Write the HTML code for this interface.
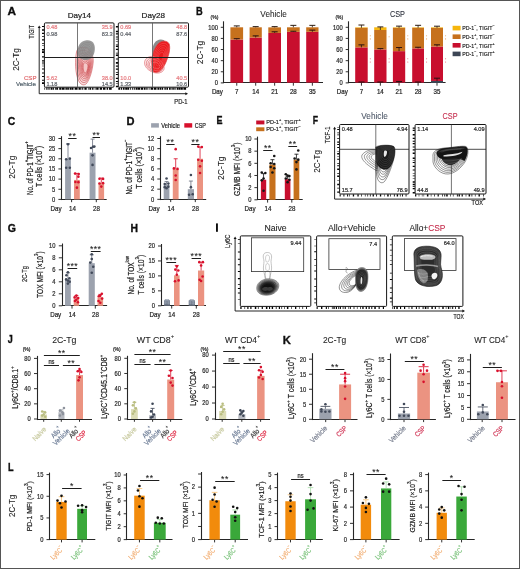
<!DOCTYPE html>
<html><head><meta charset="utf-8"><style>
html,body{margin:0;padding:0;background:#fff;width:520px;height:569px;overflow:hidden}
svg{display:block;will-change:transform}
text{font-family:"Liberation Sans",sans-serif}
</style></head><body>
<svg width="520" height="569" viewBox="0 0 520 569" font-family="Liberation Sans, sans-serif">
<rect x="0" y="0" width="520" height="569" fill="#ffffff" stroke="none" stroke-width="1" />
<text transform="translate(7.5,15.0)" font-size="11.8" text-anchor="start" fill="#0e0e0e" font-weight="bold" stroke="#0e0e0e" stroke-width="0.35">A</text>
<text transform="translate(79.4,17.5)" font-size="8.1" text-anchor="middle" fill="#222" font-weight="normal" stroke="#222" stroke-width="0.2" >Day14</text>
<text transform="translate(153.3,17.5)" font-size="8.1" text-anchor="middle" fill="#222" font-weight="normal" stroke="#222" stroke-width="0.2" >Day28</text>
<text transform="translate(19.0,59.5) rotate(-90)" font-size="9.0" text-anchor="middle" fill="#222" font-weight="normal" stroke="#222" stroke-width="0.08" textLength="22.7" lengthAdjust="spacingAndGlyphs" >2C-Tg</text>
<text transform="translate(33.8,31.8) rotate(-90)" font-size="7.4" text-anchor="middle" fill="#222" font-weight="normal" stroke="#222" stroke-width="0.2" textLength="13.5" lengthAdjust="spacingAndGlyphs" >TIGIT</text>
<text transform="translate(36.4,80.1)" font-size="6.0" text-anchor="end" fill="#e06a6e" font-weight="normal" stroke="#e06a6e" stroke-width="0.2" textLength="12.4" lengthAdjust="spacingAndGlyphs" >CSP</text>
<text transform="translate(35.9,86.4)" font-size="6.0" text-anchor="end" fill="#56656f" font-weight="normal" stroke="#56656f" stroke-width="0.2" textLength="19.8" lengthAdjust="spacingAndGlyphs" >Vehicle</text>
<text transform="translate(187.5,104.0)" font-size="7.2" text-anchor="end" fill="#222" font-weight="normal" stroke="#222" stroke-width="0.2" textLength="13.2" lengthAdjust="spacingAndGlyphs" >PD-1</text>
<line x1="39.2" y1="93.7" x2="39.2" y2="27.5" stroke="#1a1a1a" stroke-width="0.95" />
<path d="M37.7,28.1 L39.2,25.5 L40.7,28.1 Z" fill="#111"/>
<line x1="39.2" y1="93.7" x2="186" y2="93.7" stroke="#1a1a1a" stroke-width="0.95" />
<path d="M185.4,92.2 L188,93.7 L185.4,95.2 Z" fill="#111"/>
<line x1="43.1" y1="25.9" x2="43.1" y2="87.2" stroke="#050505" stroke-width="2.2" stroke-dasharray="1.0 2.3 1.5 2.1 1.1 2.4 0.7 2.2 1.2 2.9 0.6 1.6 0.6 3.0 1.3 0.9 1.6 3.4 1.2 2.5 0.7 0.8 1.1 1.0 0.7 1.5 0.5 2.1 1.0 3.1 1.1 2.5 1.0 2.6 1.0 1.6 1.6 3.5 1.4 2.7 0.8 1.4 0.8 1.0 1.3 1.9 1.4 1.8 1.6 3.1 0.5 1.4 1.5 2.1 1.6 1.9 0.6 2.5 1.4 1.5 0.6 1.7 1.6 2.8 0.6 1.5 0.6 1.0 1.4 1.3 1.1 2.0 0.7 2.8 0.6 2.5 0.6 1.9 0.7 1.5 1.6 3.0 0.8 3.2 0.7 1.9 1.4 2.5 0.6 3.5 0.7 1.5 1.3 1.7 0.8 1.0 0.6 2.4 0.8 2.4 0.9 2.0 1.6 2.1 1.1 3.1 0.7 1.2 1.5 3.0 0.8 1.3 1.3 3.3 0.7 3.4 1.5 2.4 1.0 1.1"/>
<line x1="44.4" y1="88.60000000000001" x2="112" y2="88.60000000000001" stroke="#050505" stroke-width="2.4" stroke-dasharray="0.7 1.2 1.2 0.9 1.2 1.0 2.0 0.5 1.0 0.9 0.8 0.4 1.9 1.1 2.1 0.5 2.8 0.4 0.6 0.5 1.7 0.3 1.0 0.6 2.0 0.3 1.5 1.1 3.0 0.9 2.3 0.8 0.9 0.2 0.6 1.1 2.3 1.2 0.7 0.8 1.8 0.9 1.4 1.2 0.8 0.7 2.4 1.1 2.4 0.9 2.5 1.1 1.4 0.9 2.8 1.1 1.6 1.0 2.7 0.8 2.1 0.6 2.0 0.8 0.8 0.8 3.0 1.1 2.3 0.6 2.4 0.8 1.7 1.0 0.8 1.0 0.7 0.8 1.8 0.4 2.3 0.7 2.1 1.1 1.2 0.2 1.3 0.9 1.1 0.4 2.8 0.9 1.7 1.1 1.4 0.9 1.1 0.6 2.5 1.1 2.7 0.6 2.0 0.5 0.9 0.7 2.6 1.0 2.3 1.2 1.3 0.4 1.7 0.5 1.1 0.6 2.1 0.7 1.4 1.0"/>
<rect x="44.4" y="22.9" width="69.6" height="64.30000000000001" fill="none" stroke="#151515" stroke-width="1.0" rx="1.0"/>
<path d="M76.5,52 C75,60 75,73 78.5,80.5 C80.5,85 84,86 86.5,83.5 C90,79 92.5,70 93.2,62 C93.8,55 90,48.5 85,47.5 C80.5,46.8 77.3,48 76.5,52 Z" fill="#fbe6e6"/>
<path d="M76.5,52 C75,60 75,73 78.5,80.5 C80.5,85 84,86 86.5,83.5 C90,79 92.5,70 93.2,62 C93.8,55 90,48.5 85,47.5 C80.5,46.8 77.3,48 76.5,52 Z" transform="translate(86 68.5) scale(1) translate(-86 -68.5)" fill="#f4c4c4" fill-opacity="0.18" stroke="#c83a40" stroke-width="0.55" vector-effect="non-scaling-stroke"/>
<path d="M76.5,52 C75,60 75,73 78.5,80.5 C80.5,85 84,86 86.5,83.5 C90,79 92.5,70 93.2,62 C93.8,55 90,48.5 85,47.5 C80.5,46.8 77.3,48 76.5,52 Z" transform="translate(86 68.5) scale(0.86) translate(-86 -68.5)" fill="#f4c4c4" fill-opacity="0.18" stroke="#c83a40" stroke-width="0.55" vector-effect="non-scaling-stroke"/>
<path d="M76.5,52 C75,60 75,73 78.5,80.5 C80.5,85 84,86 86.5,83.5 C90,79 92.5,70 93.2,62 C93.8,55 90,48.5 85,47.5 C80.5,46.8 77.3,48 76.5,52 Z" transform="translate(86 68.5) scale(0.73) translate(-86 -68.5)" fill="#f4c4c4" fill-opacity="0.18" stroke="#c83a40" stroke-width="0.55" vector-effect="non-scaling-stroke"/>
<path d="M76.5,52 C75,60 75,73 78.5,80.5 C80.5,85 84,86 86.5,83.5 C90,79 92.5,70 93.2,62 C93.8,55 90,48.5 85,47.5 C80.5,46.8 77.3,48 76.5,52 Z" transform="translate(86 68.5) scale(0.62) translate(-86 -68.5)" fill="#f4c4c4" fill-opacity="0.18" stroke="#c83a40" stroke-width="0.55" vector-effect="non-scaling-stroke"/>
<path d="M76.5,52 C75,60 75,73 78.5,80.5 C80.5,85 84,86 86.5,83.5 C90,79 92.5,70 93.2,62 C93.8,55 90,48.5 85,47.5 C80.5,46.8 77.3,48 76.5,52 Z" transform="translate(86 68.5) scale(0.52) translate(-86 -68.5)" fill="#f4c4c4" fill-opacity="0.18" stroke="#c83a40" stroke-width="0.55" vector-effect="non-scaling-stroke"/>
<path d="M76.5,52 C75,60 75,73 78.5,80.5 C80.5,85 84,86 86.5,83.5 C90,79 92.5,70 93.2,62 C93.8,55 90,48.5 85,47.5 C80.5,46.8 77.3,48 76.5,52 Z" transform="translate(86 68.5) scale(0.43) translate(-86 -68.5)" fill="#f4c4c4" fill-opacity="0.18" stroke="#c83a40" stroke-width="0.55" vector-effect="non-scaling-stroke"/>
<path d="M76.5,52 C75,60 75,73 78.5,80.5 C80.5,85 84,86 86.5,83.5 C90,79 92.5,70 93.2,62 C93.8,55 90,48.5 85,47.5 C80.5,46.8 77.3,48 76.5,52 Z" transform="translate(86 68.5) scale(0.35) translate(-86 -68.5)" fill="#f4c4c4" fill-opacity="0.18" stroke="#c83a40" stroke-width="0.55" vector-effect="non-scaling-stroke"/>
<path d="M76.5,52 C75,60 75,73 78.5,80.5 C80.5,85 84,86 86.5,83.5 C90,79 92.5,70 93.2,62 C93.8,55 90,48.5 85,47.5 C80.5,46.8 77.3,48 76.5,52 Z" transform="translate(86 68.5) scale(0.27) translate(-86 -68.5)" fill="#f4c4c4" fill-opacity="0.18" stroke="#c83a40" stroke-width="0.55" vector-effect="non-scaling-stroke"/>
<path d="M77.3,53 C77,46 80.5,41 86.5,40.2 C92.5,39.6 95.2,43.5 94.8,49.5 C94.3,55.5 91.5,59.8 86.5,60 C81.5,60.2 77.6,58 77.3,53 Z" fill="#8c8c8c" opacity="0.88"/>
<path d="M79,53 C79,47 82,43 87,42.5 C92,42 93.5,45 93,50 C92.5,55 90,58.5 86,58.5 C82,58.5 79,57 79,53 Z" transform="translate(87 50) scale(1.000) translate(-87 -50)" fill="none" stroke="#7a7a7a" stroke-width="0.35" vector-effect="non-scaling-stroke" opacity="1"/>
<path d="M79,53 C79,47 82,43 87,42.5 C92,42 93.5,45 93,50 C92.5,55 90,58.5 86,58.5 C82,58.5 79,57 79,53 Z" transform="translate(87 50) scale(0.783) translate(-87 -50)" fill="none" stroke="#7a7a7a" stroke-width="0.35" vector-effect="non-scaling-stroke" opacity="1"/>
<path d="M79,53 C79,47 82,43 87,42.5 C92,42 93.5,45 93,50 C92.5,55 90,58.5 86,58.5 C82,58.5 79,57 79,53 Z" transform="translate(87 50) scale(0.567) translate(-87 -50)" fill="none" stroke="#7a7a7a" stroke-width="0.35" vector-effect="non-scaling-stroke" opacity="1"/>
<path d="M79,53 C79,47 82,43 87,42.5 C92,42 93.5,45 93,50 C92.5,55 90,58.5 86,58.5 C82,58.5 79,57 79,53 Z" transform="translate(87 50) scale(0.350) translate(-87 -50)" fill="none" stroke="#7a7a7a" stroke-width="0.35" vector-effect="non-scaling-stroke" opacity="1"/>
<line x1="77.5" y1="22.9" x2="77.5" y2="87.2" stroke="#555" stroke-width="0.8" />
<line x1="44.4" y1="57.5" x2="114" y2="57.5" stroke="#1e1e1e" stroke-width="1.0" />
<text transform="translate(46.4,29.299999999999997)" font-size="5.6" text-anchor="start" fill="#e67c80" font-weight="normal" stroke="#e67c80" stroke-width="0.2" >0.48</text>
<text transform="translate(46.4,35.599999999999994)" font-size="5.6" text-anchor="start" fill="#62666c" font-weight="normal" stroke="#62666c" stroke-width="0.2" >0.98</text>
<text transform="translate(112.7,29.299999999999997)" font-size="5.6" text-anchor="end" fill="#e67c80" font-weight="normal" stroke="#e67c80" stroke-width="0.2" >35.9</text>
<text transform="translate(112.7,35.599999999999994)" font-size="5.6" text-anchor="end" fill="#62666c" font-weight="normal" stroke="#62666c" stroke-width="0.2" >83.3</text>
<text transform="translate(46.4,79.8)" font-size="5.6" text-anchor="start" fill="#e67c80" font-weight="normal" stroke="#e67c80" stroke-width="0.2" >5.62</text>
<text transform="translate(46.4,85.60000000000001)" font-size="5.6" text-anchor="start" fill="#62666c" font-weight="normal" stroke="#62666c" stroke-width="0.2" >1.18</text>
<text transform="translate(112.7,79.8)" font-size="5.6" text-anchor="end" fill="#e67c80" font-weight="normal" stroke="#e67c80" stroke-width="0.2" >38.0</text>
<text transform="translate(112.7,85.60000000000001)" font-size="5.6" text-anchor="end" fill="#62666c" font-weight="normal" stroke="#62666c" stroke-width="0.2" >14.5</text>
<line x1="117.0" y1="25.9" x2="117.0" y2="87.2" stroke="#050505" stroke-width="2.2" stroke-dasharray="1.5 3.4 1.5 1.0 1.2 1.9 1.1 1.2 0.7 2.0 0.7 2.0 0.5 1.0 1.3 1.9 1.1 2.8 0.9 1.0 1.4 2.4 1.2 2.5 1.6 1.8 1.3 1.8 1.1 2.6 0.8 1.0 1.0 2.7 1.1 2.0 1.2 1.3 0.7 1.7 1.4 1.3 0.6 1.1 0.5 1.5 1.1 3.0 0.9 1.8 0.8 1.6 1.4 2.3 0.8 1.1 1.4 2.7 1.4 1.4 1.1 3.3 1.2 3.4 0.7 3.4 0.6 1.9 0.5 3.0 1.3 3.4 1.4 3.4 1.1 3.5 1.3 1.7 1.6 1.8 0.7 1.0 1.0 1.3 1.5 3.4 0.7 1.1 1.1 1.3 1.1 3.0 0.8 1.9 1.5 2.0 0.9 3.2 1.4 3.2 1.3 1.9 1.3 3.0 1.2 1.4 0.8 1.9 1.3 2.3 1.1 3.0 0.6 2.5 0.9 2.3 1.4 1.5 1.5 1.0"/>
<line x1="118.3" y1="88.60000000000001" x2="186.5" y2="88.60000000000001" stroke="#050505" stroke-width="2.4" stroke-dasharray="1.9 0.7 1.2 0.8 1.7 0.6 2.3 0.2 1.5 1.0 0.9 1.1 1.1 0.9 1.0 0.6 1.6 0.3 2.3 0.7 2.3 0.7 1.9 0.7 1.3 1.1 0.8 1.1 2.7 0.7 2.5 0.9 2.1 0.5 1.4 0.5 1.3 1.2 1.4 0.6 1.6 1.0 1.7 0.8 1.2 0.5 0.8 0.4 1.2 1.1 1.8 0.3 1.7 0.3 2.0 0.6 2.7 0.5 2.6 0.4 3.0 0.8 0.7 1.0 1.3 0.6 1.0 1.0 0.8 0.9 1.5 0.9 1.3 0.3 2.8 0.9 1.0 1.2 2.8 0.4 0.6 0.8 0.9 0.9 1.7 0.9 2.0 1.0 2.6 0.8 2.0 0.5 0.9 0.3 2.7 0.4 1.6 0.5 2.1 0.7 2.7 0.6 1.5 0.9 2.4 1.1 1.3 1.1 3.0 1.2 0.9 0.6 2.5 1.0 0.7 0.6 2.3 1.0 1.9 0.4"/>
<rect x="118.3" y="22.9" width="70.2" height="64.30000000000001" fill="none" stroke="#151515" stroke-width="1.0" rx="1.0"/>
<path d="M152.6,50 C152.4,44 155.8,39.6 160.6,39.4 C165,39.2 166.4,42.5 165.4,47.5 C164.4,53.5 160.5,58.5 156.5,58.8 C153.8,59 152.7,55 152.6,50 Z" fill="#8c8c8c"/>
<path d="M144.5,63 C144.5,58.5 149,56 153,56.5 C158,57.5 163,62 164,67 C164.8,71 161,73.5 156,73 C151,72.5 144.5,68 144.5,63 Z" fill="#fde8e8"/>
<path d="M144.5,63 C144.5,58.5 149,56 153,56.5 C158,57.5 163,62 164,67 C164.8,71 161,73.5 156,73 C151,72.5 144.5,68 144.5,63 Z" transform="translate(156 66) scale(1) translate(-156 -66)" fill="none" stroke="#cf3a44" stroke-width="0.5" vector-effect="non-scaling-stroke"/>
<path d="M144.5,63 C144.5,58.5 149,56 153,56.5 C158,57.5 163,62 164,67 C164.8,71 161,73.5 156,73 C151,72.5 144.5,68 144.5,63 Z" transform="translate(156 66) scale(0.84) translate(-156 -66)" fill="none" stroke="#cf3a44" stroke-width="0.5" vector-effect="non-scaling-stroke"/>
<path d="M144.5,63 C144.5,58.5 149,56 153,56.5 C158,57.5 163,62 164,67 C164.8,71 161,73.5 156,73 C151,72.5 144.5,68 144.5,63 Z" transform="translate(156 66) scale(0.7) translate(-156 -66)" fill="none" stroke="#cf3a44" stroke-width="0.5" vector-effect="non-scaling-stroke"/>
<path d="M144.5,63 C144.5,58.5 149,56 153,56.5 C158,57.5 163,62 164,67 C164.8,71 161,73.5 156,73 C151,72.5 144.5,68 144.5,63 Z" transform="translate(156 66) scale(0.57) translate(-156 -66)" fill="none" stroke="#cf3a44" stroke-width="0.5" vector-effect="non-scaling-stroke"/>
<path d="M151.8,64 C151.5,57 154,48 158.5,43.5 C162.5,40 168,40.5 169.3,44.5 C170.5,49 168.5,56 166,62 C163.5,68 159.5,72.5 155.5,72.5 C152.5,72.5 152,68.5 151.8,64 Z" fill="#ea1a1e" stroke="#c81418" stroke-width="0.6"/>
<path d="M151.8,64 C151.5,57 154,48 158.5,43.5 C162.5,40 168,40.5 169.3,44.5 C170.5,49 168.5,56 166,62 C163.5,68 159.5,72.5 155.5,72.5 C152.5,72.5 152,68.5 151.8,64 Z" transform="translate(161 57) scale(1.000) translate(-161 -57)" fill="none" stroke="#ff8a8a" stroke-width="0.4" vector-effect="non-scaling-stroke" opacity="0.75"/>
<path d="M151.8,64 C151.5,57 154,48 158.5,43.5 C162.5,40 168,40.5 169.3,44.5 C170.5,49 168.5,56 166,62 C163.5,68 159.5,72.5 155.5,72.5 C152.5,72.5 152,68.5 151.8,64 Z" transform="translate(161 57) scale(0.860) translate(-161 -57)" fill="none" stroke="#ff8a8a" stroke-width="0.4" vector-effect="non-scaling-stroke" opacity="0.75"/>
<path d="M151.8,64 C151.5,57 154,48 158.5,43.5 C162.5,40 168,40.5 169.3,44.5 C170.5,49 168.5,56 166,62 C163.5,68 159.5,72.5 155.5,72.5 C152.5,72.5 152,68.5 151.8,64 Z" transform="translate(161 57) scale(0.720) translate(-161 -57)" fill="none" stroke="#ff8a8a" stroke-width="0.4" vector-effect="non-scaling-stroke" opacity="0.75"/>
<path d="M151.8,64 C151.5,57 154,48 158.5,43.5 C162.5,40 168,40.5 169.3,44.5 C170.5,49 168.5,56 166,62 C163.5,68 159.5,72.5 155.5,72.5 C152.5,72.5 152,68.5 151.8,64 Z" transform="translate(161 57) scale(0.580) translate(-161 -57)" fill="none" stroke="#ff8a8a" stroke-width="0.4" vector-effect="non-scaling-stroke" opacity="0.75"/>
<path d="M151.8,64 C151.5,57 154,48 158.5,43.5 C162.5,40 168,40.5 169.3,44.5 C170.5,49 168.5,56 166,62 C163.5,68 159.5,72.5 155.5,72.5 C152.5,72.5 152,68.5 151.8,64 Z" transform="translate(161 57) scale(0.440) translate(-161 -57)" fill="none" stroke="#ff8a8a" stroke-width="0.4" vector-effect="non-scaling-stroke" opacity="0.75"/>
<path d="M151.8,64 C151.5,57 154,48 158.5,43.5 C162.5,40 168,40.5 169.3,44.5 C170.5,49 168.5,56 166,62 C163.5,68 159.5,72.5 155.5,72.5 C152.5,72.5 152,68.5 151.8,64 Z" transform="translate(161 57) scale(0.300) translate(-161 -57)" fill="none" stroke="#ff8a8a" stroke-width="0.4" vector-effect="non-scaling-stroke" opacity="0.75"/>
<path d="M144.5,63 C144.5,58.5 149,56 153,56.5 C158,57.5 163,62 164,67 C164.8,71 161,73.5 156,73 C151,72.5 144.5,68 144.5,63 Z" transform="translate(157 66) scale(1.000) translate(-157 -66)" fill="none" stroke="#ffc0c0" stroke-width="0.4" vector-effect="non-scaling-stroke" opacity="0.7"/>
<path d="M144.5,63 C144.5,58.5 149,56 153,56.5 C158,57.5 163,62 164,67 C164.8,71 161,73.5 156,73 C151,72.5 144.5,68 144.5,63 Z" transform="translate(157 66) scale(0.700) translate(-157 -66)" fill="none" stroke="#ffc0c0" stroke-width="0.4" vector-effect="non-scaling-stroke" opacity="0.7"/>
<path d="M144.5,63 C144.5,58.5 149,56 153,56.5 C158,57.5 163,62 164,67 C164.8,71 161,73.5 156,73 C151,72.5 144.5,68 144.5,63 Z" transform="translate(157 66) scale(0.400) translate(-157 -66)" fill="none" stroke="#ffc0c0" stroke-width="0.4" vector-effect="non-scaling-stroke" opacity="0.7"/>
<line x1="152.5" y1="22.9" x2="152.5" y2="87.2" stroke="#555" stroke-width="0.8" />
<line x1="118.3" y1="57.5" x2="188.5" y2="57.5" stroke="#1e1e1e" stroke-width="1.0" />
<text transform="translate(120.3,29.299999999999997)" font-size="5.6" text-anchor="start" fill="#e67c80" font-weight="normal" stroke="#e67c80" stroke-width="0.2" >0.69</text>
<text transform="translate(120.3,35.599999999999994)" font-size="5.6" text-anchor="start" fill="#62666c" font-weight="normal" stroke="#62666c" stroke-width="0.2" >0.44</text>
<text transform="translate(187.2,29.299999999999997)" font-size="5.6" text-anchor="end" fill="#e67c80" font-weight="normal" stroke="#e67c80" stroke-width="0.2" >48.8</text>
<text transform="translate(187.2,35.599999999999994)" font-size="5.6" text-anchor="end" fill="#62666c" font-weight="normal" stroke="#62666c" stroke-width="0.2" >87.6</text>
<text transform="translate(120.3,79.8)" font-size="5.6" text-anchor="start" fill="#e67c80" font-weight="normal" stroke="#e67c80" stroke-width="0.2" >10.0</text>
<text transform="translate(120.3,85.60000000000001)" font-size="5.6" text-anchor="start" fill="#62666c" font-weight="normal" stroke="#62666c" stroke-width="0.2" >1.33</text>
<text transform="translate(187.2,79.8)" font-size="5.6" text-anchor="end" fill="#e67c80" font-weight="normal" stroke="#e67c80" stroke-width="0.2" >40.5</text>
<text transform="translate(187.2,85.60000000000001)" font-size="5.6" text-anchor="end" fill="#62666c" font-weight="normal" stroke="#62666c" stroke-width="0.2" >10.6</text>
<text transform="translate(196.0,15.0)" font-size="11.6" text-anchor="start" fill="#0e0e0e" font-weight="bold" textLength="6.7" lengthAdjust="spacingAndGlyphs" stroke="#0e0e0e" stroke-width="0.35">B</text>
<text transform="translate(203.4,52.5) rotate(-90)" font-size="9.0" text-anchor="middle" fill="#222" font-weight="normal" stroke="#222" stroke-width="0.08" textLength="23.4" lengthAdjust="spacingAndGlyphs" >2C-Tg</text>
<line x1="223.5" y1="21.3" x2="223.5" y2="83.05" stroke="#262626" stroke-width="1.1" />
<line x1="222.95" y1="82.5" x2="323" y2="82.5" stroke="#262626" stroke-width="1.1" />
<line x1="220.8" y1="82.9" x2="223.8" y2="82.9" stroke="#262626" stroke-width="0.95" />
<text transform="translate(217.9,85.21000000000001) scale(0.88,1)" font-size="6.6" text-anchor="end" fill="#2a2a2a" font-weight="normal" stroke="#2a2a2a" stroke-width="0.2" >0</text>
<line x1="220.8" y1="71.78" x2="223.8" y2="71.78" stroke="#262626" stroke-width="0.95" />
<text transform="translate(217.9,74.09) scale(0.88,1)" font-size="6.6" text-anchor="end" fill="#2a2a2a" font-weight="normal" stroke="#2a2a2a" stroke-width="0.2" >20</text>
<line x1="220.8" y1="60.660000000000004" x2="223.8" y2="60.660000000000004" stroke="#262626" stroke-width="0.95" />
<text transform="translate(217.9,62.970000000000006) scale(0.88,1)" font-size="6.6" text-anchor="end" fill="#2a2a2a" font-weight="normal" stroke="#2a2a2a" stroke-width="0.2" >40</text>
<line x1="220.8" y1="49.540000000000006" x2="223.8" y2="49.540000000000006" stroke="#262626" stroke-width="0.95" />
<text transform="translate(217.9,51.85000000000001) scale(0.88,1)" font-size="6.6" text-anchor="end" fill="#2a2a2a" font-weight="normal" stroke="#2a2a2a" stroke-width="0.2" >60</text>
<line x1="220.8" y1="38.42" x2="223.8" y2="38.42" stroke="#262626" stroke-width="0.95" />
<text transform="translate(217.9,40.730000000000004) scale(0.88,1)" font-size="6.6" text-anchor="end" fill="#2a2a2a" font-weight="normal" stroke="#2a2a2a" stroke-width="0.2" >80</text>
<line x1="220.8" y1="27.299999999999997" x2="223.8" y2="27.299999999999997" stroke="#262626" stroke-width="0.95" />
<text transform="translate(217.9,29.609999999999996) scale(0.88,1)" font-size="6.6" text-anchor="end" fill="#2a2a2a" font-weight="normal" stroke="#2a2a2a" stroke-width="0.2" >100</text>
<line x1="236.75" y1="82.9" x2="236.75" y2="85.7" stroke="#262626" stroke-width="0.95" />
<line x1="255.7" y1="82.9" x2="255.7" y2="85.7" stroke="#262626" stroke-width="0.95" />
<line x1="274.65" y1="82.9" x2="274.65" y2="85.7" stroke="#262626" stroke-width="0.95" />
<line x1="293.35" y1="82.9" x2="293.35" y2="85.7" stroke="#262626" stroke-width="0.95" />
<line x1="312.35" y1="82.9" x2="312.35" y2="85.7" stroke="#262626" stroke-width="0.95" />
<text transform="translate(214.4,19.0) scale(0.9,1)" font-size="5.6" text-anchor="middle" fill="#222" font-weight="normal" stroke="#222" stroke-width="0.2" >(%)</text>
<text transform="translate(211.9,93.8) scale(0.9,1)" font-size="6.9" text-anchor="start" fill="#222" font-weight="normal" stroke="#222" stroke-width="0.2" >Day</text>
<text transform="translate(236.75,93.8) scale(0.9,1)" font-size="6.9" text-anchor="middle" fill="#222" font-weight="normal" stroke="#222" stroke-width="0.2" >7</text>
<text transform="translate(255.7,93.8) scale(0.9,1)" font-size="6.9" text-anchor="middle" fill="#222" font-weight="normal" stroke="#222" stroke-width="0.2" >14</text>
<text transform="translate(274.65,93.8) scale(0.9,1)" font-size="6.9" text-anchor="middle" fill="#222" font-weight="normal" stroke="#222" stroke-width="0.2" >21</text>
<text transform="translate(293.35,93.8) scale(0.9,1)" font-size="6.9" text-anchor="middle" fill="#222" font-weight="normal" stroke="#222" stroke-width="0.2" >28</text>
<text transform="translate(312.35,93.8) scale(0.9,1)" font-size="6.9" text-anchor="middle" fill="#222" font-weight="normal" stroke="#222" stroke-width="0.2" >35</text>
<rect x="230.4" y="82.73320000000001" width="12.699999999999989" height="0.16679999999999495" fill="#3d4655" stroke="none" stroke-width="1" />
<rect x="230.4" y="39.532000000000004" width="12.699999999999989" height="43.20120000000001" fill="#c80f2e" stroke="none" stroke-width="1" />
<rect x="230.4" y="27.299999999999997" width="12.699999999999989" height="12.232000000000006" fill="#c6711d" stroke="none" stroke-width="1" />
<line x1="236.75" y1="39.532000000000004" x2="236.75" y2="38.698" stroke="#2a1010" stroke-width="0.8" />
<line x1="233.75" y1="38.698" x2="239.75" y2="38.698" stroke="#2a1010" stroke-width="1.0" />
<line x1="236.75" y1="27.299999999999997" x2="236.75" y2="25.910000000000004" stroke="#2a1a10" stroke-width="0.8" />
<line x1="233.75" y1="25.910000000000004" x2="239.75" y2="25.910000000000004" stroke="#2a1a10" stroke-width="1.0" />
<rect x="249.6" y="82.5664" width="12.200000000000017" height="0.3336000000000041" fill="#3d4655" stroke="none" stroke-width="1" />
<rect x="249.6" y="37.53040000000001" width="12.200000000000017" height="45.035999999999994" fill="#c80f2e" stroke="none" stroke-width="1" />
<rect x="249.6" y="27.299999999999997" width="12.200000000000017" height="10.23040000000001" fill="#c6711d" stroke="none" stroke-width="1" />
<line x1="255.7" y1="37.53040000000001" x2="255.7" y2="35.86240000000001" stroke="#2a1010" stroke-width="0.8" />
<line x1="252.7" y1="35.86240000000001" x2="258.7" y2="35.86240000000001" stroke="#2a1010" stroke-width="1.0" />
<line x1="255.7" y1="27.299999999999997" x2="255.7" y2="26.632799999999996" stroke="#2a1a10" stroke-width="0.8" />
<line x1="252.7" y1="26.632799999999996" x2="258.7" y2="26.632799999999996" stroke="#2a1a10" stroke-width="1.0" />
<rect x="268.3" y="82.67760000000001" width="12.699999999999989" height="0.22239999999999327" fill="#3d4655" stroke="none" stroke-width="1" />
<rect x="268.3" y="32.9156" width="12.699999999999989" height="49.762000000000015" fill="#c80f2e" stroke="none" stroke-width="1" />
<rect x="268.3" y="27.355599999999995" width="12.699999999999989" height="5.560000000000002" fill="#c6711d" stroke="none" stroke-width="1" />
<line x1="274.65" y1="32.9156" x2="274.65" y2="31.803599999999996" stroke="#2a1010" stroke-width="0.8" />
<line x1="271.65" y1="31.803599999999996" x2="277.65" y2="31.803599999999996" stroke="#2a1010" stroke-width="1.0" />
<line x1="274.65" y1="27.355599999999995" x2="274.65" y2="26.632799999999996" stroke="#2a1a10" stroke-width="0.8" />
<line x1="271.65" y1="26.632799999999996" x2="277.65" y2="26.632799999999996" stroke="#2a1a10" stroke-width="1.0" />
<rect x="287" y="82.67760000000001" width="12.699999999999989" height="0.22239999999999327" fill="#3d4655" stroke="none" stroke-width="1" />
<rect x="287" y="31.803599999999996" width="12.699999999999989" height="50.87400000000002" fill="#c80f2e" stroke="none" stroke-width="1" />
<rect x="287" y="27.299999999999997" width="12.699999999999989" height="4.503599999999999" fill="#c6711d" stroke="none" stroke-width="1" />
<line x1="293.35" y1="31.803599999999996" x2="293.35" y2="31.2476" stroke="#2a1010" stroke-width="0.8" />
<line x1="290.35" y1="31.2476" x2="296.35" y2="31.2476" stroke="#2a1010" stroke-width="1.0" />
<line x1="293.35" y1="27.299999999999997" x2="293.35" y2="25.354" stroke="#2a1a10" stroke-width="0.8" />
<line x1="290.35" y1="25.354" x2="296.35" y2="25.354" stroke="#2a1a10" stroke-width="1.0" />
<rect x="306.2" y="82.5664" width="12.300000000000011" height="0.3336000000000041" fill="#3d4655" stroke="none" stroke-width="1" />
<rect x="306.2" y="31.803600000000003" width="12.300000000000011" height="50.7628" fill="#c80f2e" stroke="none" stroke-width="1" />
<rect x="306.2" y="27.30000000000001" width="12.300000000000011" height="4.503599999999992" fill="#c6711d" stroke="none" stroke-width="1" />
<line x1="312.35" y1="31.803600000000003" x2="312.35" y2="30.135600000000004" stroke="#2a1010" stroke-width="0.8" />
<line x1="309.35" y1="30.135600000000004" x2="315.35" y2="30.135600000000004" stroke="#2a1010" stroke-width="1.0" />
<line x1="312.35" y1="27.30000000000001" x2="312.35" y2="25.354000000000006" stroke="#2a1a10" stroke-width="0.8" />
<line x1="309.35" y1="25.354000000000006" x2="315.35" y2="25.354000000000006" stroke="#2a1a10" stroke-width="1.0" />
<text transform="translate(273.6,16.6)" font-size="8.8" text-anchor="middle" fill="#2a2a2a" font-weight="normal" stroke="#2a2a2a" stroke-width="0.08" textLength="26.5" lengthAdjust="spacingAndGlyphs" >Vehicle</text>
<line x1="348.5" y1="21.3" x2="348.5" y2="83.05" stroke="#262626" stroke-width="1.1" />
<line x1="347.95" y1="82.5" x2="445.6" y2="82.5" stroke="#262626" stroke-width="1.1" />
<line x1="345.7" y1="82.9" x2="348.7" y2="82.9" stroke="#262626" stroke-width="0.95" />
<text transform="translate(342.8,85.21000000000001) scale(0.88,1)" font-size="6.6" text-anchor="end" fill="#2a2a2a" font-weight="normal" stroke="#2a2a2a" stroke-width="0.2" >0</text>
<line x1="345.7" y1="71.78" x2="348.7" y2="71.78" stroke="#262626" stroke-width="0.95" />
<text transform="translate(342.8,74.09) scale(0.88,1)" font-size="6.6" text-anchor="end" fill="#2a2a2a" font-weight="normal" stroke="#2a2a2a" stroke-width="0.2" >20</text>
<line x1="345.7" y1="60.660000000000004" x2="348.7" y2="60.660000000000004" stroke="#262626" stroke-width="0.95" />
<text transform="translate(342.8,62.970000000000006) scale(0.88,1)" font-size="6.6" text-anchor="end" fill="#2a2a2a" font-weight="normal" stroke="#2a2a2a" stroke-width="0.2" >40</text>
<line x1="345.7" y1="49.540000000000006" x2="348.7" y2="49.540000000000006" stroke="#262626" stroke-width="0.95" />
<text transform="translate(342.8,51.85000000000001) scale(0.88,1)" font-size="6.6" text-anchor="end" fill="#2a2a2a" font-weight="normal" stroke="#2a2a2a" stroke-width="0.2" >60</text>
<line x1="345.7" y1="38.42" x2="348.7" y2="38.42" stroke="#262626" stroke-width="0.95" />
<text transform="translate(342.8,40.730000000000004) scale(0.88,1)" font-size="6.6" text-anchor="end" fill="#2a2a2a" font-weight="normal" stroke="#2a2a2a" stroke-width="0.2" >80</text>
<line x1="345.7" y1="27.299999999999997" x2="348.7" y2="27.299999999999997" stroke="#262626" stroke-width="0.95" />
<text transform="translate(342.8,29.609999999999996) scale(0.88,1)" font-size="6.6" text-anchor="end" fill="#2a2a2a" font-weight="normal" stroke="#2a2a2a" stroke-width="0.2" >100</text>
<line x1="361.45" y1="82.9" x2="361.45" y2="85.7" stroke="#262626" stroke-width="0.95" />
<line x1="380.35" y1="82.9" x2="380.35" y2="85.7" stroke="#262626" stroke-width="0.95" />
<line x1="399.04999999999995" y1="82.9" x2="399.04999999999995" y2="85.7" stroke="#262626" stroke-width="0.95" />
<line x1="418.1" y1="82.9" x2="418.1" y2="85.7" stroke="#262626" stroke-width="0.95" />
<line x1="437.0" y1="82.9" x2="437.0" y2="85.7" stroke="#262626" stroke-width="0.95" />
<text transform="translate(339.3,19.0) scale(0.9,1)" font-size="5.6" text-anchor="middle" fill="#222" font-weight="normal" stroke="#222" stroke-width="0.2" >(%)</text>
<text transform="translate(336.8,93.8) scale(0.9,1)" font-size="6.9" text-anchor="start" fill="#222" font-weight="normal" stroke="#222" stroke-width="0.2" >Day</text>
<text transform="translate(361.45,93.8) scale(0.9,1)" font-size="6.9" text-anchor="middle" fill="#222" font-weight="normal" stroke="#222" stroke-width="0.2" >7</text>
<text transform="translate(380.35,93.8) scale(0.9,1)" font-size="6.9" text-anchor="middle" fill="#222" font-weight="normal" stroke="#222" stroke-width="0.2" >14</text>
<text transform="translate(399.04999999999995,93.8) scale(0.9,1)" font-size="6.9" text-anchor="middle" fill="#222" font-weight="normal" stroke="#222" stroke-width="0.2" >21</text>
<text transform="translate(418.1,93.8) scale(0.9,1)" font-size="6.9" text-anchor="middle" fill="#222" font-weight="normal" stroke="#222" stroke-width="0.2" >28</text>
<text transform="translate(437.0,93.8) scale(0.9,1)" font-size="6.9" text-anchor="middle" fill="#222" font-weight="normal" stroke="#222" stroke-width="0.2" >35</text>
<rect x="355.2" y="82.5664" width="12.5" height="0.3336000000000041" fill="#3d4655" stroke="none" stroke-width="1" />
<rect x="355.2" y="47.3716" width="12.5" height="35.1948" fill="#c80f2e" stroke="none" stroke-width="1" />
<rect x="355.2" y="27.800400000000003" width="12.5" height="19.571199999999997" fill="#c6711d" stroke="none" stroke-width="1" />
<rect x="355.2" y="27.299999999999997" width="12.5" height="0.5004000000000062" fill="#f6b60d" stroke="none" stroke-width="1" />
<line x1="361.45" y1="47.3716" x2="361.45" y2="44.8696" stroke="#2a1010" stroke-width="0.8" />
<line x1="358.45" y1="44.8696" x2="364.45" y2="44.8696" stroke="#2a1010" stroke-width="1.0" />
<line x1="361.45" y1="27.800400000000003" x2="361.45" y2="25.020400000000002" stroke="#2a1a10" stroke-width="0.8" />
<line x1="358.45" y1="25.020400000000002" x2="364.45" y2="25.020400000000002" stroke="#2a1a10" stroke-width="1.0" />
<line x1="361.45" y1="82.5664" x2="361.45" y2="82.0104" stroke="#2a1010" stroke-width="0.8" />
<line x1="358.45" y1="82.0104" x2="364.45" y2="82.0104" stroke="#2a1010" stroke-width="1.0" />
<rect x="374.2" y="82.5664" width="12.300000000000011" height="0.3336000000000041" fill="#3d4655" stroke="none" stroke-width="1" />
<rect x="374.2" y="49.4288" width="12.300000000000011" height="33.1376" fill="#c80f2e" stroke="none" stroke-width="1" />
<rect x="374.2" y="29.9688" width="12.300000000000011" height="19.46" fill="#c6711d" stroke="none" stroke-width="1" />
<rect x="374.2" y="27.299999999999997" width="12.300000000000011" height="2.6688000000000045" fill="#f6b60d" stroke="none" stroke-width="1" />
<line x1="380.35" y1="49.4288" x2="380.35" y2="48.5948" stroke="#2a1010" stroke-width="0.8" />
<line x1="377.35" y1="48.5948" x2="383.35" y2="48.5948" stroke="#2a1010" stroke-width="1.0" />
<line x1="380.35" y1="29.9688" x2="380.35" y2="26.910800000000002" stroke="#2a1a10" stroke-width="0.8" />
<line x1="377.35" y1="26.910800000000002" x2="383.35" y2="26.910800000000002" stroke="#2a1a10" stroke-width="1.0" />
<line x1="380.35" y1="82.5664" x2="380.35" y2="82.0104" stroke="#2a1010" stroke-width="0.8" />
<line x1="377.35" y1="82.0104" x2="383.35" y2="82.0104" stroke="#2a1010" stroke-width="1.0" />
<rect x="392.9" y="82.5664" width="12.300000000000011" height="0.3336000000000041" fill="#3d4655" stroke="none" stroke-width="1" />
<rect x="392.9" y="51.1524" width="12.300000000000011" height="31.414" fill="#c80f2e" stroke="none" stroke-width="1" />
<rect x="392.9" y="27.800400000000003" width="12.300000000000011" height="23.351999999999997" fill="#c6711d" stroke="none" stroke-width="1" />
<rect x="392.9" y="27.299999999999997" width="12.300000000000011" height="0.5004000000000062" fill="#f6b60d" stroke="none" stroke-width="1" />
<line x1="399.04999999999995" y1="51.1524" x2="399.04999999999995" y2="47.5384" stroke="#2a1010" stroke-width="0.8" />
<line x1="396.04999999999995" y1="47.5384" x2="402.04999999999995" y2="47.5384" stroke="#2a1010" stroke-width="1.0" />
<line x1="399.04999999999995" y1="27.800400000000003" x2="399.04999999999995" y2="26.132400000000004" stroke="#2a1a10" stroke-width="0.8" />
<line x1="396.04999999999995" y1="26.132400000000004" x2="402.04999999999995" y2="26.132400000000004" stroke="#2a1a10" stroke-width="1.0" />
<line x1="399.04999999999995" y1="82.5664" x2="399.04999999999995" y2="81.4544" stroke="#2a1010" stroke-width="0.8" />
<line x1="396.04999999999995" y1="81.4544" x2="402.04999999999995" y2="81.4544" stroke="#2a1010" stroke-width="1.0" />
<rect x="412.2" y="82.5664" width="11.800000000000011" height="0.3336000000000041" fill="#3d4655" stroke="none" stroke-width="1" />
<rect x="412.2" y="48.3724" width="11.800000000000011" height="34.194" fill="#c80f2e" stroke="none" stroke-width="1" />
<rect x="412.2" y="27.800400000000003" width="11.800000000000011" height="20.571999999999996" fill="#c6711d" stroke="none" stroke-width="1" />
<rect x="412.2" y="27.299999999999997" width="11.800000000000011" height="0.5004000000000062" fill="#f6b60d" stroke="none" stroke-width="1" />
<line x1="418.1" y1="48.3724" x2="418.1" y2="47.260400000000004" stroke="#2a1010" stroke-width="0.8" />
<line x1="415.1" y1="47.260400000000004" x2="421.1" y2="47.260400000000004" stroke="#2a1010" stroke-width="1.0" />
<line x1="418.1" y1="27.800400000000003" x2="418.1" y2="25.2984" stroke="#2a1a10" stroke-width="0.8" />
<line x1="415.1" y1="25.2984" x2="421.1" y2="25.2984" stroke="#2a1a10" stroke-width="1.0" />
<line x1="418.1" y1="82.5664" x2="418.1" y2="82.0104" stroke="#2a1010" stroke-width="0.8" />
<line x1="415.1" y1="82.0104" x2="421.1" y2="82.0104" stroke="#2a1010" stroke-width="1.0" />
<rect x="431" y="80.95400000000001" width="12" height="1.945999999999998" fill="#3d4655" stroke="none" stroke-width="1" />
<rect x="431" y="46.482" width="12" height="34.47200000000001" fill="#c80f2e" stroke="none" stroke-width="1" />
<rect x="431" y="27.856" width="12" height="18.625999999999998" fill="#c6711d" stroke="none" stroke-width="1" />
<rect x="431" y="27.299999999999997" width="12" height="0.5560000000000045" fill="#f6b60d" stroke="none" stroke-width="1" />
<line x1="437.0" y1="46.482" x2="437.0" y2="44.814" stroke="#2a1010" stroke-width="0.8" />
<line x1="434.0" y1="44.814" x2="440.0" y2="44.814" stroke="#2a1010" stroke-width="1.0" />
<line x1="437.0" y1="27.856" x2="437.0" y2="26.188000000000002" stroke="#2a1a10" stroke-width="0.8" />
<line x1="434.0" y1="26.188000000000002" x2="440.0" y2="26.188000000000002" stroke="#2a1a10" stroke-width="1.0" />
<line x1="437.0" y1="80.95400000000001" x2="437.0" y2="78.174" stroke="#2a1010" stroke-width="0.8" />
<line x1="434.0" y1="78.174" x2="440.0" y2="78.174" stroke="#2a1010" stroke-width="1.0" />
<circle cx="370.3" cy="35.7" r="0.55" fill="#e8a060"/>
<circle cx="370.3" cy="38.9" r="0.55" fill="#e8a060"/>
<circle cx="370.3" cy="58.8" r="0.55" fill="#e86070"/>
<circle cx="370.3" cy="62.0" r="0.55" fill="#e86070"/>
<circle cx="389.1" cy="36.8" r="0.55" fill="#e8a060"/>
<circle cx="389.1" cy="58.8" r="0.55" fill="#e86070"/>
<circle cx="389.1" cy="62.0" r="0.55" fill="#e86070"/>
<circle cx="407.8" cy="35.7" r="0.55" fill="#e8a060"/>
<circle cx="407.8" cy="38.9" r="0.55" fill="#e8a060"/>
<circle cx="407.8" cy="58.8" r="0.55" fill="#e86070"/>
<circle cx="407.8" cy="62.0" r="0.55" fill="#e86070"/>
<circle cx="426.6" cy="35.7" r="0.55" fill="#e8a060"/>
<circle cx="426.6" cy="38.9" r="0.55" fill="#e8a060"/>
<circle cx="426.6" cy="58.8" r="0.55" fill="#e86070"/>
<circle cx="426.6" cy="62.0" r="0.55" fill="#e86070"/>
<circle cx="445.6" cy="35.7" r="0.55" fill="#e8a060"/>
<circle cx="445.6" cy="38.9" r="0.55" fill="#e8a060"/>
<circle cx="445.6" cy="58.8" r="0.55" fill="#e86070"/>
<circle cx="445.6" cy="62.0" r="0.55" fill="#e86070"/>
<text transform="translate(397.4,16.6)" font-size="8.8" text-anchor="middle" fill="#2a2e3a" font-weight="normal" stroke="#2a2e3a" stroke-width="0.08" textLength="15.0" lengthAdjust="spacingAndGlyphs" >CSP</text>
<rect x="452.6" y="25.8" width="8" height="4.6" fill="#f6b60d" stroke="none" stroke-width="1" />
<text transform="translate(462.2,30.4)" font-size="6.0" text-anchor="start" fill="#2a2a2a" font-weight="normal" stroke="#2a2a2a" stroke-width="0.2" textLength="32.4" lengthAdjust="spacingAndGlyphs" >PD-1<tspan baseline-shift="0.8em" font-size="68%">−</tspan>, TIGIT<tspan baseline-shift="0.8em" font-size="68%">−</tspan></text>
<rect x="452.6" y="34.4" width="8" height="4.6" fill="#c6711d" stroke="none" stroke-width="1" />
<text transform="translate(462.2,39.0)" font-size="6.0" text-anchor="start" fill="#2a2a2a" font-weight="normal" stroke="#2a2a2a" stroke-width="0.2" textLength="32.4" lengthAdjust="spacingAndGlyphs" >PD-1<tspan baseline-shift="0.8em" font-size="68%">+</tspan>, TIGIT<tspan baseline-shift="0.8em" font-size="68%">−</tspan></text>
<rect x="452.6" y="43.0" width="8" height="4.6" fill="#c80f2e" stroke="none" stroke-width="1" />
<text transform="translate(462.2,47.6)" font-size="6.0" text-anchor="start" fill="#2a2a2a" font-weight="normal" stroke="#2a2a2a" stroke-width="0.2" textLength="32.4" lengthAdjust="spacingAndGlyphs" >PD-1<tspan baseline-shift="0.8em" font-size="68%">+</tspan>, TIGIT<tspan baseline-shift="0.8em" font-size="68%">+</tspan></text>
<rect x="452.6" y="51.599999999999994" width="8" height="4.6" fill="#3d4655" stroke="none" stroke-width="1" />
<text transform="translate(462.2,56.199999999999996)" font-size="6.0" text-anchor="start" fill="#2a2a2a" font-weight="normal" stroke="#2a2a2a" stroke-width="0.2" textLength="32.4" lengthAdjust="spacingAndGlyphs" >PD-1<tspan baseline-shift="0.8em" font-size="68%">−</tspan>, TIGIT<tspan baseline-shift="0.8em" font-size="68%">+</tspan></text>
<text transform="translate(7.7,124.5)" font-size="11.6" text-anchor="start" fill="#0e0e0e" font-weight="bold" textLength="7.5" lengthAdjust="spacingAndGlyphs" stroke="#0e0e0e" stroke-width="0.35">C</text>
<text transform="translate(14.8,167.3) rotate(-90)" font-size="9.6" text-anchor="middle" fill="#222" font-weight="normal" stroke="#222" stroke-width="0.08" textLength="23.1" lengthAdjust="spacingAndGlyphs" >2C-Tg</text>
<text transform="translate(33.0,168.2) rotate(-90)" font-size="8.5" text-anchor="middle" fill="#222" font-weight="normal" stroke="#222" stroke-width="0.2" textLength="53.7" lengthAdjust="spacingAndGlyphs" >No. of PD-1<tspan baseline-shift="0.8em" font-size="68%">+</tspan>TIGIT<tspan baseline-shift="0.8em" font-size="68%">+</tspan></text>
<text transform="translate(42.3,166.5) rotate(-90)" font-size="8.5" text-anchor="middle" fill="#222" font-weight="normal" stroke="#222" stroke-width="0.2" textLength="41" lengthAdjust="spacingAndGlyphs" >T cells (×10<tspan baseline-shift="0.8em" font-size="68%">3</tspan>)</text>
<line x1="61.5" y1="136.2" x2="61.5" y2="200.05" stroke="#262626" stroke-width="1.1" />
<line x1="60.95" y1="199.5" x2="106.7" y2="199.5" stroke="#262626" stroke-width="1.1" />
<line x1="58.4" y1="199.4" x2="61.8" y2="199.4" stroke="#262626" stroke-width="0.95" />
<text transform="translate(55.3,201.71) scale(0.88,1)" font-size="6.6" text-anchor="end" fill="#2a2a2a" font-weight="normal" stroke="#2a2a2a" stroke-width="0.2" >0</text>
<line x1="58.4" y1="189.25" x2="61.8" y2="189.25" stroke="#262626" stroke-width="0.95" />
<text transform="translate(55.3,191.56) scale(0.88,1)" font-size="6.6" text-anchor="end" fill="#2a2a2a" font-weight="normal" stroke="#2a2a2a" stroke-width="0.2" >5</text>
<line x1="58.4" y1="179.1" x2="61.8" y2="179.1" stroke="#262626" stroke-width="0.95" />
<text transform="translate(55.3,181.41) scale(0.88,1)" font-size="6.6" text-anchor="end" fill="#2a2a2a" font-weight="normal" stroke="#2a2a2a" stroke-width="0.2" >10</text>
<line x1="58.4" y1="168.95" x2="61.8" y2="168.95" stroke="#262626" stroke-width="0.95" />
<text transform="translate(55.3,171.26) scale(0.88,1)" font-size="6.6" text-anchor="end" fill="#2a2a2a" font-weight="normal" stroke="#2a2a2a" stroke-width="0.2" >15</text>
<line x1="58.4" y1="158.8" x2="61.8" y2="158.8" stroke="#262626" stroke-width="0.95" />
<text transform="translate(55.3,161.11) scale(0.88,1)" font-size="6.6" text-anchor="end" fill="#2a2a2a" font-weight="normal" stroke="#2a2a2a" stroke-width="0.2" >20</text>
<line x1="58.4" y1="148.65" x2="61.8" y2="148.65" stroke="#262626" stroke-width="0.95" />
<text transform="translate(55.3,150.96) scale(0.88,1)" font-size="6.6" text-anchor="end" fill="#2a2a2a" font-weight="normal" stroke="#2a2a2a" stroke-width="0.2" >25</text>
<line x1="58.4" y1="138.5" x2="61.8" y2="138.5" stroke="#262626" stroke-width="0.95" />
<text transform="translate(55.3,140.81) scale(0.88,1)" font-size="6.6" text-anchor="end" fill="#2a2a2a" font-weight="normal" stroke="#2a2a2a" stroke-width="0.2" >30</text>
<line x1="71.6" y1="199.4" x2="71.6" y2="202.20000000000002" stroke="#262626" stroke-width="0.95" />
<line x1="96.3" y1="199.4" x2="96.3" y2="202.20000000000002" stroke="#262626" stroke-width="0.95" />
<text transform="translate(50.5,210.8) scale(0.9,1)" font-size="6.9" text-anchor="start" fill="#222" font-weight="normal" stroke="#222" stroke-width="0.2" >Day</text>
<text transform="translate(72.4,210.8) scale(0.9,1)" font-size="6.9" text-anchor="middle" fill="#222" font-weight="normal" stroke="#222" stroke-width="0.2" >14</text>
<text transform="translate(96.5,210.8) scale(0.9,1)" font-size="6.9" text-anchor="middle" fill="#222" font-weight="normal" stroke="#222" stroke-width="0.2" >28</text>
<rect x="65.1" y="158.8" width="5.800000000000011" height="40.599999999999994" fill="#9ca2ae" stroke="none" stroke-width="1" />
<line x1="68.0" y1="158.8" x2="68.0" y2="143.778" stroke="#6a7080" stroke-width="0.8" />
<line x1="66.0" y1="143.778" x2="70.0" y2="143.778" stroke="#6a7080" stroke-width="0.85" />
<circle cx="68.00" cy="144.18" r="1.3" fill="#424a5a"/>
<circle cx="66.20" cy="159.21" r="1.3" fill="#424a5a"/>
<circle cx="69.80" cy="158.60" r="1.3" fill="#424a5a"/>
<circle cx="66.20" cy="167.73" r="1.3" fill="#424a5a"/>
<circle cx="69.80" cy="167.73" r="1.3" fill="#424a5a"/>
<rect x="74" y="179.912" width="5.799999999999997" height="19.488" fill="#eb9381" stroke="none" stroke-width="1" />
<line x1="76.9" y1="179.912" x2="76.9" y2="173.416" stroke="#d8102c" stroke-width="0.8" />
<line x1="74.9" y1="173.416" x2="78.9" y2="173.416" stroke="#d8102c" stroke-width="0.85" />
<circle cx="75.10" cy="173.62" r="1.3" fill="#d8102c"/>
<circle cx="78.70" cy="174.03" r="1.3" fill="#d8102c"/>
<circle cx="78.40" cy="176.66" r="1.3" fill="#d8102c"/>
<circle cx="75.40" cy="181.94" r="1.3" fill="#d8102c"/>
<circle cx="78.40" cy="182.15" r="1.3" fill="#d8102c"/>
<circle cx="76.90" cy="187.63" r="1.3" fill="#d8102c"/>
<rect x="89.6" y="152.71" width="5.900000000000006" height="46.69" fill="#9ca2ae" stroke="none" stroke-width="1" />
<line x1="92.55" y1="152.71" x2="92.55" y2="139.109" stroke="#6a7080" stroke-width="0.8" />
<line x1="90.55" y1="139.109" x2="94.55" y2="139.109" stroke="#6a7080" stroke-width="0.85" />
<circle cx="94.35" cy="146.62" r="1.3" fill="#424a5a"/>
<circle cx="91.05" cy="148.04" r="1.3" fill="#424a5a"/>
<circle cx="93.05" cy="146.82" r="1.3" fill="#424a5a"/>
<circle cx="92.55" cy="155.35" r="1.3" fill="#424a5a"/>
<circle cx="92.55" cy="164.89" r="1.3" fill="#424a5a"/>
<rect x="98.5" y="182.75400000000002" width="5.599999999999994" height="16.645999999999987" fill="#eb9381" stroke="none" stroke-width="1" />
<line x1="101.3" y1="182.75400000000002" x2="101.3" y2="178.085" stroke="#d8102c" stroke-width="0.8" />
<line x1="99.3" y1="178.085" x2="103.3" y2="178.085" stroke="#d8102c" stroke-width="0.85" />
<circle cx="99.50" cy="178.69" r="1.3" fill="#d8102c"/>
<circle cx="103.10" cy="178.90" r="1.3" fill="#d8102c"/>
<circle cx="103.10" cy="183.16" r="1.3" fill="#d8102c"/>
<circle cx="99.50" cy="183.57" r="1.3" fill="#d8102c"/>
<circle cx="101.30" cy="186.61" r="1.3" fill="#d8102c"/>
<line x1="68.2" y1="138.5" x2="76.6" y2="138.5" stroke="#1e1e1e" stroke-width="1.0" />
<text transform="translate(72.4,139.1)" font-size="8.6" text-anchor="middle" fill="#1a1a1a" font-weight="normal" stroke="#1a1a1a" stroke-width="0.08" letter-spacing="0.5">**</text>
<line x1="92.5" y1="137.5" x2="100" y2="137.5" stroke="#1e1e1e" stroke-width="1.0" />
<text transform="translate(96.25,138.1)" font-size="8.6" text-anchor="middle" fill="#1a1a1a" font-weight="normal" stroke="#1a1a1a" stroke-width="0.08" letter-spacing="0.5">**</text>
<text transform="translate(126.5,124.5)" font-size="11.6" text-anchor="start" fill="#0e0e0e" font-weight="bold" textLength="8.0" lengthAdjust="spacingAndGlyphs" stroke="#0e0e0e" stroke-width="0.35">D</text>
<rect x="151.1" y="123.2" width="7.8" height="4.4" fill="#9ca2ae" stroke="none" stroke-width="1" />
<text transform="translate(161.3,127.6)" font-size="6.4" text-anchor="start" fill="#222" font-weight="normal" stroke="#222" stroke-width="0.2" textLength="18.6" lengthAdjust="spacingAndGlyphs" >Vehicle</text>
<rect x="184.3" y="123.2" width="7.9" height="4.4" fill="#d8102c" stroke="none" stroke-width="1" />
<text transform="translate(194.8,127.6)" font-size="6.4" text-anchor="start" fill="#222" font-weight="normal" stroke="#222" stroke-width="0.2" textLength="11.1" lengthAdjust="spacingAndGlyphs" >CSP</text>
<text transform="translate(131.5,167.0) rotate(-90)" font-size="8.5" text-anchor="middle" fill="#222" font-weight="normal" stroke="#222" stroke-width="0.2" textLength="54.8" lengthAdjust="spacingAndGlyphs" >No. of PD-1<tspan baseline-shift="0.8em" font-size="68%">+</tspan>TIGIT<tspan baseline-shift="0.8em" font-size="68%">−</tspan></text>
<text transform="translate(141.6,167.9) rotate(-90)" font-size="8.5" text-anchor="middle" fill="#222" font-weight="normal" stroke="#222" stroke-width="0.2" textLength="41.7" lengthAdjust="spacingAndGlyphs" >T cells (×10<tspan baseline-shift="0.8em" font-size="68%">3</tspan>)</text>
<line x1="160.5" y1="136.2" x2="160.5" y2="200.05" stroke="#262626" stroke-width="1.1" />
<line x1="159.95" y1="199.5" x2="206.2" y2="199.5" stroke="#262626" stroke-width="1.1" />
<line x1="157.3" y1="199.3" x2="160.3" y2="199.3" stroke="#262626" stroke-width="0.95" />
<text transform="translate(154.3,201.61) scale(0.88,1)" font-size="6.6" text-anchor="end" fill="#2a2a2a" font-weight="normal" stroke="#2a2a2a" stroke-width="0.2" >0</text>
<line x1="157.3" y1="189.16666666666669" x2="160.3" y2="189.16666666666669" stroke="#262626" stroke-width="0.95" />
<text transform="translate(154.3,191.4766666666667) scale(0.88,1)" font-size="6.6" text-anchor="end" fill="#2a2a2a" font-weight="normal" stroke="#2a2a2a" stroke-width="0.2" >2</text>
<line x1="157.3" y1="179.03333333333333" x2="160.3" y2="179.03333333333333" stroke="#262626" stroke-width="0.95" />
<text transform="translate(154.3,181.34333333333333) scale(0.88,1)" font-size="6.6" text-anchor="end" fill="#2a2a2a" font-weight="normal" stroke="#2a2a2a" stroke-width="0.2" >4</text>
<line x1="157.3" y1="168.9" x2="160.3" y2="168.9" stroke="#262626" stroke-width="0.95" />
<text transform="translate(154.3,171.21) scale(0.88,1)" font-size="6.6" text-anchor="end" fill="#2a2a2a" font-weight="normal" stroke="#2a2a2a" stroke-width="0.2" >6</text>
<line x1="157.3" y1="158.76666666666668" x2="160.3" y2="158.76666666666668" stroke="#262626" stroke-width="0.95" />
<text transform="translate(154.3,161.07666666666668) scale(0.88,1)" font-size="6.6" text-anchor="end" fill="#2a2a2a" font-weight="normal" stroke="#2a2a2a" stroke-width="0.2" >8</text>
<line x1="157.3" y1="148.63333333333333" x2="160.3" y2="148.63333333333333" stroke="#262626" stroke-width="0.95" />
<text transform="translate(154.3,150.94333333333333) scale(0.88,1)" font-size="6.6" text-anchor="end" fill="#2a2a2a" font-weight="normal" stroke="#2a2a2a" stroke-width="0.2" >10</text>
<line x1="157.3" y1="138.5" x2="160.3" y2="138.5" stroke="#262626" stroke-width="0.95" />
<text transform="translate(154.3,140.81) scale(0.88,1)" font-size="6.6" text-anchor="end" fill="#2a2a2a" font-weight="normal" stroke="#2a2a2a" stroke-width="0.2" >12</text>
<line x1="170.7" y1="199.3" x2="170.7" y2="202.10000000000002" stroke="#262626" stroke-width="0.95" />
<line x1="195.3" y1="199.3" x2="195.3" y2="202.10000000000002" stroke="#262626" stroke-width="0.95" />
<text transform="translate(148.5,210.8) scale(0.9,1)" font-size="6.9" text-anchor="start" fill="#222" font-weight="normal" stroke="#222" stroke-width="0.2" >Day</text>
<text transform="translate(171,210.8) scale(0.9,1)" font-size="6.9" text-anchor="middle" fill="#222" font-weight="normal" stroke="#222" stroke-width="0.2" >14</text>
<text transform="translate(195.5,210.8) scale(0.9,1)" font-size="6.9" text-anchor="middle" fill="#222" font-weight="normal" stroke="#222" stroke-width="0.2" >28</text>
<rect x="163.7" y="185.11333333333334" width="5.700000000000017" height="14.186666666666667" fill="#9ca2ae" stroke="none" stroke-width="1" />
<line x1="166.55" y1="185.11333333333334" x2="166.55" y2="181.56666666666666" stroke="#6a7080" stroke-width="0.8" />
<line x1="164.55" y1="181.56666666666666" x2="168.55" y2="181.56666666666666" stroke="#6a7080" stroke-width="0.85" />
<circle cx="166.55" cy="178.53" r="1.3" fill="#424a5a"/>
<circle cx="164.75" cy="184.10" r="1.3" fill="#424a5a"/>
<circle cx="168.35" cy="183.59" r="1.3" fill="#424a5a"/>
<circle cx="164.75" cy="187.14" r="1.3" fill="#424a5a"/>
<circle cx="168.35" cy="186.63" r="1.3" fill="#424a5a"/>
<circle cx="166.55" cy="188.15" r="1.3" fill="#424a5a"/>
<rect x="172.8" y="168.9" width="5.799999999999983" height="30.400000000000006" fill="#eb9381" stroke="none" stroke-width="1" />
<line x1="175.7" y1="168.9" x2="175.7" y2="158.76666666666668" stroke="#d8102c" stroke-width="0.8" />
<line x1="173.7" y1="158.76666666666668" x2="177.7" y2="158.76666666666668" stroke="#d8102c" stroke-width="0.85" />
<circle cx="175.70" cy="149.14" r="1.3" fill="#d8102c"/>
<circle cx="173.90" cy="168.39" r="1.3" fill="#d8102c"/>
<circle cx="177.50" cy="168.90" r="1.3" fill="#d8102c"/>
<circle cx="175.70" cy="175.49" r="1.3" fill="#d8102c"/>
<circle cx="175.70" cy="180.05" r="1.3" fill="#d8102c"/>
<rect x="187.8" y="189.16666666666669" width="6.199999999999989" height="10.133333333333326" fill="#9ca2ae" stroke="none" stroke-width="1" />
<line x1="190.9" y1="189.16666666666669" x2="190.9" y2="181.06" stroke="#6a7080" stroke-width="0.8" />
<line x1="188.9" y1="181.06" x2="192.9" y2="181.06" stroke="#6a7080" stroke-width="0.85" />
<circle cx="190.90" cy="174.98" r="1.3" fill="#424a5a"/>
<circle cx="190.90" cy="187.14" r="1.3" fill="#424a5a"/>
<circle cx="189.10" cy="194.74" r="1.3" fill="#424a5a"/>
<circle cx="192.70" cy="194.23" r="1.3" fill="#424a5a"/>
<rect x="197.1" y="158.76666666666668" width="5.900000000000006" height="40.53333333333333" fill="#eb9381" stroke="none" stroke-width="1" />
<line x1="200.05" y1="158.76666666666668" x2="200.05" y2="147.11333333333334" stroke="#d8102c" stroke-width="0.8" />
<line x1="198.05" y1="147.11333333333334" x2="202.05" y2="147.11333333333334" stroke="#d8102c" stroke-width="0.85" />
<circle cx="198.25" cy="146.61" r="1.3" fill="#d8102c"/>
<circle cx="201.85" cy="147.11" r="1.3" fill="#d8102c"/>
<circle cx="198.25" cy="159.78" r="1.3" fill="#d8102c"/>
<circle cx="201.85" cy="160.79" r="1.3" fill="#d8102c"/>
<circle cx="200.05" cy="166.37" r="1.3" fill="#d8102c"/>
<circle cx="200.05" cy="172.95" r="1.3" fill="#d8102c"/>
<line x1="166.2" y1="144.5" x2="174.6" y2="144.5" stroke="#1e1e1e" stroke-width="1.0" />
<text transform="translate(170.39999999999998,145.1)" font-size="8.6" text-anchor="middle" fill="#1a1a1a" font-weight="normal" stroke="#1a1a1a" stroke-width="0.08" letter-spacing="0.5">**</text>
<line x1="191.3" y1="144.5" x2="199.6" y2="144.5" stroke="#1e1e1e" stroke-width="1.0" />
<text transform="translate(195.45,145.1)" font-size="8.6" text-anchor="middle" fill="#1a1a1a" font-weight="normal" stroke="#1a1a1a" stroke-width="0.08" letter-spacing="0.5">**</text>
<text transform="translate(216.5,124.3)" font-size="11.6" text-anchor="start" fill="#0e0e0e" font-weight="bold" textLength="6.0" lengthAdjust="spacingAndGlyphs" stroke="#0e0e0e" stroke-width="0.35">E</text>
<text transform="translate(223.9,168.2) rotate(-90)" font-size="9.6" text-anchor="middle" fill="#222" font-weight="normal" stroke="#222" stroke-width="0.08" textLength="23.4" lengthAdjust="spacingAndGlyphs" >2C-Tg</text>
<text transform="translate(239.6,169.2) rotate(-90)" font-size="8.5" text-anchor="middle" fill="#222" font-weight="normal" stroke="#222" stroke-width="0.2" textLength="53.5" lengthAdjust="spacingAndGlyphs" >GZMB MFI (×10<tspan baseline-shift="0.8em" font-size="68%">3</tspan>)</text>
<rect x="256.2" y="120.5" width="8.2" height="3.9" fill="#c80f2e" stroke="none" stroke-width="1" />
<text transform="translate(266.2,124.4)" font-size="6.0" text-anchor="start" fill="#2a2a2a" font-weight="normal" stroke="#2a2a2a" stroke-width="0.2" textLength="34.5" lengthAdjust="spacingAndGlyphs" >PD-1<tspan baseline-shift="0.8em" font-size="68%">+</tspan>, TIGIT<tspan baseline-shift="0.8em" font-size="68%">+</tspan></text>
<rect x="256.2" y="127.3" width="8.2" height="3.9" fill="#c6711d" stroke="none" stroke-width="1" />
<text transform="translate(266.2,131.2)" font-size="6.0" text-anchor="start" fill="#2a2a2a" font-weight="normal" stroke="#2a2a2a" stroke-width="0.2" textLength="34.5" lengthAdjust="spacingAndGlyphs" >PD-1<tspan baseline-shift="0.8em" font-size="68%">+</tspan>, TIGIT<tspan baseline-shift="0.8em" font-size="68%">−</tspan></text>
<line x1="257.5" y1="136.6" x2="257.5" y2="200.05" stroke="#262626" stroke-width="1.1" />
<line x1="256.95" y1="199.5" x2="302.7" y2="199.5" stroke="#262626" stroke-width="1.1" />
<line x1="254.39999999999998" y1="199.8" x2="257.4" y2="199.8" stroke="#262626" stroke-width="0.95" />
<text transform="translate(251.59999999999997,202.11) scale(0.88,1)" font-size="6.6" text-anchor="end" fill="#2a2a2a" font-weight="normal" stroke="#2a2a2a" stroke-width="0.2" >0</text>
<line x1="254.39999999999998" y1="187.64000000000001" x2="257.4" y2="187.64000000000001" stroke="#262626" stroke-width="0.95" />
<text transform="translate(251.59999999999997,189.95000000000002) scale(0.88,1)" font-size="6.6" text-anchor="end" fill="#2a2a2a" font-weight="normal" stroke="#2a2a2a" stroke-width="0.2" >2</text>
<line x1="254.39999999999998" y1="175.48000000000002" x2="257.4" y2="175.48000000000002" stroke="#262626" stroke-width="0.95" />
<text transform="translate(251.59999999999997,177.79000000000002) scale(0.88,1)" font-size="6.6" text-anchor="end" fill="#2a2a2a" font-weight="normal" stroke="#2a2a2a" stroke-width="0.2" >4</text>
<line x1="254.39999999999998" y1="163.32" x2="257.4" y2="163.32" stroke="#262626" stroke-width="0.95" />
<text transform="translate(251.59999999999997,165.63) scale(0.88,1)" font-size="6.6" text-anchor="end" fill="#2a2a2a" font-weight="normal" stroke="#2a2a2a" stroke-width="0.2" >6</text>
<line x1="254.39999999999998" y1="151.16" x2="257.4" y2="151.16" stroke="#262626" stroke-width="0.95" />
<text transform="translate(251.59999999999997,153.47) scale(0.88,1)" font-size="6.6" text-anchor="end" fill="#2a2a2a" font-weight="normal" stroke="#2a2a2a" stroke-width="0.2" >8</text>
<line x1="254.39999999999998" y1="139.0" x2="257.4" y2="139.0" stroke="#262626" stroke-width="0.95" />
<text transform="translate(251.59999999999997,141.31) scale(0.88,1)" font-size="6.6" text-anchor="end" fill="#2a2a2a" font-weight="normal" stroke="#2a2a2a" stroke-width="0.2" >10</text>
<line x1="267.6" y1="199.8" x2="267.6" y2="202.60000000000002" stroke="#262626" stroke-width="0.95" />
<line x1="291.8" y1="199.8" x2="291.8" y2="202.60000000000002" stroke="#262626" stroke-width="0.95" />
<text transform="translate(244.5,210.8) scale(0.9,1)" font-size="6.9" text-anchor="start" fill="#222" font-weight="normal" stroke="#222" stroke-width="0.2" >Day</text>
<text transform="translate(268,210.8) scale(0.9,1)" font-size="6.9" text-anchor="middle" fill="#222" font-weight="normal" stroke="#222" stroke-width="0.2" >14</text>
<text transform="translate(292,210.8) scale(0.9,1)" font-size="6.9" text-anchor="middle" fill="#222" font-weight="normal" stroke="#222" stroke-width="0.2" >28</text>
<rect x="260.9" y="179.73600000000002" width="5.300000000000011" height="20.063999999999993" fill="#c80f2e" stroke="none" stroke-width="1" />
<line x1="263.54999999999995" y1="179.73600000000002" x2="263.54999999999995" y2="173.656" stroke="#151515" stroke-width="0.8" />
<line x1="261.54999999999995" y1="173.656" x2="265.54999999999995" y2="173.656" stroke="#151515" stroke-width="0.85" />
<circle cx="261.75" cy="172.44" r="1.3" fill="#151515"/>
<circle cx="265.35" cy="173.05" r="1.3" fill="#151515"/>
<circle cx="263.55" cy="178.52" r="1.3" fill="#151515"/>
<circle cx="261.75" cy="180.34" r="1.3" fill="#151515"/>
<circle cx="263.55" cy="190.68" r="1.3" fill="#151515"/>
<rect x="269.4" y="164.536" width="6.100000000000023" height="35.26400000000001" fill="#c6711d" stroke="none" stroke-width="1" />
<line x1="272.45" y1="164.536" x2="272.45" y2="159.672" stroke="#151515" stroke-width="0.8" />
<line x1="270.45" y1="159.672" x2="274.45" y2="159.672" stroke="#151515" stroke-width="0.85" />
<circle cx="274.25" cy="156.02" r="1.3" fill="#151515"/>
<circle cx="270.65" cy="163.32" r="1.3" fill="#151515"/>
<circle cx="274.25" cy="163.93" r="1.3" fill="#151515"/>
<circle cx="270.65" cy="166.97" r="1.3" fill="#151515"/>
<circle cx="274.25" cy="168.18" r="1.3" fill="#151515"/>
<circle cx="272.45" cy="172.44" r="1.3" fill="#151515"/>
<rect x="284.8" y="179.12800000000001" width="5.599999999999966" height="20.671999999999997" fill="#c80f2e" stroke="none" stroke-width="1" />
<line x1="287.6" y1="179.12800000000001" x2="287.6" y2="176.696" stroke="#151515" stroke-width="0.8" />
<line x1="285.6" y1="176.696" x2="289.6" y2="176.696" stroke="#151515" stroke-width="0.85" />
<circle cx="285.80" cy="174.26" r="1.3" fill="#151515"/>
<circle cx="287.60" cy="175.48" r="1.3" fill="#151515"/>
<circle cx="289.40" cy="176.09" r="1.3" fill="#151515"/>
<circle cx="285.80" cy="178.52" r="1.3" fill="#151515"/>
<circle cx="289.40" cy="179.74" r="1.3" fill="#151515"/>
<circle cx="287.60" cy="182.17" r="1.3" fill="#151515"/>
<rect x="293.6" y="159.672" width="5.699999999999989" height="40.128000000000014" fill="#c6711d" stroke="none" stroke-width="1" />
<line x1="296.45000000000005" y1="159.672" x2="296.45000000000005" y2="154.2" stroke="#151515" stroke-width="0.8" />
<line x1="294.45000000000005" y1="154.2" x2="298.45000000000005" y2="154.2" stroke="#151515" stroke-width="0.85" />
<circle cx="298.25" cy="150.55" r="1.3" fill="#151515"/>
<circle cx="294.65" cy="158.46" r="1.3" fill="#151515"/>
<circle cx="298.25" cy="159.67" r="1.3" fill="#151515"/>
<circle cx="296.45" cy="162.10" r="1.3" fill="#151515"/>
<circle cx="296.45" cy="169.40" r="1.3" fill="#151515"/>
<line x1="263.2" y1="150.5" x2="272.5" y2="150.5" stroke="#1e1e1e" stroke-width="1.0" />
<text transform="translate(267.85,151.1)" font-size="8.6" text-anchor="middle" fill="#1a1a1a" font-weight="normal" stroke="#1a1a1a" stroke-width="0.08" letter-spacing="0.5">**</text>
<line x1="288.3" y1="146.5" x2="297.1" y2="146.5" stroke="#1e1e1e" stroke-width="1.0" />
<text transform="translate(292.70000000000005,147.1)" font-size="8.6" text-anchor="middle" fill="#1a1a1a" font-weight="normal" stroke="#1a1a1a" stroke-width="0.08" letter-spacing="0.5">**</text>
<text transform="translate(312.7,124.2)" font-size="11.6" text-anchor="start" fill="#0e0e0e" font-weight="bold" textLength="5.3" lengthAdjust="spacingAndGlyphs" stroke="#0e0e0e" stroke-width="0.35">F</text>
<text transform="translate(320.4,161.4) rotate(-90)" font-size="9.2" text-anchor="middle" fill="#222" font-weight="normal" stroke="#222" stroke-width="0.08" textLength="22.7" lengthAdjust="spacingAndGlyphs" >2C-Tg</text>
<text transform="translate(329.8,134.9) rotate(-90)" font-size="7.0" text-anchor="middle" fill="#222" font-weight="normal" stroke="#222" stroke-width="0.2" textLength="16.6" lengthAdjust="spacingAndGlyphs" >TCF-1</text>
<text transform="translate(374.6,119.2)" font-size="8.8" text-anchor="middle" fill="#4e5868" font-weight="normal" stroke="#4e5868" stroke-width="0.08" textLength="26.6" lengthAdjust="spacingAndGlyphs" >Vehicle</text>
<text transform="translate(450.1,119.2)" font-size="8.8" text-anchor="middle" fill="#c42a4a" font-weight="normal" stroke="#c42a4a" stroke-width="0.08" textLength="15.0" lengthAdjust="spacingAndGlyphs" >CSP</text>
<text transform="translate(483,205.3)" font-size="7.0" text-anchor="end" fill="#222" font-weight="normal" stroke="#222" stroke-width="0.2" textLength="11.4" lengthAdjust="spacingAndGlyphs" >TOX</text>
<line x1="334.6" y1="199.1" x2="334.6" y2="128.7" stroke="#1a1a1a" stroke-width="0.95" />
<path d="M333.1,129.3 L334.6,126.7 L336.1,129.3 Z" fill="#111"/>
<line x1="334.6" y1="199.1" x2="484" y2="199.1" stroke="#1a1a1a" stroke-width="0.95" />
<path d="M483.4,197.6 L486,199.1 L483.4,200.6 Z" fill="#111"/>
<line x1="338.3" y1="127.5" x2="338.3" y2="194.0" stroke="#050505" stroke-width="2.2" stroke-dasharray="0.5 1.1 0.9 2.6 0.7 1.1 0.8 2.8 0.7 2.8 1.2 1.2 1.1 2.0 1.0 3.5 0.6 0.9 1.5 1.9 0.7 1.7 0.9 3.4 0.7 1.4 1.1 2.3 1.5 3.1 0.9 1.4 1.4 3.5 0.5 2.8 1.5 2.6 0.7 3.0 1.3 1.3 1.2 1.4 0.5 1.7 0.9 1.9 1.2 3.1 1.6 3.4 1.6 2.9 0.8 1.3 1.2 2.3 1.2 1.1 0.7 3.3 1.2 2.7 0.6 1.9 1.5 2.6 1.6 1.3 1.0 3.0 1.0 2.9 1.1 1.1 0.6 3.5 0.6 1.3 0.9 2.7 1.4 2.1 1.0 2.9 0.8 1.8 1.2 2.5 0.5 1.1 0.7 2.8 1.3 3.4 1.3 1.5 1.3 3.5 0.9 0.8 0.9 1.6 0.7 0.9 0.6 3.1 0.6 2.5 0.7 1.3 1.4 1.6 0.7 2.0 1.3 2.2 1.4 1.9"/>
<line x1="339.6" y1="195.4" x2="407" y2="195.4" stroke="#050505" stroke-width="2.4" stroke-dasharray="1.1 2.7 1.0 2.7 1.0 1.2 0.6 2.9 1.3 3.3 1.3 2.4 0.7 3.1 0.6 1.9 0.7 1.8 0.8 1.9 1.3 2.3 0.8 2.9 1.3 3.0 0.5 2.5 1.5 1.5 0.7 3.0 0.9 1.9 1.4 1.8 0.7 1.4 0.9 2.7 0.9 2.9 0.6 1.5 1.2 2.1 1.0 3.3 0.8 1.3 0.5 2.1 0.8 2.1 0.5 0.8 0.9 2.8 0.8 3.3 1.1 1.9 1.4 1.4 1.2 3.1 1.1 1.7 0.6 2.4 0.7 1.8 1.1 3.3 1.2 2.2 1.4 1.6 0.9 2.6 1.1 1.4 1.0 3.0 0.8 2.7 0.6 3.4 1.3 1.7 1.6 3.0 0.6 1.5 1.0 3.5 0.7 0.9 0.8 0.9 0.9 2.3 1.0 1.2 0.5 3.0 1.0 2.1 1.0 2.7 1.5 3.0 1.3 1.7 0.7 1.0 1.4 1.0 1.1 3.3"/>
<rect x="339.6" y="124.5" width="69.39999999999998" height="69.5" fill="none" stroke="#151515" stroke-width="1.0" rx="1.0"/>
<line x1="375.8" y1="124.5" x2="375.8" y2="194.0" stroke="#3a3a3a" stroke-width="0.7" />
<line x1="339.6" y1="149.3" x2="409" y2="149.3" stroke="#1e1e1e" stroke-width="0.8" />
<line x1="413.8" y1="127.5" x2="413.8" y2="194.0" stroke="#050505" stroke-width="2.2" stroke-dasharray="1.3 1.0 1.2 3.1 1.4 2.2 1.2 1.8 1.1 1.1 1.3 2.4 0.8 1.8 1.3 2.0 1.6 3.4 1.4 1.0 0.6 1.6 0.9 2.7 1.4 2.3 1.2 2.3 0.5 2.2 0.7 1.9 0.5 2.6 1.5 1.0 1.1 0.9 0.9 1.2 1.4 2.8 1.5 1.4 1.3 2.7 1.1 3.3 1.2 1.6 1.3 2.1 0.7 2.5 0.6 2.0 1.1 0.8 1.2 1.0 1.2 1.7 0.5 3.5 0.6 1.2 1.1 1.5 1.1 2.1 1.1 2.3 0.8 1.4 1.3 2.0 1.1 3.3 0.5 1.5 1.1 0.9 1.3 1.9 0.8 1.3 1.6 0.9 1.4 2.7 1.5 2.7 0.9 2.3 1.5 0.9 1.4 2.6 0.7 3.4 0.8 0.8 0.8 2.2 0.5 2.4 1.0 1.7 1.3 2.5 1.6 3.1 1.4 3.3 1.4 2.1 0.6 2.0 1.2 3.4"/>
<line x1="415.1" y1="195.4" x2="484" y2="195.4" stroke="#050505" stroke-width="2.4" stroke-dasharray="1.2 2.4 0.6 2.6 0.5 1.2 0.5 2.8 1.5 2.4 0.6 2.8 0.7 2.7 1.2 3.4 0.7 1.4 0.9 1.0 1.5 2.5 0.6 2.1 0.6 3.4 0.9 0.8 1.3 1.7 1.2 2.9 0.6 2.3 1.5 1.4 0.8 2.6 0.6 3.0 1.4 3.4 1.4 2.4 1.0 2.2 1.2 3.4 0.7 2.1 1.0 1.5 0.7 2.9 1.1 2.7 0.8 2.1 0.7 1.2 0.6 2.6 1.4 2.3 1.4 1.0 1.1 1.2 1.1 1.5 0.8 3.3 1.1 1.5 1.0 1.6 1.4 1.9 1.4 2.4 1.2 2.4 1.1 1.0 1.4 2.5 0.7 2.1 1.5 2.6 1.1 2.2 0.6 2.1 1.0 2.5 0.9 1.2 1.4 1.5 0.7 2.0 1.5 2.7 0.7 1.1 1.1 1.0 0.8 1.1 1.5 3.2 1.5 2.6 0.5 1.5 1.4 0.9 1.0 2.9"/>
<rect x="415.1" y="124.5" width="70.89999999999998" height="69.5" fill="none" stroke="#151515" stroke-width="1.0" rx="1.0"/>
<line x1="451.4" y1="124.5" x2="451.4" y2="194.0" stroke="#3a3a3a" stroke-width="0.7" />
<line x1="415.1" y1="149.3" x2="486" y2="149.3" stroke="#1e1e1e" stroke-width="0.8" />
<path d="M377,150 C372,149 365,150.5 362,155 C360.5,158.5 365,163 370,166.5 C373,168.5 376,170.5 377,171 Z" transform="translate(378 157) scale(1) translate(-378 -157)" fill="none" stroke="#333" stroke-width="0.5" vector-effect="non-scaling-stroke"/>
<path d="M377,150 C372,149 365,150.5 362,155 C360.5,158.5 365,163 370,166.5 C373,168.5 376,170.5 377,171 Z" transform="translate(378 157) scale(0.84) translate(-378 -157)" fill="none" stroke="#333" stroke-width="0.5" vector-effect="non-scaling-stroke"/>
<path d="M377,150 C372,149 365,150.5 362,155 C360.5,158.5 365,163 370,166.5 C373,168.5 376,170.5 377,171 Z" transform="translate(378 157) scale(0.69) translate(-378 -157)" fill="none" stroke="#333" stroke-width="0.5" vector-effect="non-scaling-stroke"/>
<path d="M377,150 C372,149 365,150.5 362,155 C360.5,158.5 365,163 370,166.5 C373,168.5 376,170.5 377,171 Z" transform="translate(378 157) scale(0.55) translate(-378 -157)" fill="none" stroke="#333" stroke-width="0.5" vector-effect="non-scaling-stroke"/>
<path d="M377,150 C372,149 365,150.5 362,155 C360.5,158.5 365,163 370,166.5 C373,168.5 376,170.5 377,171 Z" transform="translate(378 157) scale(0.42) translate(-378 -157)" fill="none" stroke="#333" stroke-width="0.5" vector-effect="non-scaling-stroke"/>
<path d="M375.5,147 C380,144.8 390,144.5 393.8,146.5 C395.8,148 395.2,155 393.2,161 C391.2,168 388,177 384.5,181.5 C382,184 378.5,182.5 377.3,178 C376.2,174 375.5,165 375.5,158 Z" transform="translate(387 149) scale(1.000) translate(-387 -149)" fill="none" stroke="#222" stroke-width="0.5" vector-effect="non-scaling-stroke"/>
<path d="M375.5,147 C380,144.8 390,144.5 393.8,146.5 C395.8,148 395.2,155 393.2,161 C391.2,168 388,177 384.5,181.5 C382,184 378.5,182.5 377.3,178 C376.2,174 375.5,165 375.5,158 Z" transform="translate(387 149) scale(0.910) translate(-387 -149)" fill="none" stroke="#222" stroke-width="0.5" vector-effect="non-scaling-stroke"/>
<path d="M375.5,147 C380,144.8 390,144.5 393.8,146.5 C395.8,148 395.2,155 393.2,161 C391.2,168 388,177 384.5,181.5 C382,184 378.5,182.5 377.3,178 C376.2,174 375.5,165 375.5,158 Z" transform="translate(387 149) scale(0.830) translate(-387 -149)" fill="none" stroke="#222" stroke-width="0.5" vector-effect="non-scaling-stroke"/>
<path d="M375.5,147 C380,144.8 390,144.5 393.8,146.5 C395.8,148 395.2,155 393.2,161 C391.2,168 388,177 384.5,181.5 C382,184 378.5,182.5 377.3,178 C376.2,174 375.5,165 375.5,158 Z" transform="translate(387 149) scale(0.750) translate(-387 -149)" fill="none" stroke="#222" stroke-width="0.5" vector-effect="non-scaling-stroke"/>
<path d="M375.5,147 C380,144.8 390,144.5 393.8,146.5 C395.8,148 395.2,155 393.2,161 C391.2,168 388,177 384.5,181.5 C382,184 378.5,182.5 377.3,178 C376.2,174 375.5,165 375.5,158 Z" transform="translate(387 149) scale(0.680) translate(-387 -149)" fill="none" stroke="#222" stroke-width="0.5" vector-effect="non-scaling-stroke"/>
<path d="M375.5,147 C380,144.8 390,144.5 393.8,146.5 C395.8,148 395.2,155 393.2,161 C391.2,168 388,177 384.5,181.5 C382,184 378.5,182.5 377.3,178 C376.2,174 375.5,165 375.5,158 Z" transform="translate(387 149) scale(0.610) translate(-387 -149)" fill="none" stroke="#222" stroke-width="0.5" vector-effect="non-scaling-stroke"/>
<path d="M376,147.5 C379,145 389,144.6 393.6,146.3 C395.6,148 395.2,155 393.6,160 C392,165 389.5,169 386,169.5 C382,170 378,167 376.5,163 Z" fill="#1c1c1c"/>
<path d="M376,147.5 C379,145 389,144.6 393.6,146.3 C395.6,148 395.2,155 393.6,160 C392,165 389.5,169 386,169.5 C382,170 378,167 376.5,163 Z" transform="translate(386 153) scale(0.88) translate(-386 -153)" fill="none" stroke="#8a8a8a" stroke-width="0.35" vector-effect="non-scaling-stroke" opacity="0.55"/>
<path d="M376,147.5 C379,145 389,144.6 393.6,146.3 C395.6,148 395.2,155 393.6,160 C392,165 389.5,169 386,169.5 C382,170 378,167 376.5,163 Z" transform="translate(386 153) scale(0.76) translate(-386 -153)" fill="none" stroke="#8a8a8a" stroke-width="0.35" vector-effect="non-scaling-stroke" opacity="0.55"/>
<path d="M376,147.5 C379,145 389,144.6 393.6,146.3 C395.6,148 395.2,155 393.6,160 C392,165 389.5,169 386,169.5 C382,170 378,167 376.5,163 Z" transform="translate(386 153) scale(0.64) translate(-386 -153)" fill="none" stroke="#8a8a8a" stroke-width="0.35" vector-effect="non-scaling-stroke" opacity="0.55"/>
<path d="M376,147.5 C379,145 389,144.6 393.6,146.3 C395.6,148 395.2,155 393.6,160 C392,165 389.5,169 386,169.5 C382,170 378,167 376.5,163 Z" transform="translate(386 153) scale(0.52) translate(-386 -153)" fill="none" stroke="#8a8a8a" stroke-width="0.35" vector-effect="non-scaling-stroke" opacity="0.55"/>
<path d="M376,147.5 C379,145 389,144.6 393.6,146.3 C395.6,148 395.2,155 393.6,160 C392,165 389.5,169 386,169.5 C382,170 378,167 376.5,163 Z" transform="translate(386 153) scale(0.4) translate(-386 -153)" fill="none" stroke="#8a8a8a" stroke-width="0.35" vector-effect="non-scaling-stroke" opacity="0.55"/>
<path d="M384.2,151 C385.6,150.2 387.4,150.6 387,152.8 C386.6,155.5 385.2,157.3 384.3,156.8 C383.6,155.5 383.6,153 384.2,151 Z" fill="#e8e8e8"/>
<path d="M433,157 C432,151.5 437,148.5 445,148 C453,147.5 462,145.5 466,146.5 C469,148 468.5,156 465,162 C461,168 455,173.5 448,174 C441,174.5 434,168 433,162 Z" transform="translate(455 151) scale(1.000) translate(-455 -151)" fill="none" stroke="#262626" stroke-width="0.5" vector-effect="non-scaling-stroke"/>
<path d="M433,157 C432,151.5 437,148.5 445,148 C453,147.5 462,145.5 466,146.5 C469,148 468.5,156 465,162 C461,168 455,173.5 448,174 C441,174.5 434,168 433,162 Z" transform="translate(455 151) scale(0.930) translate(-455 -151)" fill="none" stroke="#262626" stroke-width="0.5" vector-effect="non-scaling-stroke"/>
<path d="M433,157 C432,151.5 437,148.5 445,148 C453,147.5 462,145.5 466,146.5 C469,148 468.5,156 465,162 C461,168 455,173.5 448,174 C441,174.5 434,168 433,162 Z" transform="translate(455 151) scale(0.860) translate(-455 -151)" fill="none" stroke="#262626" stroke-width="0.5" vector-effect="non-scaling-stroke"/>
<path d="M433,157 C432,151.5 437,148.5 445,148 C453,147.5 462,145.5 466,146.5 C469,148 468.5,156 465,162 C461,168 455,173.5 448,174 C441,174.5 434,168 433,162 Z" transform="translate(455 151) scale(0.790) translate(-455 -151)" fill="none" stroke="#262626" stroke-width="0.5" vector-effect="non-scaling-stroke"/>
<path d="M433,157 C432,151.5 437,148.5 445,148 C453,147.5 462,145.5 466,146.5 C469,148 468.5,156 465,162 C461,168 455,173.5 448,174 C441,174.5 434,168 433,162 Z" transform="translate(455 151) scale(0.720) translate(-455 -151)" fill="none" stroke="#262626" stroke-width="0.5" vector-effect="non-scaling-stroke"/>
<path d="M433,157 C432,151.5 437,148.5 445,148 C453,147.5 462,145.5 466,146.5 C469,148 468.5,156 465,162 C461,168 455,173.5 448,174 C441,174.5 434,168 433,162 Z" transform="translate(455 151) scale(0.660) translate(-455 -151)" fill="none" stroke="#262626" stroke-width="0.5" vector-effect="non-scaling-stroke"/>
<path d="M433,157 C432,151.5 437,148.5 445,148 C453,147.5 462,145.5 466,146.5 C469,148 468.5,156 465,162 C461,168 455,173.5 448,174 C441,174.5 434,168 433,162 Z" transform="translate(455 151) scale(0.62) translate(-455 -151)" fill="#2a2a2a"/>
<path d="M436.5,153 C437.5,149 446,148 453,147.6 C460,147.2 464,146 466.6,147.2 C468.6,149.5 467.5,156 464.5,161 C460.5,158 452,158.3 445,159 C440,159.5 436.5,156.5 436.5,153 Z" fill="#141414"/>
<path d="M437.5,152.5 C440,149.5 450,148.8 457,148.4 C461,148.2 464,147.4 466,148" transform="translate(452 152) scale(0.95) translate(-452 -152)" fill="none" stroke="#8a8a8a" stroke-width="0.35" vector-effect="non-scaling-stroke" opacity="0.6"/>
<path d="M437.5,152.5 C440,149.5 450,148.8 457,148.4 C461,148.2 464,147.4 466,148" transform="translate(452 152) scale(0.85) translate(-452 -152)" fill="none" stroke="#8a8a8a" stroke-width="0.35" vector-effect="non-scaling-stroke" opacity="0.6"/>
<path d="M437.5,152.5 C440,149.5 450,148.8 457,148.4 C461,148.2 464,147.4 466,148" transform="translate(452 152) scale(0.75) translate(-452 -152)" fill="none" stroke="#8a8a8a" stroke-width="0.35" vector-effect="non-scaling-stroke" opacity="0.6"/>
<path d="M437.5,152.5 C440,149.5 450,148.8 457,148.4 C461,148.2 464,147.4 466,148" transform="translate(452 152) scale(0.65) translate(-452 -152)" fill="none" stroke="#8a8a8a" stroke-width="0.35" vector-effect="non-scaling-stroke" opacity="0.6"/>
<path d="M441.0,160.5 C447,161.5 455,161.0 462,158.5" fill="none" stroke="#8a8a8a" stroke-width="0.4" opacity="0.7"/>
<path d="M442.5,162.9 C447,163.9 455,163.4 460,160.9" fill="none" stroke="#8a8a8a" stroke-width="0.4" opacity="0.7"/>
<path d="M444.0,165.3 C447,166.3 455,165.8 458,163.3" fill="none" stroke="#8a8a8a" stroke-width="0.4" opacity="0.7"/>
<path d="M443.5,155.3 C449,154 456,154.2 462.5,151.8 C461,155.2 452,156.6 443.5,156.6 Z" fill="#e0e0e0"/>
<text transform="translate(341.8,131.1)" font-size="5.6" text-anchor="start" fill="#2a2a2a" font-weight="normal" stroke="#2a2a2a" stroke-width="0.2" >0.48</text>
<text transform="translate(407.6,131.1)" font-size="5.6" text-anchor="end" fill="#2a2a2a" font-weight="normal" stroke="#2a2a2a" stroke-width="0.2" >4.94</text>
<text transform="translate(341.8,191.6)" font-size="5.6" text-anchor="start" fill="#2a2a2a" font-weight="normal" stroke="#2a2a2a" stroke-width="0.2" >15.7</text>
<text transform="translate(407.6,191.6)" font-size="5.6" text-anchor="end" fill="#2a2a2a" font-weight="normal" stroke="#2a2a2a" stroke-width="0.2" >78.9</text>
<text transform="translate(417.3,131.1)" font-size="5.6" text-anchor="start" fill="#2a2a2a" font-weight="normal" stroke="#2a2a2a" stroke-width="0.2" >1.14</text>
<text transform="translate(484.6,131.1)" font-size="5.6" text-anchor="end" fill="#2a2a2a" font-weight="normal" stroke="#2a2a2a" stroke-width="0.2" >4.09</text>
<text transform="translate(417.3,191.6)" font-size="5.6" text-anchor="start" fill="#2a2a2a" font-weight="normal" stroke="#2a2a2a" stroke-width="0.2" >44.8</text>
<text transform="translate(484.6,191.6)" font-size="5.6" text-anchor="end" fill="#2a2a2a" font-weight="normal" stroke="#2a2a2a" stroke-width="0.2" >49.9</text>
<text transform="translate(7.8,232.3)" font-size="11.6" text-anchor="start" fill="#0e0e0e" font-weight="bold" textLength="8.2" lengthAdjust="spacingAndGlyphs" stroke="#0e0e0e" stroke-width="0.35">G</text>
<text transform="translate(26.9,274.1) rotate(-90)" font-size="7.4" text-anchor="middle" fill="#222" font-weight="normal" stroke="#222" stroke-width="0.2" textLength="15.8" lengthAdjust="spacingAndGlyphs" >2C-Tg</text>
<text transform="translate(43.0,274.6) rotate(-90)" font-size="8.5" text-anchor="middle" fill="#222" font-weight="normal" stroke="#222" stroke-width="0.2" textLength="46.6" lengthAdjust="spacingAndGlyphs" >TOX MFI (×10<tspan baseline-shift="0.8em" font-size="68%">3</tspan>)</text>
<line x1="62.5" y1="243.5" x2="62.5" y2="306.05" stroke="#262626" stroke-width="1.1" />
<line x1="61.95" y1="305.5" x2="107.1" y2="305.5" stroke="#262626" stroke-width="1.1" />
<line x1="58.8" y1="305.8" x2="62" y2="305.8" stroke="#262626" stroke-width="0.95" />
<text transform="translate(55.5,308.11) scale(0.88,1)" font-size="6.6" text-anchor="end" fill="#2a2a2a" font-weight="normal" stroke="#2a2a2a" stroke-width="0.2" >0</text>
<line x1="58.8" y1="293.8" x2="62" y2="293.8" stroke="#262626" stroke-width="0.95" />
<text transform="translate(55.5,296.11) scale(0.88,1)" font-size="6.6" text-anchor="end" fill="#2a2a2a" font-weight="normal" stroke="#2a2a2a" stroke-width="0.2" >2</text>
<line x1="58.8" y1="281.8" x2="62" y2="281.8" stroke="#262626" stroke-width="0.95" />
<text transform="translate(55.5,284.11) scale(0.88,1)" font-size="6.6" text-anchor="end" fill="#2a2a2a" font-weight="normal" stroke="#2a2a2a" stroke-width="0.2" >4</text>
<line x1="58.8" y1="269.8" x2="62" y2="269.8" stroke="#262626" stroke-width="0.95" />
<text transform="translate(55.5,272.11) scale(0.88,1)" font-size="6.6" text-anchor="end" fill="#2a2a2a" font-weight="normal" stroke="#2a2a2a" stroke-width="0.2" >6</text>
<line x1="58.8" y1="257.8" x2="62" y2="257.8" stroke="#262626" stroke-width="0.95" />
<text transform="translate(55.5,260.11) scale(0.88,1)" font-size="6.6" text-anchor="end" fill="#2a2a2a" font-weight="normal" stroke="#2a2a2a" stroke-width="0.2" >8</text>
<line x1="58.8" y1="245.8" x2="62" y2="245.8" stroke="#262626" stroke-width="0.95" />
<text transform="translate(55.5,248.11) scale(0.88,1)" font-size="6.6" text-anchor="end" fill="#2a2a2a" font-weight="normal" stroke="#2a2a2a" stroke-width="0.2" >10</text>
<line x1="72" y1="305.8" x2="72" y2="308.6" stroke="#262626" stroke-width="0.95" />
<line x1="95.3" y1="305.8" x2="95.3" y2="308.6" stroke="#262626" stroke-width="0.95" />
<text transform="translate(50.2,317.3) scale(0.9,1)" font-size="6.9" text-anchor="start" fill="#222" font-weight="normal" stroke="#222" stroke-width="0.2" >Day</text>
<text transform="translate(72.2,317.3) scale(0.9,1)" font-size="6.9" text-anchor="middle" fill="#222" font-weight="normal" stroke="#222" stroke-width="0.2" >14</text>
<text transform="translate(95.5,317.3) scale(0.9,1)" font-size="6.9" text-anchor="middle" fill="#222" font-weight="normal" stroke="#222" stroke-width="0.2" >28</text>
<rect x="65" y="279.40000000000003" width="5.799999999999997" height="26.399999999999977" fill="#9ca2ae" stroke="none" stroke-width="1" />
<line x1="67.9" y1="279.40000000000003" x2="67.9" y2="272.8" stroke="#6a7080" stroke-width="0.8" />
<line x1="65.9" y1="272.8" x2="69.9" y2="272.8" stroke="#6a7080" stroke-width="0.85" />
<circle cx="67.90" cy="272.20" r="1.3" fill="#424a5a"/>
<circle cx="66.40" cy="275.20" r="1.3" fill="#424a5a"/>
<circle cx="69.40" cy="278.20" r="1.3" fill="#424a5a"/>
<circle cx="67.90" cy="280.60" r="1.3" fill="#424a5a"/>
<circle cx="66.10" cy="279.40" r="1.3" fill="#424a5a"/>
<circle cx="69.70" cy="281.80" r="1.3" fill="#424a5a"/>
<circle cx="67.90" cy="283.60" r="1.3" fill="#424a5a"/>
<rect x="73.7" y="298.6" width="5.3999999999999915" height="7.199999999999989" fill="#eb9381" stroke="none" stroke-width="1" />
<line x1="76.4" y1="298.6" x2="76.4" y2="295.6" stroke="#d8102c" stroke-width="0.8" />
<line x1="74.4" y1="295.6" x2="78.4" y2="295.6" stroke="#d8102c" stroke-width="0.85" />
<circle cx="76.40" cy="295.60" r="1.3" fill="#d8102c"/>
<circle cx="74.60" cy="297.40" r="1.3" fill="#d8102c"/>
<circle cx="78.20" cy="298.00" r="1.3" fill="#d8102c"/>
<circle cx="76.40" cy="299.80" r="1.3" fill="#d8102c"/>
<circle cx="74.90" cy="301.00" r="1.3" fill="#d8102c"/>
<circle cx="77.90" cy="302.20" r="1.3" fill="#d8102c"/>
<rect x="88.7" y="263.20000000000005" width="6.099999999999994" height="42.599999999999966" fill="#9ca2ae" stroke="none" stroke-width="1" />
<line x1="91.75" y1="263.20000000000005" x2="91.75" y2="254.8" stroke="#6a7080" stroke-width="0.8" />
<line x1="89.75" y1="254.8" x2="93.75" y2="254.8" stroke="#6a7080" stroke-width="0.85" />
<circle cx="91.75" cy="254.20" r="1.3" fill="#424a5a"/>
<circle cx="91.75" cy="259.00" r="1.3" fill="#424a5a"/>
<circle cx="90.25" cy="262.60" r="1.3" fill="#424a5a"/>
<circle cx="93.25" cy="266.80" r="1.3" fill="#424a5a"/>
<circle cx="91.75" cy="272.80" r="1.3" fill="#424a5a"/>
<rect x="97.5" y="297.40000000000003" width="5.599999999999994" height="8.399999999999977" fill="#eb9381" stroke="none" stroke-width="1" />
<line x1="100.3" y1="297.40000000000003" x2="100.3" y2="294.40000000000003" stroke="#d8102c" stroke-width="0.8" />
<line x1="98.3" y1="294.40000000000003" x2="102.3" y2="294.40000000000003" stroke="#d8102c" stroke-width="0.85" />
<circle cx="101.80" cy="293.80" r="1.3" fill="#d8102c"/>
<circle cx="100.30" cy="295.60" r="1.3" fill="#d8102c"/>
<circle cx="98.80" cy="296.20" r="1.3" fill="#d8102c"/>
<circle cx="102.10" cy="298.60" r="1.3" fill="#d8102c"/>
<circle cx="98.50" cy="301.00" r="1.3" fill="#d8102c"/>
<circle cx="100.30" cy="302.80" r="1.3" fill="#d8102c"/>
<line x1="67.6" y1="268.5" x2="77.2" y2="268.5" stroke="#1e1e1e" stroke-width="1.0" />
<text transform="translate(72.4,269.1)" font-size="8.6" text-anchor="middle" fill="#1a1a1a" font-weight="normal" stroke="#1a1a1a" stroke-width="0.08" letter-spacing="0.5">***</text>
<line x1="90.8" y1="251.5" x2="100.6" y2="251.5" stroke="#1e1e1e" stroke-width="1.0" />
<text transform="translate(95.69999999999999,252.1)" font-size="8.6" text-anchor="middle" fill="#1a1a1a" font-weight="normal" stroke="#1a1a1a" stroke-width="0.08" letter-spacing="0.5">***</text>
<text transform="translate(130.6,232.3)" font-size="11.6" text-anchor="start" fill="#0e0e0e" font-weight="bold" textLength="7.5" lengthAdjust="spacingAndGlyphs" stroke="#0e0e0e" stroke-width="0.35">H</text>
<text transform="translate(133.5,275.2) rotate(-90)" font-size="8.5" text-anchor="middle" fill="#222" font-weight="normal" stroke="#222" stroke-width="0.2" textLength="38.4" lengthAdjust="spacingAndGlyphs" >No. of TOX<tspan baseline-shift="0.8em" font-size="68%">low</tspan></text>
<text transform="translate(144.3,274.6) rotate(-90)" font-size="8.5" text-anchor="middle" fill="#222" font-weight="normal" stroke="#222" stroke-width="0.2" textLength="39.6" lengthAdjust="spacingAndGlyphs" >T cells (×10<tspan baseline-shift="0.8em" font-size="68%">3</tspan>)</text>
<line x1="161.5" y1="244" x2="161.5" y2="306.05" stroke="#262626" stroke-width="1.1" />
<line x1="160.95" y1="305.5" x2="206" y2="305.5" stroke="#262626" stroke-width="1.1" />
<line x1="158.0" y1="305.8" x2="161.2" y2="305.8" stroke="#262626" stroke-width="0.95" />
<text transform="translate(154.89999999999998,308.11) scale(0.88,1)" font-size="6.6" text-anchor="end" fill="#2a2a2a" font-weight="normal" stroke="#2a2a2a" stroke-width="0.2" >0</text>
<line x1="158.0" y1="290.85" x2="161.2" y2="290.85" stroke="#262626" stroke-width="0.95" />
<text transform="translate(154.89999999999998,293.16) scale(0.88,1)" font-size="6.6" text-anchor="end" fill="#2a2a2a" font-weight="normal" stroke="#2a2a2a" stroke-width="0.2" >5</text>
<line x1="158.0" y1="275.9" x2="161.2" y2="275.9" stroke="#262626" stroke-width="0.95" />
<text transform="translate(154.89999999999998,278.21) scale(0.88,1)" font-size="6.6" text-anchor="end" fill="#2a2a2a" font-weight="normal" stroke="#2a2a2a" stroke-width="0.2" >10</text>
<line x1="158.0" y1="260.95" x2="161.2" y2="260.95" stroke="#262626" stroke-width="0.95" />
<text transform="translate(154.89999999999998,263.26) scale(0.88,1)" font-size="6.6" text-anchor="end" fill="#2a2a2a" font-weight="normal" stroke="#2a2a2a" stroke-width="0.2" >15</text>
<line x1="158.0" y1="246.0" x2="161.2" y2="246.0" stroke="#262626" stroke-width="0.95" />
<text transform="translate(154.89999999999998,248.31) scale(0.88,1)" font-size="6.6" text-anchor="end" fill="#2a2a2a" font-weight="normal" stroke="#2a2a2a" stroke-width="0.2" >20</text>
<line x1="171.7" y1="305.8" x2="171.7" y2="308.6" stroke="#262626" stroke-width="0.95" />
<line x1="196.3" y1="305.8" x2="196.3" y2="308.6" stroke="#262626" stroke-width="0.95" />
<text transform="translate(149.5,317.3) scale(0.9,1)" font-size="6.9" text-anchor="start" fill="#222" font-weight="normal" stroke="#222" stroke-width="0.2" >Day</text>
<text transform="translate(171.7,317.3) scale(0.9,1)" font-size="6.9" text-anchor="middle" fill="#222" font-weight="normal" stroke="#222" stroke-width="0.2" >14</text>
<text transform="translate(196.3,317.3) scale(0.9,1)" font-size="6.9" text-anchor="middle" fill="#222" font-weight="normal" stroke="#222" stroke-width="0.2" >28</text>
<rect x="164.1" y="300.418" width="5.900000000000006" height="5.382000000000005" fill="#6a7484" stroke="none" stroke-width="1" />
<line x1="167.05" y1="300.418" x2="167.05" y2="299.82" stroke="#8c96a6" stroke-width="0.8" />
<line x1="165.05" y1="299.82" x2="169.05" y2="299.82" stroke="#8c96a6" stroke-width="0.85" />
<circle cx="165.55" cy="300.72" r="1.3" fill="#8c96a6"/>
<circle cx="168.55" cy="301.02" r="1.3" fill="#8c96a6"/>
<circle cx="165.55" cy="302.81" r="1.3" fill="#8c96a6"/>
<circle cx="168.55" cy="303.11" r="1.3" fill="#8c96a6"/>
<rect x="174" y="275.302" width="5.599999999999994" height="30.49799999999999" fill="#eb9381" stroke="none" stroke-width="1" />
<line x1="176.8" y1="275.302" x2="176.8" y2="265.435" stroke="#d8102c" stroke-width="0.8" />
<line x1="174.8" y1="265.435" x2="178.8" y2="265.435" stroke="#d8102c" stroke-width="0.85" />
<circle cx="176.80" cy="266.33" r="1.3" fill="#d8102c"/>
<circle cx="175.30" cy="269.62" r="1.3" fill="#d8102c"/>
<circle cx="178.30" cy="270.52" r="1.3" fill="#d8102c"/>
<circle cx="176.80" cy="274.70" r="1.3" fill="#d8102c"/>
<circle cx="175.00" cy="281.28" r="1.3" fill="#d8102c"/>
<circle cx="178.60" cy="280.38" r="1.3" fill="#d8102c"/>
<rect x="188.7" y="300.418" width="6.300000000000011" height="5.382000000000005" fill="#6a7484" stroke="none" stroke-width="1" />
<line x1="191.85" y1="300.418" x2="191.85" y2="299.82" stroke="#8c96a6" stroke-width="0.8" />
<line x1="189.85" y1="299.82" x2="193.85" y2="299.82" stroke="#8c96a6" stroke-width="0.85" />
<circle cx="190.35" cy="301.02" r="1.3" fill="#8c96a6"/>
<circle cx="193.35" cy="301.31" r="1.3" fill="#8c96a6"/>
<circle cx="190.35" cy="303.11" r="1.3" fill="#8c96a6"/>
<circle cx="193.35" cy="303.41" r="1.3" fill="#8c96a6"/>
<rect x="198" y="270.51800000000003" width="6.199999999999989" height="35.28199999999998" fill="#eb9381" stroke="none" stroke-width="1" />
<line x1="201.1" y1="270.51800000000003" x2="201.1" y2="262.146" stroke="#d8102c" stroke-width="0.8" />
<line x1="199.1" y1="262.146" x2="203.1" y2="262.146" stroke="#d8102c" stroke-width="0.85" />
<circle cx="199.30" cy="262.15" r="1.3" fill="#d8102c"/>
<circle cx="202.90" cy="262.15" r="1.3" fill="#d8102c"/>
<circle cx="201.10" cy="265.44" r="1.3" fill="#d8102c"/>
<circle cx="202.60" cy="276.50" r="1.3" fill="#d8102c"/>
<circle cx="199.60" cy="279.79" r="1.3" fill="#d8102c"/>
<circle cx="201.10" cy="280.98" r="1.3" fill="#d8102c"/>
<line x1="166.4" y1="262.5" x2="176.1" y2="262.5" stroke="#1e1e1e" stroke-width="1.0" />
<text transform="translate(171.25,263.1)" font-size="8.6" text-anchor="middle" fill="#1a1a1a" font-weight="normal" stroke="#1a1a1a" stroke-width="0.08" letter-spacing="0.5">***</text>
<line x1="191.6" y1="258.5" x2="201" y2="258.5" stroke="#1e1e1e" stroke-width="1.0" />
<text transform="translate(196.3,259.1)" font-size="8.6" text-anchor="middle" fill="#1a1a1a" font-weight="normal" stroke="#1a1a1a" stroke-width="0.08" letter-spacing="0.5">***</text>
<rect x="216.0" y="223.4" width="1.9" height="8.4" fill="#0e0e0e" stroke="none" stroke-width="1" />
<text transform="translate(230.0,241.2) rotate(-90)" font-size="7.0" text-anchor="middle" fill="#222" font-weight="normal" stroke="#222" stroke-width="0.2" textLength="13.4" lengthAdjust="spacingAndGlyphs" >Ly6C</text>
<text transform="translate(275.6,230.8)" font-size="8.8" text-anchor="middle" fill="#222" font-weight="normal" stroke="#222" stroke-width="0.08" textLength="22.2" lengthAdjust="spacingAndGlyphs" >Naive</text>
<text transform="translate(351.8,230.8)" font-size="8.8" text-anchor="middle" fill="#222" font-weight="normal" stroke="#222" stroke-width="0.08" textLength="47.7" lengthAdjust="spacingAndGlyphs" >Allo+Vehicle</text>
<text transform="translate(409.4,230.7)" font-size="8.8" text-anchor="start" fill="#222" font-weight="normal" stroke="#222" stroke-width="0.08" textLength="36" lengthAdjust="spacingAndGlyphs" >Allo+<tspan fill="#c42a4a" stroke="#c42a4a">CSP</tspan></text>
<text transform="translate(463.8,319.2)" font-size="7.0" text-anchor="end" fill="#222" font-weight="normal" stroke="#222" stroke-width="0.2" textLength="10.3" lengthAdjust="spacingAndGlyphs" >TOX</text>
<line x1="235.1" y1="311.0" x2="235.1" y2="238.5" stroke="#1a1a1a" stroke-width="0.95" />
<path d="M233.6,239.1 L235.1,236.5 L236.6,239.1 Z" fill="#111"/>
<line x1="235.1" y1="311.0" x2="463" y2="311.0" stroke="#1a1a1a" stroke-width="0.95" />
<path d="M462.4,309.5 L465,311.0 L462.4,312.5 Z" fill="#111"/>
<line x1="239.0" y1="238.9" x2="239.0" y2="306.4" stroke="#050505" stroke-width="2.2" stroke-dasharray="0.8 3.8 0.6 7.5 0.9 6.3 0.9 4.6 1.0 5.7 1.0 6.1 1.1 4.9 0.6 3.3 1.0 3.4 1.0 5.9 0.5 6.8 0.5 7.3 1.1 3.7 1.0 6.5 0.6 6.2 0.6 7.5 1.0 7.9 0.5 4.2 0.9 5.8 0.6 7.4 1.1 4.2 0.6 6.2 0.8 6.1 0.8 4.7 0.5 3.2 0.8 6.5 0.8 6.6 0.9 7.3 1.0 4.3 0.6 2.9 0.5 7.2 1.1 6.6 0.6 6.1 0.6 7.4 1.0 6.6 0.9 4.8 1.1 7.8 0.7 4.9 1.0 6.2 0.8 5.0 1.2 4.0 0.6 6.3 0.7 7.4 0.7 7.6 0.8 7.4 1.0 6.5 0.7 3.4 0.5 3.5 1.0 2.9 0.7 5.6 0.6 4.3 0.7 6.2 0.6 8.0 0.9 6.4 0.9 5.2 1.2 7.4 1.1 2.7 0.9 7.7 0.9 5.3 1.0 3.5"/>
<line x1="240.3" y1="307.79999999999995" x2="308.8" y2="307.79999999999995" stroke="#050505" stroke-width="2.4" stroke-dasharray="1.3 2.9 0.6 2.2 1.2 1.8 1.2 3.3 1.5 1.6 0.7 3.1 1.2 3.0 1.5 1.6 1.1 1.6 1.4 2.7 0.8 2.2 1.2 1.4 0.7 2.1 0.6 2.1 1.5 3.0 0.6 3.0 1.3 2.7 0.5 2.9 0.7 3.0 0.9 1.8 0.7 3.1 0.7 3.2 1.1 1.2 1.2 2.2 0.5 3.0 0.8 0.9 1.3 2.8 0.9 1.3 1.1 2.4 1.3 2.1 1.1 2.7 0.7 1.3 1.0 2.8 1.4 3.1 1.0 2.7 0.6 1.8 0.6 3.1 1.6 2.6 1.3 1.8 1.4 1.0 0.9 1.7 1.5 1.3 0.7 1.0 1.4 1.7 1.5 1.6 1.4 1.3 1.5 3.4 1.5 2.7 1.5 3.3 1.6 1.5 1.4 2.9 0.9 1.3 1.5 2.1 1.1 3.2 1.0 1.5 1.3 2.2 0.8 2.7 1.5 1.5 1.4 2.8 1.1 1.3"/>
<rect x="240.3" y="235.9" width="70.5" height="70.49999999999997" fill="none" stroke="#151515" stroke-width="1.0" rx="1.0"/>
<line x1="315.3" y1="238.9" x2="315.3" y2="306.4" stroke="#050505" stroke-width="2.2" stroke-dasharray="0.5 6.3 0.6 5.0 1.0 6.9 0.8 5.2 0.5 4.9 0.8 7.2 0.9 6.7 0.8 3.5 1.1 7.0 0.8 3.0 0.9 5.2 1.0 5.8 0.9 5.7 0.8 2.8 0.5 7.7 1.1 4.1 1.1 5.4 0.6 7.2 0.9 7.6 1.0 3.0 0.9 6.8 1.1 4.3 0.9 6.4 0.6 7.2 1.0 2.8 0.9 4.5 0.6 5.8 1.2 5.5 0.6 5.2 1.0 7.8 1.0 2.7 1.2 5.8 0.6 3.2 0.6 6.2 0.6 6.9 0.6 5.4 0.8 2.7 0.5 7.5 1.2 3.2 1.0 7.9 1.1 7.4 0.7 6.4 0.8 7.7 1.0 7.1 1.1 4.6 1.0 3.0 0.6 7.7 0.8 6.3 0.9 3.9 0.9 7.5 0.7 4.4 0.6 3.5 1.1 6.4 1.2 6.2 1.2 3.7 0.6 3.7 0.8 7.9 0.7 5.0 0.5 2.6 0.9 5.9"/>
<line x1="316.6" y1="307.79999999999995" x2="384.6" y2="307.79999999999995" stroke="#050505" stroke-width="2.4" stroke-dasharray="1.1 3.3 1.4 3.4 1.1 1.5 0.6 2.9 0.7 0.8 1.3 1.1 1.2 1.3 1.0 0.8 0.9 1.7 0.8 1.2 1.1 2.7 0.7 0.9 0.8 2.7 0.8 2.5 0.6 2.7 0.7 1.4 1.3 2.1 1.2 1.6 1.2 1.6 1.0 2.0 1.5 2.8 1.1 3.1 1.2 2.8 1.1 2.4 0.7 3.3 1.2 3.0 1.2 0.9 0.6 3.2 1.3 3.2 1.5 1.4 1.6 2.4 1.3 2.2 0.8 2.1 1.0 1.6 0.9 2.0 0.8 1.2 1.4 1.8 0.9 2.9 1.3 2.0 0.8 2.9 0.8 2.1 0.9 3.5 0.8 2.4 1.1 0.9 0.7 3.2 1.4 1.4 0.7 3.3 1.1 2.7 1.5 1.5 1.0 3.3 0.7 1.5 1.5 3.1 1.1 1.2 1.4 1.6 1.3 1.5 0.7 2.7 0.9 1.8 1.0 2.0 1.0 2.6 0.6 2.6"/>
<rect x="316.6" y="235.9" width="70.0" height="70.49999999999997" fill="none" stroke="#151515" stroke-width="1.0" rx="1.0"/>
<line x1="391.0" y1="238.9" x2="391.0" y2="306.4" stroke="#050505" stroke-width="2.2" stroke-dasharray="0.7 4.9 0.8 4.4 0.9 4.7 0.5 4.8 0.5 3.1 0.7 7.8 0.8 5.5 1.1 7.4 0.9 3.8 0.9 4.5 1.2 2.7 0.8 6.3 0.9 5.6 1.0 3.8 1.1 7.5 0.5 4.3 0.8 4.6 0.9 3.9 1.0 7.3 1.1 7.2 0.7 6.6 1.0 5.8 1.0 4.1 1.0 3.8 0.9 3.9 0.9 2.7 0.7 6.8 0.7 6.5 1.1 5.8 0.9 3.6 0.8 7.8 1.2 5.6 0.8 7.9 0.9 6.9 0.6 4.0 1.1 5.5 1.0 4.9 1.1 2.7 0.7 6.0 0.9 6.2 0.8 6.4 1.1 4.2 0.5 3.8 0.7 8.0 1.2 6.3 0.6 7.6 0.6 3.3 1.0 4.4 0.8 4.0 0.5 3.2 0.5 2.6 0.5 3.5 0.9 5.2 1.0 7.0 0.9 5.6 0.5 2.9 1.1 7.6 0.7 7.3 1.1 3.8 0.5 3.2"/>
<line x1="392.3" y1="307.79999999999995" x2="460.9" y2="307.79999999999995" stroke="#050505" stroke-width="2.4" stroke-dasharray="0.6 0.9 1.1 1.4 1.5 2.2 1.1 2.9 1.2 3.5 0.6 2.1 1.1 3.4 1.0 1.8 0.8 3.1 1.0 1.2 1.6 1.1 1.0 2.9 1.4 2.0 1.1 2.9 0.6 2.9 1.4 2.1 0.6 1.5 1.4 1.3 0.5 1.1 1.0 2.0 0.8 2.3 1.3 3.3 1.6 1.3 1.2 0.9 0.8 2.1 0.6 2.9 1.5 2.7 1.2 2.3 1.4 2.4 1.0 2.6 1.5 2.8 0.6 3.3 1.1 1.6 1.5 2.3 0.9 1.1 1.5 3.1 1.3 1.8 0.9 3.1 1.5 2.5 0.8 1.4 0.7 3.1 1.4 3.4 1.0 2.9 0.8 2.6 0.7 2.1 0.5 3.1 1.1 2.5 1.4 1.6 0.8 3.3 1.0 2.1 1.6 2.2 1.1 1.6 0.5 2.4 1.5 3.1 1.5 2.4 1.2 2.5 1.0 2.3 1.3 1.8 0.5 2.5 0.7 1.0"/>
<rect x="392.3" y="235.9" width="70.59999999999997" height="70.49999999999997" fill="none" stroke="#151515" stroke-width="1.0" rx="1.0"/>
<rect x="251.5" y="237.8" width="52.2" height="33.8" fill="none" stroke="#333" stroke-width="0.8"/>
<rect x="328.9" y="238.7" width="51.1" height="30.8" fill="none" stroke="#333" stroke-width="0.8"/>
<rect x="404.4" y="238.6" width="51.6" height="31.8" fill="none" stroke="#333" stroke-width="0.8"/>
<text transform="translate(301.3,244.9)" font-size="5.6" text-anchor="end" fill="#2a2a2a" font-weight="normal" stroke="#2a2a2a" stroke-width="0.2" >9.44</text>
<text transform="translate(377.1,246.3)" font-size="5.6" text-anchor="end" fill="#2a2a2a" font-weight="normal" stroke="#2a2a2a" stroke-width="0.2" >7.4</text>
<text transform="translate(454.6,245.4)" font-size="5.6" text-anchor="end" fill="#2a2a2a" font-weight="normal" stroke="#2a2a2a" stroke-width="0.2" >64.0</text>
<path d="M267.3,252.5 C271.5,252.5 272.2,256 271.2,259.8 C270.6,262 271.6,265 271.6,268 C271.6,271.5 270.2,274 269.8,279 L265.2,279 C264.8,274 263.4,271.5 263.4,268 C263.4,265 264.4,262 263.8,259.8 C262.6,256 263.1,252.5 267.3,252.5 Z" fill="none" stroke="#8a8a8a" stroke-width="0.5"/>
<path d="M267.3,255 C269.6,255 270,257.5 269.2,260 C268.6,262 267.3,262.5 266.5,262 C265.2,260.5 265,255 267.3,255 Z" fill="none" stroke="#999" stroke-width="0.45"/>
<path d="M267.5,263.5 C269.3,263.5 269.6,266 269.4,269 C269.2,271 266,271 265.7,269 C265.4,266 265.8,263.5 267.5,263.5 Z" fill="none" stroke="#999" stroke-width="0.45"/>
<path d="M256.8,289 C256.3,283.5 261,279.5 267.5,279 C274,278.5 278.8,281.5 278.8,285.5 C278.8,290.5 274,294.8 267.5,295.2 C261,295.6 257.2,293 256.8,289 Z" transform="translate(267.5 288.5) scale(1) translate(-267.5 -288.5)" fill="#c8c8c8" stroke="#222" stroke-width="0.45" vector-effect="non-scaling-stroke"/>
<path d="M256.8,289 C256.3,283.5 261,279.5 267.5,279 C274,278.5 278.8,281.5 278.8,285.5 C278.8,290.5 274,294.8 267.5,295.2 C261,295.6 257.2,293 256.8,289 Z" transform="translate(267.5 288.5) scale(0.9) translate(-267.5 -288.5)" fill="#9a9a9a" stroke="#222" stroke-width="0.45" vector-effect="non-scaling-stroke"/>
<path d="M256.8,289 C256.3,283.5 261,279.5 267.5,279 C274,278.5 278.8,281.5 278.8,285.5 C278.8,290.5 274,294.8 267.5,295.2 C261,295.6 257.2,293 256.8,289 Z" transform="translate(267.5 288.5) scale(0.8) translate(-267.5 -288.5)" fill="#6a6a6a" stroke="#222" stroke-width="0.45" vector-effect="non-scaling-stroke"/>
<path d="M256.8,289 C256.3,283.5 261,279.5 267.5,279 C274,278.5 278.8,281.5 278.8,285.5 C278.8,290.5 274,294.8 267.5,295.2 C261,295.6 257.2,293 256.8,289 Z" transform="translate(267.5 288.5) scale(0.7) translate(-267.5 -288.5)" fill="#3a3a3a" stroke="#222" stroke-width="0.45" vector-effect="non-scaling-stroke"/>
<path d="M256.8,289 C256.3,283.5 261,279.5 267.5,279 C274,278.5 278.8,281.5 278.8,285.5 C278.8,290.5 274,294.8 267.5,295.2 C261,295.6 257.2,293 256.8,289 Z" transform="translate(267.5 288.5) scale(0.6) translate(-267.5 -288.5)" fill="#1e1e1e" stroke="#222" stroke-width="0.45" vector-effect="non-scaling-stroke"/>
<path d="M256.8,289 C256.3,283.5 261,279.5 267.5,279 C274,278.5 278.8,281.5 278.8,285.5 C278.8,290.5 274,294.8 267.5,295.2 C261,295.6 257.2,293 256.8,289 Z" transform="translate(267.5 288.5) scale(0.5) translate(-267.5 -288.5)" fill="#111" stroke="#222" stroke-width="0.45" vector-effect="non-scaling-stroke"/>
<path d="M266,279 C265,276 265,274 265.5,272 M269.5,279 C270,276 270.3,274 269.8,272" fill="none" stroke="#777" stroke-width="0.45"/>
<path d="M262,289 C263,287 266,286.5 268,287.5 C270,286.5 272.5,287 273,289 C272,291 269,291.3 267.5,290.5 C265.5,291.5 262.5,291 262,289 Z" fill="#3a3a3a"/>
<path d="M357.5,270 C350,272 340.5,279.5 339.3,286.5 C338.8,290.8 342,293 347,292.4 C352,291.6 356.5,285.5 358.5,278.5 Z" transform="translate(359 279) scale(1) translate(-359 -279)" fill="none" stroke="#2a2a2a" stroke-width="0.5" vector-effect="non-scaling-stroke"/>
<path d="M357.5,270 C350,272 340.5,279.5 339.3,286.5 C338.8,290.8 342,293 347,292.4 C352,291.6 356.5,285.5 358.5,278.5 Z" transform="translate(359 279) scale(0.88) translate(-359 -279)" fill="none" stroke="#2a2a2a" stroke-width="0.5" vector-effect="non-scaling-stroke"/>
<path d="M357.5,270 C350,272 340.5,279.5 339.3,286.5 C338.8,290.8 342,293 347,292.4 C352,291.6 356.5,285.5 358.5,278.5 Z" transform="translate(359 279) scale(0.77) translate(-359 -279)" fill="none" stroke="#2a2a2a" stroke-width="0.5" vector-effect="non-scaling-stroke"/>
<path d="M357.5,270 C350,272 340.5,279.5 339.3,286.5 C338.8,290.8 342,293 347,292.4 C352,291.6 356.5,285.5 358.5,278.5 Z" transform="translate(359 279) scale(0.67) translate(-359 -279)" fill="none" stroke="#2a2a2a" stroke-width="0.5" vector-effect="non-scaling-stroke"/>
<path d="M357.5,270 C350,272 340.5,279.5 339.3,286.5 C338.8,290.8 342,293 347,292.4 C352,291.6 356.5,285.5 358.5,278.5 Z" transform="translate(359 279) scale(0.58) translate(-359 -279)" fill="none" stroke="#2a2a2a" stroke-width="0.5" vector-effect="non-scaling-stroke"/>
<path d="M357.5,270 C350,272 340.5,279.5 339.3,286.5 C338.8,290.8 342,293 347,292.4 C352,291.6 356.5,285.5 358.5,278.5 Z" transform="translate(359 279) scale(0.5) translate(-359 -279)" fill="none" stroke="#2a2a2a" stroke-width="0.5" vector-effect="non-scaling-stroke"/>
<path d="M345.5,268 C347,267 348,268.5 346.5,270 C345.5,271 346,272.5 347.5,273" fill="none" stroke="#444" stroke-width="0.45"/>
<path d="M355.5,275 C355.5,269.5 359,267.3 362.5,267.5 C366.5,267.8 368.3,272 368,278 C367.7,284.5 366,290.5 361.5,291.5 C357.5,292.2 355.5,287 355.5,281 Z" transform="translate(362 279.5) scale(1) translate(-362 -279.5)" fill="#b0b0b0" stroke="#222" stroke-width="0.35" vector-effect="non-scaling-stroke"/>
<path d="M355.5,275 C355.5,269.5 359,267.3 362.5,267.5 C366.5,267.8 368.3,272 368,278 C367.7,284.5 366,290.5 361.5,291.5 C357.5,292.2 355.5,287 355.5,281 Z" transform="translate(362 279.5) scale(0.92) translate(-362 -279.5)" fill="#6a6a6a" stroke="#222" stroke-width="0.35" vector-effect="non-scaling-stroke"/>
<path d="M355.5,275 C355.5,269.5 359,267.3 362.5,267.5 C366.5,267.8 368.3,272 368,278 C367.7,284.5 366,290.5 361.5,291.5 C357.5,292.2 355.5,287 355.5,281 Z" transform="translate(362 279.5) scale(0.84) translate(-362 -279.5)" fill="#333" stroke="#222" stroke-width="0.35" vector-effect="non-scaling-stroke"/>
<path d="M355.5,275 C355.5,269.5 359,267.3 362.5,267.5 C366.5,267.8 368.3,272 368,278 C367.7,284.5 366,290.5 361.5,291.5 C357.5,292.2 355.5,287 355.5,281 Z" transform="translate(362 279.5) scale(0.76) translate(-362 -279.5)" fill="#1c1c1c" stroke="#222" stroke-width="0.35" vector-effect="non-scaling-stroke"/>
<path d="M355.5,275 C355.5,269.5 359,267.3 362.5,267.5 C366.5,267.8 368.3,272 368,278 C367.7,284.5 366,290.5 361.5,291.5 C357.5,292.2 355.5,287 355.5,281 Z" transform="translate(362 279.5) scale(0.6) translate(-362 -279.5)" fill="#262626" stroke="#222" stroke-width="0.35" vector-effect="non-scaling-stroke"/>
<path d="M355.5,275 C355.5,269.5 359,267.3 362.5,267.5 C366.5,267.8 368.3,272 368,278 C367.7,284.5 366,290.5 361.5,291.5 C357.5,292.2 355.5,287 355.5,281 Z" transform="translate(362 279.5) scale(0.7) translate(-362 -279.5)" fill="none" stroke="#9a9a9a" stroke-width="0.35" vector-effect="non-scaling-stroke" opacity="0.55"/>
<path d="M355.5,275 C355.5,269.5 359,267.3 362.5,267.5 C366.5,267.8 368.3,272 368,278 C367.7,284.5 366,290.5 361.5,291.5 C357.5,292.2 355.5,287 355.5,281 Z" transform="translate(362 279.5) scale(0.58) translate(-362 -279.5)" fill="none" stroke="#9a9a9a" stroke-width="0.35" vector-effect="non-scaling-stroke" opacity="0.55"/>
<path d="M355.5,275 C355.5,269.5 359,267.3 362.5,267.5 C366.5,267.8 368.3,272 368,278 C367.7,284.5 366,290.5 361.5,291.5 C357.5,292.2 355.5,287 355.5,281 Z" transform="translate(362 279.5) scale(0.46) translate(-362 -279.5)" fill="none" stroke="#9a9a9a" stroke-width="0.35" vector-effect="non-scaling-stroke" opacity="0.55"/>
<path d="M355.5,275 C355.5,269.5 359,267.3 362.5,267.5 C366.5,267.8 368.3,272 368,278 C367.7,284.5 366,290.5 361.5,291.5 C357.5,292.2 355.5,287 355.5,281 Z" transform="translate(362 279.5) scale(0.34) translate(-362 -279.5)" fill="none" stroke="#9a9a9a" stroke-width="0.35" vector-effect="non-scaling-stroke" opacity="0.55"/>
<path d="M361.2,277 C362.2,276.5 362.6,279 362.2,282 C361.8,284.5 360.8,285 360.6,283 C360.4,281 360.6,278 361.2,277 Z" fill="#e6e6e6"/>
<path d="M414,256 C413,249 418,246.3 426,246.2 C434,246.1 440,248 441,254 C441.6,259 439.6,263 441.2,268 C443.2,274 443.2,283 436.5,285.5 C428.5,287.8 418.5,286.2 415.6,280 C414,274 414.5,264 414,256 Z" fill="#2c2c2c" stroke="#1a1a1a" stroke-width="0.6"/>
<path d="M414,256 C413,249 418,246.3 426,246.2 C434,246.1 440,248 441,254 C441.6,259 439.6,263 441.2,268 C443.2,274 443.2,283 436.5,285.5 C428.5,287.8 418.5,286.2 415.6,280 C414,274 414.5,264 414,256 Z" transform="translate(428 266) scale(0.9) translate(-428 -266)" fill="none" stroke="#8a8a8a" stroke-width="0.4" vector-effect="non-scaling-stroke" opacity="0.8"/>
<path d="M414,256 C413,249 418,246.3 426,246.2 C434,246.1 440,248 441,254 C441.6,259 439.6,263 441.2,268 C443.2,274 443.2,283 436.5,285.5 C428.5,287.8 418.5,286.2 415.6,280 C414,274 414.5,264 414,256 Z" transform="translate(428 266) scale(0.8) translate(-428 -266)" fill="none" stroke="#8a8a8a" stroke-width="0.4" vector-effect="non-scaling-stroke" opacity="0.8"/>
<path d="M414,256 C413,249 418,246.3 426,246.2 C434,246.1 440,248 441,254 C441.6,259 439.6,263 441.2,268 C443.2,274 443.2,283 436.5,285.5 C428.5,287.8 418.5,286.2 415.6,280 C414,274 414.5,264 414,256 Z" transform="translate(428 266) scale(0.7) translate(-428 -266)" fill="none" stroke="#8a8a8a" stroke-width="0.4" vector-effect="non-scaling-stroke" opacity="0.8"/>
<path d="M419.5,256.5 C422,254 430,253.5 434.5,255.5 C436.5,257 435,259.5 432,259.8 C428,260 423,259.8 420.5,259 Z" fill="#bdbdbd"/>
<path d="M421,256.8 C424,255.5 429,255.3 432.5,256.3" fill="none" stroke="#f4f4f4" stroke-width="1.0"/>
<path d="M416,266 C422,264.5 432,264.5 438,266.5" fill="none" stroke="#9a9a9a" stroke-width="1.4"/>
<path d="M417,270 C417,275 419,281 423,283 C426,284 428,281 428,276 C428,272 425,269 421,269 C418.5,269 417,269.5 417,270 Z" fill="#808080"/>
<path d="M418.5,272 C419,276 421,280 424,281" fill="none" stroke="#cfcfcf" stroke-width="0.5"/>
<path d="M414,256 C413,249 418,246.3 426,246.2 C434,246.1 440,248 441,254 C441.6,259 439.6,263 441.2,268 C443.2,274 443.2,283 436.5,285.5 C428.5,287.8 418.5,286.2 415.6,280 C414,274 414.5,264 414,256 Z" transform="translate(428 266) scale(0.95) translate(-428 -266)" fill="none" stroke="#a0a0a0" stroke-width="0.35" vector-effect="non-scaling-stroke" opacity="0.6"/>
<path d="M414,256 C413,249 418,246.3 426,246.2 C434,246.1 440,248 441,254 C441.6,259 439.6,263 441.2,268 C443.2,274 443.2,283 436.5,285.5 C428.5,287.8 418.5,286.2 415.6,280 C414,274 414.5,264 414,256 Z" transform="translate(428 266) scale(0.86) translate(-428 -266)" fill="none" stroke="#a0a0a0" stroke-width="0.35" vector-effect="non-scaling-stroke" opacity="0.6"/>
<path d="M414,256 C413,249 418,246.3 426,246.2 C434,246.1 440,248 441,254 C441.6,259 439.6,263 441.2,268 C443.2,274 443.2,283 436.5,285.5 C428.5,287.8 418.5,286.2 415.6,280 C414,274 414.5,264 414,256 Z" transform="translate(428 266) scale(0.62) translate(-428 -266)" fill="none" stroke="#a0a0a0" stroke-width="0.35" vector-effect="non-scaling-stroke" opacity="0.6"/>
<path d="M414,256 C413,249 418,246.3 426,246.2 C434,246.1 440,248 441,254 C441.6,259 439.6,263 441.2,268 C443.2,274 443.2,283 436.5,285.5 C428.5,287.8 418.5,286.2 415.6,280 C414,274 414.5,264 414,256 Z" transform="translate(428 266) scale(0.52) translate(-428 -266)" fill="none" stroke="#a0a0a0" stroke-width="0.35" vector-effect="non-scaling-stroke" opacity="0.6"/>
<path d="M418,273.0 C421,274.5 425,274.5 428,273.0" fill="none" stroke="#bbb" stroke-width="0.4"/>
<path d="M419,276.5 C421,278.0 425,278.0 428,276.5" fill="none" stroke="#bbb" stroke-width="0.4"/>
<path d="M420,280.0 C421,281.5 425,281.5 428,280.0" fill="none" stroke="#bbb" stroke-width="0.4"/>
<path d="M431.5,275.5 C432,273 435,272 436.8,273.5 C438,275 437,278.5 434.5,279.2 C432.5,279.6 431.3,277.5 431.5,275.5 Z" fill="#f6f6f6"/>
<text transform="translate(7.7,342.7)" font-size="11.6" text-anchor="start" fill="#0e0e0e" font-weight="bold" textLength="5.0" lengthAdjust="spacingAndGlyphs" stroke="#0e0e0e" stroke-width="0.35">J</text>
<line x1="37.5" y1="355.9" x2="37.5" y2="420.05" stroke="#262626" stroke-width="1.1" />
<line x1="36.95" y1="419.5" x2="92.0" y2="419.5" stroke="#262626" stroke-width="1.1" />
<line x1="34.0" y1="419.0" x2="37.0" y2="419.0" stroke="#262626" stroke-width="0.95" />
<text transform="translate(30.7,421.31) scale(0.88,1)" font-size="6.6" text-anchor="end" fill="#2a2a2a" font-weight="normal" stroke="#2a2a2a" stroke-width="0.2" >0</text>
<line x1="34.0" y1="403.85" x2="37.0" y2="403.85" stroke="#262626" stroke-width="0.95" />
<text transform="translate(30.7,406.16) scale(0.88,1)" font-size="6.6" text-anchor="end" fill="#2a2a2a" font-weight="normal" stroke="#2a2a2a" stroke-width="0.2" >20</text>
<line x1="34.0" y1="388.7" x2="37.0" y2="388.7" stroke="#262626" stroke-width="0.95" />
<text transform="translate(30.7,391.01) scale(0.88,1)" font-size="6.6" text-anchor="end" fill="#2a2a2a" font-weight="normal" stroke="#2a2a2a" stroke-width="0.2" >40</text>
<line x1="34.0" y1="373.54999999999995" x2="37.0" y2="373.54999999999995" stroke="#262626" stroke-width="0.95" />
<text transform="translate(30.7,375.85999999999996) scale(0.88,1)" font-size="6.6" text-anchor="end" fill="#2a2a2a" font-weight="normal" stroke="#2a2a2a" stroke-width="0.2" >60</text>
<line x1="34.0" y1="358.4" x2="37.0" y2="358.4" stroke="#262626" stroke-width="0.95" />
<text transform="translate(30.7,360.71) scale(0.88,1)" font-size="6.6" text-anchor="end" fill="#2a2a2a" font-weight="normal" stroke="#2a2a2a" stroke-width="0.2" >80</text>
<line x1="43.7" y1="419" x2="43.7" y2="421.8" stroke="#262626" stroke-width="0.95" />
<line x1="61.3" y1="419" x2="61.3" y2="421.8" stroke="#262626" stroke-width="0.95" />
<line x1="79.5" y1="419" x2="79.5" y2="421.8" stroke="#262626" stroke-width="0.95" />
<text transform="translate(64.3,343.0)" font-size="8.8" text-anchor="middle" fill="#222" font-weight="normal" stroke="#222" stroke-width="0.08" textLength="24.3" lengthAdjust="spacingAndGlyphs" >2C-Tg</text>
<text transform="translate(26.6,350.6) scale(0.9,1)" font-size="5.6" text-anchor="middle" fill="#222" font-weight="normal" stroke="#222" stroke-width="0.2" >(%)</text>
<text transform="translate(18.3,387.5) rotate(-90)" font-size="8.3" text-anchor="middle" fill="#222" font-weight="normal" stroke="#222" stroke-width="0.2" textLength="42.3" lengthAdjust="spacingAndGlyphs" >Ly6C<tspan baseline-shift="0.8em" font-size="68%">+</tspan>/CD8.1<tspan baseline-shift="0.8em" font-size="68%">+</tspan></text>
<rect x="40.4" y="414.455" width="6.600000000000001" height="4.545000000000016" fill="#dcdcb6" stroke="none" stroke-width="1" />
<line x1="43.7" y1="414.455" x2="43.7" y2="411.425" stroke="#b9bd80" stroke-width="0.8" />
<line x1="41.7" y1="411.425" x2="45.7" y2="411.425" stroke="#b9bd80" stroke-width="0.85" />
<circle cx="42.20" cy="411.43" r="1.3" fill="#b9bd80"/>
<circle cx="45.20" cy="412.56" r="1.3" fill="#b9bd80"/>
<circle cx="43.70" cy="414.45" r="1.3" fill="#b9bd80"/>
<circle cx="42.20" cy="415.59" r="1.3" fill="#b9bd80"/>
<circle cx="45.20" cy="416.73" r="1.3" fill="#b9bd80"/>
<rect x="58.4" y="412.1825" width="6.100000000000001" height="6.8174999999999955" fill="#b7bac1" stroke="none" stroke-width="1" />
<line x1="61.45" y1="412.1825" x2="61.45" y2="409.90999999999997" stroke="#8e939d" stroke-width="0.8" />
<line x1="59.45" y1="409.90999999999997" x2="63.45" y2="409.90999999999997" stroke="#8e939d" stroke-width="0.85" />
<circle cx="63.95" cy="407.94" r="1.3" fill="#8e939d"/>
<circle cx="59.95" cy="410.67" r="1.3" fill="#8e939d"/>
<circle cx="62.45" cy="412.18" r="1.3" fill="#8e939d"/>
<circle cx="62.95" cy="414.08" r="1.3" fill="#8e939d"/>
<circle cx="59.95" cy="415.59" r="1.3" fill="#8e939d"/>
<rect x="76.1" y="375.065" width="6.900000000000006" height="43.935" fill="#eb9381" stroke="none" stroke-width="1" />
<line x1="79.55" y1="375.065" x2="79.55" y2="370.52" stroke="#d8102c" stroke-width="0.8" />
<line x1="77.55" y1="370.52" x2="81.55" y2="370.52" stroke="#d8102c" stroke-width="0.85" />
<circle cx="79.55" cy="369.00" r="1.3" fill="#d8102c"/>
<circle cx="77.75" cy="371.28" r="1.3" fill="#d8102c"/>
<circle cx="81.35" cy="372.03" r="1.3" fill="#d8102c"/>
<circle cx="79.55" cy="377.34" r="1.3" fill="#d8102c"/>
<circle cx="78.55" cy="380.37" r="1.3" fill="#d8102c"/>
<line x1="43.9" y1="355.5" x2="79.8" y2="355.5" stroke="#1e1e1e" stroke-width="1.0" />
<text transform="translate(61.849999999999994,355.9)" font-size="8.6" text-anchor="middle" fill="#1a1a1a" font-weight="normal" stroke="#1a1a1a" stroke-width="0.08" letter-spacing="0.5">**</text>
<line x1="43.9" y1="365.5" x2="59.0" y2="365.5" stroke="#1e1e1e" stroke-width="1.0" />
<text transform="translate(51.45,363.6) scale(0.9,1)" font-size="6.4" text-anchor="middle" fill="#222" font-weight="normal" stroke="#222" stroke-width="0.2" >ns</text>
<line x1="62.9" y1="365.5" x2="79.8" y2="365.5" stroke="#1e1e1e" stroke-width="1.0" />
<text transform="translate(71.35,365.9)" font-size="8.6" text-anchor="middle" fill="#1a1a1a" font-weight="normal" stroke="#1a1a1a" stroke-width="0.08" letter-spacing="0.5">**</text>
<line x1="127.5" y1="355.8" x2="127.5" y2="420.05" stroke="#262626" stroke-width="1.1" />
<line x1="126.95" y1="419.5" x2="182.3" y2="419.5" stroke="#262626" stroke-width="1.1" />
<line x1="124.3" y1="419.0" x2="127.3" y2="419.0" stroke="#262626" stroke-width="0.95" />
<text transform="translate(121.0,421.31) scale(0.88,1)" font-size="6.6" text-anchor="end" fill="#2a2a2a" font-weight="normal" stroke="#2a2a2a" stroke-width="0.2" >0</text>
<line x1="124.3" y1="403.825" x2="127.3" y2="403.825" stroke="#262626" stroke-width="0.95" />
<text transform="translate(121.0,406.135) scale(0.88,1)" font-size="6.6" text-anchor="end" fill="#2a2a2a" font-weight="normal" stroke="#2a2a2a" stroke-width="0.2" >20</text>
<line x1="124.3" y1="388.65" x2="127.3" y2="388.65" stroke="#262626" stroke-width="0.95" />
<text transform="translate(121.0,390.96) scale(0.88,1)" font-size="6.6" text-anchor="end" fill="#2a2a2a" font-weight="normal" stroke="#2a2a2a" stroke-width="0.2" >40</text>
<line x1="124.3" y1="373.475" x2="127.3" y2="373.475" stroke="#262626" stroke-width="0.95" />
<text transform="translate(121.0,375.785) scale(0.88,1)" font-size="6.6" text-anchor="end" fill="#2a2a2a" font-weight="normal" stroke="#2a2a2a" stroke-width="0.2" >60</text>
<line x1="124.3" y1="358.3" x2="127.3" y2="358.3" stroke="#262626" stroke-width="0.95" />
<text transform="translate(121.0,360.61) scale(0.88,1)" font-size="6.6" text-anchor="end" fill="#2a2a2a" font-weight="normal" stroke="#2a2a2a" stroke-width="0.2" >80</text>
<line x1="134.4" y1="419" x2="134.4" y2="421.8" stroke="#262626" stroke-width="0.95" />
<line x1="152.6" y1="419" x2="152.6" y2="421.8" stroke="#262626" stroke-width="0.95" />
<line x1="170.6" y1="419" x2="170.6" y2="421.8" stroke="#262626" stroke-width="0.95" />
<text transform="translate(155.5,343.0)" font-size="8.8" text-anchor="middle" fill="#222" font-weight="normal" stroke="#222" stroke-width="0.08" textLength="37.5" lengthAdjust="spacingAndGlyphs" >WT CD8<tspan baseline-shift="0.8em" font-size="68%">+</tspan></text>
<text transform="translate(116.8,350.6) scale(0.9,1)" font-size="5.6" text-anchor="middle" fill="#222" font-weight="normal" stroke="#222" stroke-width="0.2" >(%)</text>
<text transform="translate(107.3,386.7) rotate(-90)" font-size="8.3" text-anchor="middle" fill="#222" font-weight="normal" stroke="#222" stroke-width="0.2" textLength="64.2" lengthAdjust="spacingAndGlyphs" >Ly6C<tspan baseline-shift="0.8em" font-size="68%">+</tspan>/CD45.1<tspan baseline-shift="0.8em" font-size="68%">+</tspan>CD8<tspan baseline-shift="0.8em" font-size="68%">+</tspan></text>
<rect x="131" y="409.13625" width="6.800000000000011" height="9.863749999999982" fill="#dcdcb6" stroke="none" stroke-width="1" />
<line x1="134.4" y1="409.13625" x2="134.4" y2="402.3075" stroke="#b9bd80" stroke-width="0.8" />
<line x1="132.4" y1="402.3075" x2="136.4" y2="402.3075" stroke="#b9bd80" stroke-width="0.85" />
<circle cx="134.40" cy="402.31" r="1.3" fill="#b9bd80"/>
<circle cx="132.90" cy="405.34" r="1.3" fill="#b9bd80"/>
<circle cx="135.90" cy="408.38" r="1.3" fill="#b9bd80"/>
<circle cx="134.40" cy="411.41" r="1.3" fill="#b9bd80"/>
<circle cx="132.90" cy="413.69" r="1.3" fill="#b9bd80"/>
<rect x="149.1" y="415.20625" width="6.900000000000006" height="3.7937499999999886" fill="#b7bac1" stroke="none" stroke-width="1" />
<line x1="152.55" y1="415.20625" x2="152.55" y2="408.3775" stroke="#3d4656" stroke-width="0.8" />
<line x1="150.55" y1="408.3775" x2="154.55" y2="408.3775" stroke="#3d4656" stroke-width="0.85" />
<circle cx="152.55" cy="403.82" r="1.3" fill="#3d4656"/>
<circle cx="151.05" cy="411.41" r="1.3" fill="#3d4656"/>
<circle cx="154.05" cy="414.45" r="1.3" fill="#3d4656"/>
<circle cx="152.55" cy="416.72" r="1.3" fill="#3d4656"/>
<circle cx="151.05" cy="417.48" r="1.3" fill="#3d4656"/>
<rect x="167.2" y="379.545" width="7.0" height="39.454999999999984" fill="#eb9381" stroke="none" stroke-width="1" />
<line x1="170.7" y1="379.545" x2="170.7" y2="370.44" stroke="#d8102c" stroke-width="0.8" />
<line x1="168.7" y1="370.44" x2="172.7" y2="370.44" stroke="#d8102c" stroke-width="0.85" />
<circle cx="170.70" cy="370.44" r="1.3" fill="#d8102c"/>
<circle cx="168.90" cy="375.75" r="1.3" fill="#d8102c"/>
<circle cx="172.50" cy="378.03" r="1.3" fill="#d8102c"/>
<circle cx="170.70" cy="382.58" r="1.3" fill="#d8102c"/>
<circle cx="172.50" cy="385.62" r="1.3" fill="#d8102c"/>
<line x1="134.4" y1="354.5" x2="170.6" y2="354.5" stroke="#1e1e1e" stroke-width="1.0" />
<text transform="translate(152.5,354.9)" font-size="8.6" text-anchor="middle" fill="#1a1a1a" font-weight="normal" stroke="#1a1a1a" stroke-width="0.08" letter-spacing="0.5">**</text>
<line x1="134.4" y1="364.5" x2="150.6" y2="364.5" stroke="#1e1e1e" stroke-width="1.0" />
<text transform="translate(142.5,362.6) scale(0.9,1)" font-size="6.4" text-anchor="middle" fill="#222" font-weight="normal" stroke="#222" stroke-width="0.2" >ns</text>
<line x1="154.4" y1="364.5" x2="170.6" y2="364.5" stroke="#1e1e1e" stroke-width="1.0" />
<text transform="translate(162.5,364.9)" font-size="8.6" text-anchor="middle" fill="#1a1a1a" font-weight="normal" stroke="#1a1a1a" stroke-width="0.08" letter-spacing="0.5">**</text>
<line x1="215.5" y1="352.6" x2="215.5" y2="420.05" stroke="#262626" stroke-width="1.1" />
<line x1="214.95" y1="419.5" x2="270" y2="419.5" stroke="#262626" stroke-width="1.1" />
<line x1="212.0" y1="419.0" x2="215" y2="419.0" stroke="#262626" stroke-width="0.95" />
<text transform="translate(208.7,421.31) scale(0.88,1)" font-size="6.6" text-anchor="end" fill="#2a2a2a" font-weight="normal" stroke="#2a2a2a" stroke-width="0.2" >0</text>
<line x1="212.0" y1="403.025" x2="215" y2="403.025" stroke="#262626" stroke-width="0.95" />
<text transform="translate(208.7,405.335) scale(0.88,1)" font-size="6.6" text-anchor="end" fill="#2a2a2a" font-weight="normal" stroke="#2a2a2a" stroke-width="0.2" >20</text>
<line x1="212.0" y1="387.05" x2="215" y2="387.05" stroke="#262626" stroke-width="0.95" />
<text transform="translate(208.7,389.36) scale(0.88,1)" font-size="6.6" text-anchor="end" fill="#2a2a2a" font-weight="normal" stroke="#2a2a2a" stroke-width="0.2" >40</text>
<line x1="212.0" y1="371.07500000000005" x2="215" y2="371.07500000000005" stroke="#262626" stroke-width="0.95" />
<text transform="translate(208.7,373.38500000000005) scale(0.88,1)" font-size="6.6" text-anchor="end" fill="#2a2a2a" font-weight="normal" stroke="#2a2a2a" stroke-width="0.2" >60</text>
<line x1="212.0" y1="355.1" x2="215" y2="355.1" stroke="#262626" stroke-width="0.95" />
<text transform="translate(208.7,357.41) scale(0.88,1)" font-size="6.6" text-anchor="end" fill="#2a2a2a" font-weight="normal" stroke="#2a2a2a" stroke-width="0.2" >80</text>
<line x1="222.2" y1="419" x2="222.2" y2="421.8" stroke="#262626" stroke-width="0.95" />
<line x1="241.8" y1="419" x2="241.8" y2="421.8" stroke="#262626" stroke-width="0.95" />
<line x1="260.6" y1="419" x2="260.6" y2="421.8" stroke="#262626" stroke-width="0.95" />
<text transform="translate(242.6,343.0)" font-size="8.8" text-anchor="middle" fill="#222" font-weight="normal" stroke="#222" stroke-width="0.08" textLength="35.4" lengthAdjust="spacingAndGlyphs" >WT CD4<tspan baseline-shift="0.8em" font-size="68%">+</tspan></text>
<text transform="translate(204.5,350.6) scale(0.9,1)" font-size="5.6" text-anchor="middle" fill="#222" font-weight="normal" stroke="#222" stroke-width="0.2" >(%)</text>
<text transform="translate(196.0,387.1) rotate(-90)" font-size="8.3" text-anchor="middle" fill="#222" font-weight="normal" stroke="#222" stroke-width="0.2" textLength="37.4" lengthAdjust="spacingAndGlyphs" >Ly6C<tspan baseline-shift="0.8em" font-size="68%">+</tspan>/CD4<tspan baseline-shift="0.8em" font-size="68%">+</tspan></text>
<rect x="219.1" y="411.0125" width="7.099999999999994" height="7.987500000000011" fill="#dcdcb6" stroke="none" stroke-width="1" />
<line x1="222.64999999999998" y1="411.0125" x2="222.64999999999998" y2="405.42125" stroke="#b9bd80" stroke-width="0.8" />
<line x1="220.64999999999998" y1="405.42125" x2="224.64999999999998" y2="405.42125" stroke="#b9bd80" stroke-width="0.85" />
<circle cx="222.65" cy="403.82" r="1.3" fill="#b9bd80"/>
<circle cx="221.15" cy="407.02" r="1.3" fill="#b9bd80"/>
<circle cx="224.15" cy="409.42" r="1.3" fill="#b9bd80"/>
<circle cx="222.65" cy="411.81" r="1.3" fill="#b9bd80"/>
<circle cx="221.15" cy="414.21" r="1.3" fill="#b9bd80"/>
<rect x="238.3" y="414.2075" width="7.099999999999994" height="4.792500000000018" fill="#b7bac1" stroke="none" stroke-width="1" />
<line x1="241.85000000000002" y1="414.2075" x2="241.85000000000002" y2="411.81125000000003" stroke="#3d4656" stroke-width="0.8" />
<line x1="239.85000000000002" y1="411.81125000000003" x2="243.85000000000002" y2="411.81125000000003" stroke="#3d4656" stroke-width="0.85" />
<circle cx="240.35" cy="410.21" r="1.3" fill="#3d4656"/>
<circle cx="243.35" cy="411.01" r="1.3" fill="#3d4656"/>
<circle cx="241.85" cy="412.61" r="1.3" fill="#3d4656"/>
<circle cx="240.35" cy="414.21" r="1.3" fill="#3d4656"/>
<circle cx="243.35" cy="415.81" r="1.3" fill="#3d4656"/>
<rect x="257.1" y="375.8675" width="7.5" height="43.13249999999999" fill="#eb9381" stroke="none" stroke-width="1" />
<line x1="260.85" y1="375.8675" x2="260.85" y2="370.27625" stroke="#d8102c" stroke-width="0.8" />
<line x1="258.85" y1="370.27625" x2="262.85" y2="370.27625" stroke="#d8102c" stroke-width="0.85" />
<circle cx="260.85" cy="367.08" r="1.3" fill="#d8102c"/>
<circle cx="259.05" cy="370.28" r="1.3" fill="#d8102c"/>
<circle cx="262.65" cy="371.87" r="1.3" fill="#d8102c"/>
<circle cx="260.85" cy="375.07" r="1.3" fill="#d8102c"/>
<circle cx="259.05" cy="377.47" r="1.3" fill="#d8102c"/>
<circle cx="262.65" cy="379.06" r="1.3" fill="#d8102c"/>
<line x1="223.2" y1="351.5" x2="260.6" y2="351.5" stroke="#1e1e1e" stroke-width="1.0" />
<text transform="translate(241.9,351.9)" font-size="8.6" text-anchor="middle" fill="#1a1a1a" font-weight="normal" stroke="#1a1a1a" stroke-width="0.08" letter-spacing="0.5">**</text>
<line x1="223.2" y1="363.5" x2="239.7" y2="363.5" stroke="#1e1e1e" stroke-width="1.0" />
<text transform="translate(231.45,361.6) scale(0.9,1)" font-size="6.4" text-anchor="middle" fill="#222" font-weight="normal" stroke="#222" stroke-width="0.2" >ns</text>
<line x1="243.4" y1="363.5" x2="260.6" y2="363.5" stroke="#1e1e1e" stroke-width="1.0" />
<text transform="translate(252.0,363.9)" font-size="8.6" text-anchor="middle" fill="#1a1a1a" font-weight="normal" stroke="#1a1a1a" stroke-width="0.08" letter-spacing="0.5">**</text>
<text transform="translate(46.800000000000004,429.8) rotate(-45)" font-size="7.0" text-anchor="end" fill="#222" font-weight="normal" stroke="#222" stroke-width="0.2" textLength="16.5" lengthAdjust="spacingAndGlyphs" ><tspan fill="#c9cba2" stroke="#c9cba2">Naive</tspan></text>
<text transform="translate(62.3,430.0) rotate(-45)" font-size="7.0" text-anchor="end" fill="#222" font-weight="normal" stroke="#222" stroke-width="0.2" textLength="12" lengthAdjust="spacingAndGlyphs" ><tspan fill="#6a7a94" stroke="#6a7a94">Allo</tspan><tspan fill="#6a7a94" stroke="#6a7a94"><tspan baseline-shift="0.8em" font-size="68%">+</tspan></tspan></text>
<text transform="translate(70.2,431.6) rotate(-45)" font-size="7.0" text-anchor="end" fill="#222" font-weight="normal" stroke="#222" stroke-width="0.2" textLength="20.5" lengthAdjust="spacingAndGlyphs" ><tspan fill="#6a7a94" stroke="#6a7a94">Vehicle</tspan></text>
<text transform="translate(80.2,430.0) rotate(-45)" font-size="7.0" text-anchor="end" fill="#222" font-weight="normal" stroke="#222" stroke-width="0.2" textLength="12" lengthAdjust="spacingAndGlyphs" ><tspan fill="#3a3a3a" stroke="#3a3a3a">Allo</tspan><tspan fill="#3a3a3a" stroke="#3a3a3a"><tspan baseline-shift="0.8em" font-size="68%">+</tspan></tspan></text>
<text transform="translate(86.89999999999999,433.2) rotate(-45)" font-size="7.0" text-anchor="end" fill="#222" font-weight="normal" stroke="#222" stroke-width="0.2" textLength="12" lengthAdjust="spacingAndGlyphs" ><tspan fill="#e0304a" stroke="#e0304a">CSP</tspan></text>
<text transform="translate(137.0,429.8) rotate(-45)" font-size="7.0" text-anchor="end" fill="#222" font-weight="normal" stroke="#222" stroke-width="0.2" textLength="16.5" lengthAdjust="spacingAndGlyphs" ><tspan fill="#c9cba2" stroke="#c9cba2">Naive</tspan></text>
<text transform="translate(153.5,430.0) rotate(-45)" font-size="7.0" text-anchor="end" fill="#222" font-weight="normal" stroke="#222" stroke-width="0.2" textLength="12" lengthAdjust="spacingAndGlyphs" ><tspan fill="#6a7a94" stroke="#6a7a94">Allo</tspan><tspan fill="#6a7a94" stroke="#6a7a94"><tspan baseline-shift="0.8em" font-size="68%">+</tspan></tspan></text>
<text transform="translate(161.4,431.6) rotate(-45)" font-size="7.0" text-anchor="end" fill="#222" font-weight="normal" stroke="#222" stroke-width="0.2" textLength="20.5" lengthAdjust="spacingAndGlyphs" ><tspan fill="#6a7a94" stroke="#6a7a94">Vehicle</tspan></text>
<text transform="translate(171.5,430.0) rotate(-45)" font-size="7.0" text-anchor="end" fill="#222" font-weight="normal" stroke="#222" stroke-width="0.2" textLength="12" lengthAdjust="spacingAndGlyphs" ><tspan fill="#3a3a3a" stroke="#3a3a3a">Allo</tspan><tspan fill="#3a3a3a" stroke="#3a3a3a"><tspan baseline-shift="0.8em" font-size="68%">+</tspan></tspan></text>
<text transform="translate(178.2,433.2) rotate(-45)" font-size="7.0" text-anchor="end" fill="#222" font-weight="normal" stroke="#222" stroke-width="0.2" textLength="12" lengthAdjust="spacingAndGlyphs" ><tspan fill="#e0304a" stroke="#e0304a">CSP</tspan></text>
<text transform="translate(224.79999999999998,429.8) rotate(-45)" font-size="7.0" text-anchor="end" fill="#222" font-weight="normal" stroke="#222" stroke-width="0.2" textLength="16.5" lengthAdjust="spacingAndGlyphs" ><tspan fill="#c9cba2" stroke="#c9cba2">Naive</tspan></text>
<text transform="translate(242.70000000000002,430.0) rotate(-45)" font-size="7.0" text-anchor="end" fill="#222" font-weight="normal" stroke="#222" stroke-width="0.2" textLength="12" lengthAdjust="spacingAndGlyphs" ><tspan fill="#6a7a94" stroke="#6a7a94">Allo</tspan><tspan fill="#6a7a94" stroke="#6a7a94"><tspan baseline-shift="0.8em" font-size="68%">+</tspan></tspan></text>
<text transform="translate(250.60000000000002,431.6) rotate(-45)" font-size="7.0" text-anchor="end" fill="#222" font-weight="normal" stroke="#222" stroke-width="0.2" textLength="20.5" lengthAdjust="spacingAndGlyphs" ><tspan fill="#6a7a94" stroke="#6a7a94">Vehicle</tspan></text>
<text transform="translate(261.5,430.0) rotate(-45)" font-size="7.0" text-anchor="end" fill="#222" font-weight="normal" stroke="#222" stroke-width="0.2" textLength="12" lengthAdjust="spacingAndGlyphs" ><tspan fill="#3a3a3a" stroke="#3a3a3a">Allo</tspan><tspan fill="#3a3a3a" stroke="#3a3a3a"><tspan baseline-shift="0.8em" font-size="68%">+</tspan></tspan></text>
<text transform="translate(268.20000000000005,433.2) rotate(-45)" font-size="7.0" text-anchor="end" fill="#222" font-weight="normal" stroke="#222" stroke-width="0.2" textLength="12" lengthAdjust="spacingAndGlyphs" ><tspan fill="#e0304a" stroke="#e0304a">CSP</tspan></text>
<text transform="translate(282.7,343.6)" font-size="11.6" text-anchor="start" fill="#0e0e0e" font-weight="bold" textLength="8.1" lengthAdjust="spacingAndGlyphs" stroke="#0e0e0e" stroke-width="0.35">K</text>
<line x1="312.5" y1="353.2" x2="312.5" y2="420.05" stroke="#262626" stroke-width="1.1" />
<line x1="311.95" y1="419.5" x2="357.5" y2="419.5" stroke="#262626" stroke-width="1.1" />
<line x1="309.0" y1="419.3" x2="312" y2="419.3" stroke="#262626" stroke-width="0.95" />
<text transform="translate(306.2,421.61) scale(0.88,1)" font-size="6.6" text-anchor="end" fill="#2a2a2a" font-weight="normal" stroke="#2a2a2a" stroke-width="0.2" >0</text>
<line x1="309.0" y1="404.275" x2="312" y2="404.275" stroke="#262626" stroke-width="0.95" />
<text transform="translate(306.2,406.585) scale(0.88,1)" font-size="6.6" text-anchor="end" fill="#2a2a2a" font-weight="normal" stroke="#2a2a2a" stroke-width="0.2" >5</text>
<line x1="309.0" y1="389.25" x2="312" y2="389.25" stroke="#262626" stroke-width="0.95" />
<text transform="translate(306.2,391.56) scale(0.88,1)" font-size="6.6" text-anchor="end" fill="#2a2a2a" font-weight="normal" stroke="#2a2a2a" stroke-width="0.2" >10</text>
<line x1="309.0" y1="374.225" x2="312" y2="374.225" stroke="#262626" stroke-width="0.95" />
<text transform="translate(306.2,376.535) scale(0.88,1)" font-size="6.6" text-anchor="end" fill="#2a2a2a" font-weight="normal" stroke="#2a2a2a" stroke-width="0.2" >15</text>
<line x1="309.0" y1="359.2" x2="312" y2="359.2" stroke="#262626" stroke-width="0.95" />
<text transform="translate(306.2,361.51) scale(0.88,1)" font-size="6.6" text-anchor="end" fill="#2a2a2a" font-weight="normal" stroke="#2a2a2a" stroke-width="0.2" >20</text>
<line x1="325.7" y1="419.3" x2="325.7" y2="422.1" stroke="#262626" stroke-width="0.95" />
<line x1="345" y1="419.3" x2="345" y2="422.1" stroke="#262626" stroke-width="0.95" />
<text transform="translate(334.6,342.8)" font-size="8.8" text-anchor="middle" fill="#222" font-weight="normal" stroke="#222" stroke-width="0.08" textLength="23.3" lengthAdjust="spacingAndGlyphs" >2C-Tg</text>
<text transform="translate(294.0,388.1) rotate(-90)" font-size="8.3" text-anchor="middle" fill="#222" font-weight="normal" stroke="#222" stroke-width="0.2" textLength="61.8" lengthAdjust="spacingAndGlyphs" >Ly6C<tspan baseline-shift="0.8em" font-size="68%">+</tspan> T cells (×10<tspan baseline-shift="0.8em" font-size="68%">3</tspan>)</text>
<rect x="319.3" y="408.7825" width="12.199999999999989" height="10.517499999999984" fill="#9ca2ae" stroke="none" stroke-width="1" />
<line x1="325.4" y1="408.7825" x2="325.4" y2="406.37850000000003" stroke="#424a5a" stroke-width="0.8" />
<line x1="320.5" y1="406.37850000000003" x2="330.29999999999995" y2="406.37850000000003" stroke="#424a5a" stroke-width="0.85" />
<circle cx="325.40" cy="404.27" r="1.3" fill="#424a5a"/>
<circle cx="321.40" cy="409.38" r="1.3" fill="#424a5a"/>
<circle cx="325.40" cy="411.79" r="1.3" fill="#424a5a"/>
<circle cx="329.40" cy="411.49" r="1.3" fill="#424a5a"/>
<circle cx="321.40" cy="411.49" r="1.3" fill="#424a5a"/>
<rect x="339.1" y="384.442" width="12.0" height="34.858000000000004" fill="#eb9381" stroke="none" stroke-width="1" />
<line x1="345.1" y1="384.442" x2="345.1" y2="374.225" stroke="#d8102c" stroke-width="0.8" />
<line x1="340.1" y1="374.225" x2="350.1" y2="374.225" stroke="#d8102c" stroke-width="0.85" />
<circle cx="345.10" cy="373.02" r="1.3" fill="#d8102c"/>
<circle cx="345.10" cy="378.13" r="1.3" fill="#d8102c"/>
<circle cx="345.10" cy="381.14" r="1.3" fill="#d8102c"/>
<circle cx="345.10" cy="386.55" r="1.3" fill="#d8102c"/>
<circle cx="345.10" cy="398.87" r="1.3" fill="#d8102c"/>
<line x1="325.5" y1="369.5" x2="344.4" y2="369.5" stroke="#1e1e1e" stroke-width="1.0" />
<text transform="translate(334.95,369.9)" font-size="8.6" text-anchor="middle" fill="#1a1a1a" font-weight="normal" stroke="#1a1a1a" stroke-width="0.08" letter-spacing="0.5">**</text>
<line x1="390.5" y1="353.5" x2="390.5" y2="420.05" stroke="#262626" stroke-width="1.1" />
<line x1="389.95" y1="419.5" x2="435.9" y2="419.5" stroke="#262626" stroke-width="1.1" />
<line x1="387.4" y1="419.3" x2="390.4" y2="419.3" stroke="#262626" stroke-width="0.95" />
<text transform="translate(384.59999999999997,421.61) scale(0.88,1)" font-size="6.6" text-anchor="end" fill="#2a2a2a" font-weight="normal" stroke="#2a2a2a" stroke-width="0.2" >0</text>
<line x1="387.4" y1="399.3666666666667" x2="390.4" y2="399.3666666666667" stroke="#262626" stroke-width="0.95" />
<text transform="translate(384.59999999999997,401.6766666666667) scale(0.88,1)" font-size="6.6" text-anchor="end" fill="#2a2a2a" font-weight="normal" stroke="#2a2a2a" stroke-width="0.2" >5</text>
<line x1="387.4" y1="379.43333333333334" x2="390.4" y2="379.43333333333334" stroke="#262626" stroke-width="0.95" />
<text transform="translate(384.59999999999997,381.74333333333334) scale(0.88,1)" font-size="6.6" text-anchor="end" fill="#2a2a2a" font-weight="normal" stroke="#2a2a2a" stroke-width="0.2" >10</text>
<line x1="387.4" y1="359.5" x2="390.4" y2="359.5" stroke="#262626" stroke-width="0.95" />
<text transform="translate(384.59999999999997,361.81) scale(0.88,1)" font-size="6.6" text-anchor="end" fill="#2a2a2a" font-weight="normal" stroke="#2a2a2a" stroke-width="0.2" >15</text>
<line x1="404" y1="419.3" x2="404" y2="422.1" stroke="#262626" stroke-width="0.95" />
<line x1="423.6" y1="419.3" x2="423.6" y2="422.1" stroke="#262626" stroke-width="0.95" />
<text transform="translate(412.3,342.8)" font-size="8.8" text-anchor="middle" fill="#222" font-weight="normal" stroke="#222" stroke-width="0.08" textLength="34.3" lengthAdjust="spacingAndGlyphs" >WT CD8<tspan baseline-shift="0.8em" font-size="68%">+</tspan></text>
<text transform="translate(372.0,388.2) rotate(-90)" font-size="8.3" text-anchor="middle" fill="#222" font-weight="normal" stroke="#222" stroke-width="0.2" textLength="59.7" lengthAdjust="spacingAndGlyphs" >Ly6C<tspan baseline-shift="0.8em" font-size="68%">+</tspan> T cells (×10<tspan baseline-shift="0.8em" font-size="68%">3</tspan>)</text>
<rect x="397.9" y="413.47946666666667" width="12.200000000000045" height="5.820533333333344" fill="#9ca2ae" stroke="none" stroke-width="1" />
<line x1="404.0" y1="413.47946666666667" x2="404.0" y2="407.49946666666665" stroke="#424a5a" stroke-width="0.8" />
<line x1="399.0" y1="407.49946666666665" x2="409.0" y2="407.49946666666665" stroke="#424a5a" stroke-width="0.85" />
<circle cx="404.00" cy="403.95" r="1.3" fill="#424a5a"/>
<circle cx="404.00" cy="411.73" r="1.3" fill="#424a5a"/>
<circle cx="399.50" cy="415.71" r="1.3" fill="#424a5a"/>
<circle cx="404.00" cy="415.71" r="1.3" fill="#424a5a"/>
<circle cx="408.50" cy="415.71" r="1.3" fill="#424a5a"/>
<rect x="417.3" y="372.656" width="12.599999999999966" height="46.644000000000005" fill="#eb9381" stroke="none" stroke-width="1" />
<line x1="423.6" y1="372.656" x2="423.6" y2="366.676" stroke="#d8102c" stroke-width="0.8" />
<line x1="418.6" y1="366.676" x2="428.6" y2="366.676" stroke="#d8102c" stroke-width="0.85" />
<circle cx="423.60" cy="364.68" r="1.3" fill="#d8102c"/>
<circle cx="420.60" cy="370.66" r="1.3" fill="#d8102c"/>
<circle cx="427.00" cy="370.66" r="1.3" fill="#d8102c"/>
<circle cx="423.60" cy="374.25" r="1.3" fill="#d8102c"/>
<circle cx="423.60" cy="381.83" r="1.3" fill="#d8102c"/>
<line x1="404.8" y1="361.5" x2="423.9" y2="361.5" stroke="#1e1e1e" stroke-width="1.0" />
<text transform="translate(414.35,361.9)" font-size="8.6" text-anchor="middle" fill="#1a1a1a" font-weight="normal" stroke="#1a1a1a" stroke-width="0.08" letter-spacing="0.5">**</text>
<line x1="470.5" y1="353.9" x2="470.5" y2="420.05" stroke="#262626" stroke-width="1.1" />
<line x1="469.95" y1="419.5" x2="515.5" y2="419.5" stroke="#262626" stroke-width="1.1" />
<line x1="467.0" y1="419.3" x2="470.0" y2="419.3" stroke="#262626" stroke-width="0.95" />
<text transform="translate(464.2,421.61) scale(0.88,1)" font-size="6.6" text-anchor="end" fill="#2a2a2a" font-weight="normal" stroke="#2a2a2a" stroke-width="0.2" >0</text>
<line x1="467.0" y1="407.42" x2="470.0" y2="407.42" stroke="#262626" stroke-width="0.95" />
<text transform="translate(464.2,409.73) scale(0.88,1)" font-size="6.6" text-anchor="end" fill="#2a2a2a" font-weight="normal" stroke="#2a2a2a" stroke-width="0.2" >5</text>
<line x1="467.0" y1="395.54" x2="470.0" y2="395.54" stroke="#262626" stroke-width="0.95" />
<text transform="translate(464.2,397.85) scale(0.88,1)" font-size="6.6" text-anchor="end" fill="#2a2a2a" font-weight="normal" stroke="#2a2a2a" stroke-width="0.2" >10</text>
<line x1="467.0" y1="383.65999999999997" x2="470.0" y2="383.65999999999997" stroke="#262626" stroke-width="0.95" />
<text transform="translate(464.2,385.96999999999997) scale(0.88,1)" font-size="6.6" text-anchor="end" fill="#2a2a2a" font-weight="normal" stroke="#2a2a2a" stroke-width="0.2" >15</text>
<line x1="467.0" y1="371.78" x2="470.0" y2="371.78" stroke="#262626" stroke-width="0.95" />
<text transform="translate(464.2,374.09) scale(0.88,1)" font-size="6.6" text-anchor="end" fill="#2a2a2a" font-weight="normal" stroke="#2a2a2a" stroke-width="0.2" >20</text>
<line x1="467.0" y1="359.9" x2="470.0" y2="359.9" stroke="#262626" stroke-width="0.95" />
<text transform="translate(464.2,362.21) scale(0.88,1)" font-size="6.6" text-anchor="end" fill="#2a2a2a" font-weight="normal" stroke="#2a2a2a" stroke-width="0.2" >25</text>
<line x1="482.2" y1="419.3" x2="482.2" y2="422.1" stroke="#262626" stroke-width="0.95" />
<line x1="502" y1="419.3" x2="502" y2="422.1" stroke="#262626" stroke-width="0.95" />
<text transform="translate(491.3,342.8)" font-size="8.8" text-anchor="middle" fill="#222" font-weight="normal" stroke="#222" stroke-width="0.08" textLength="34.3" lengthAdjust="spacingAndGlyphs" >WT CD4<tspan baseline-shift="0.8em" font-size="68%">+</tspan></text>
<text transform="translate(449.5,388.7) rotate(-90)" font-size="8.3" text-anchor="middle" fill="#222" font-weight="normal" stroke="#222" stroke-width="0.2" textLength="58.7" lengthAdjust="spacingAndGlyphs" >Ly6C<tspan baseline-shift="0.8em" font-size="68%">+</tspan> T cells (×10<tspan baseline-shift="0.8em" font-size="68%">3</tspan>)</text>
<rect x="476.9" y="411.4592" width="11.800000000000011" height="7.8408000000000015" fill="#9ca2ae" stroke="none" stroke-width="1" />
<line x1="482.79999999999995" y1="411.4592" x2="482.79999999999995" y2="406.9448" stroke="#424a5a" stroke-width="0.8" />
<line x1="477.79999999999995" y1="406.9448" x2="487.79999999999995" y2="406.9448" stroke="#424a5a" stroke-width="0.85" />
<circle cx="482.80" cy="405.04" r="1.3" fill="#424a5a"/>
<circle cx="482.80" cy="412.41" r="1.3" fill="#424a5a"/>
<circle cx="478.30" cy="414.31" r="1.3" fill="#424a5a"/>
<circle cx="487.30" cy="414.31" r="1.3" fill="#424a5a"/>
<rect x="496.0" y="382.2344" width="11.899999999999977" height="37.06560000000002" fill="#eb9381" stroke="none" stroke-width="1" />
<line x1="501.95" y1="382.2344" x2="501.95" y2="370.82959999999997" stroke="#d8102c" stroke-width="0.8" />
<line x1="496.95" y1="370.82959999999997" x2="506.95" y2="370.82959999999997" stroke="#d8102c" stroke-width="0.85" />
<circle cx="497.45" cy="370.83" r="1.3" fill="#d8102c"/>
<circle cx="500.95" cy="370.83" r="1.3" fill="#d8102c"/>
<circle cx="501.95" cy="382.00" r="1.3" fill="#d8102c"/>
<circle cx="501.95" cy="386.27" r="1.3" fill="#d8102c"/>
<circle cx="501.95" cy="397.68" r="1.3" fill="#d8102c"/>
<line x1="482.8" y1="367.5" x2="501.9" y2="367.5" stroke="#1e1e1e" stroke-width="1.0" />
<text transform="translate(492.35,367.9)" font-size="8.6" text-anchor="middle" fill="#1a1a1a" font-weight="normal" stroke="#1a1a1a" stroke-width="0.08" letter-spacing="0.5">**</text>
<text transform="translate(327.79999999999995,428.6) rotate(-45)" font-size="7.0" text-anchor="end" fill="#222" font-weight="normal" stroke="#222" stroke-width="0.2" textLength="20.8" lengthAdjust="spacingAndGlyphs" ><tspan fill="#7c8292" stroke="#7c8292">Vehicle</tspan></text>
<text transform="translate(347.5,428.6) rotate(-45)" font-size="7.0" text-anchor="end" fill="#222" font-weight="normal" stroke="#222" stroke-width="0.2" textLength="12.2" lengthAdjust="spacingAndGlyphs" ><tspan fill="#d23a5a" stroke="#d23a5a">CSP</tspan></text>
<text transform="translate(406.4,428.6) rotate(-45)" font-size="7.0" text-anchor="end" fill="#222" font-weight="normal" stroke="#222" stroke-width="0.2" textLength="20.8" lengthAdjust="spacingAndGlyphs" ><tspan fill="#7c8292" stroke="#7c8292">Vehicle</tspan></text>
<text transform="translate(426.0,428.6) rotate(-45)" font-size="7.0" text-anchor="end" fill="#222" font-weight="normal" stroke="#222" stroke-width="0.2" textLength="12.2" lengthAdjust="spacingAndGlyphs" ><tspan fill="#d23a5a" stroke="#d23a5a">CSP</tspan></text>
<text transform="translate(485.2,428.6) rotate(-45)" font-size="7.0" text-anchor="end" fill="#222" font-weight="normal" stroke="#222" stroke-width="0.2" textLength="20.8" lengthAdjust="spacingAndGlyphs" ><tspan fill="#7c8292" stroke="#7c8292">Vehicle</tspan></text>
<text transform="translate(504.4,428.6) rotate(-45)" font-size="7.0" text-anchor="end" fill="#222" font-weight="normal" stroke="#222" stroke-width="0.2" textLength="12.2" lengthAdjust="spacingAndGlyphs" ><tspan fill="#d23a5a" stroke="#d23a5a">CSP</tspan></text>
<text transform="translate(8.0,471.0)" font-size="11.6" text-anchor="start" fill="#0e0e0e" font-weight="bold" textLength="5.6" lengthAdjust="spacingAndGlyphs" stroke="#0e0e0e" stroke-width="0.35">L</text>
<text transform="translate(14.9,505.9) rotate(-90)" font-size="9.4" text-anchor="middle" fill="#222" font-weight="normal" stroke="#222" stroke-width="0.08" textLength="22.2" lengthAdjust="spacingAndGlyphs" >2C-Tg</text>
<line x1="49.5" y1="472.6" x2="49.5" y2="540.05" stroke="#262626" stroke-width="1.1" />
<line x1="48.95" y1="539.5" x2="95.3" y2="539.5" stroke="#262626" stroke-width="1.1" />
<line x1="46.5" y1="539.6" x2="49.5" y2="539.6" stroke="#262626" stroke-width="0.95" />
<text transform="translate(43.5,541.91) scale(0.88,1)" font-size="6.6" text-anchor="end" fill="#2a2a2a" font-weight="normal" stroke="#2a2a2a" stroke-width="0.2" >0</text>
<line x1="46.5" y1="517.9333333333334" x2="49.5" y2="517.9333333333334" stroke="#262626" stroke-width="0.95" />
<text transform="translate(43.5,520.2433333333333) scale(0.88,1)" font-size="6.6" text-anchor="end" fill="#2a2a2a" font-weight="normal" stroke="#2a2a2a" stroke-width="0.2" >5</text>
<line x1="46.5" y1="496.2666666666667" x2="49.5" y2="496.2666666666667" stroke="#262626" stroke-width="0.95" />
<text transform="translate(43.5,498.5766666666667) scale(0.88,1)" font-size="6.6" text-anchor="end" fill="#2a2a2a" font-weight="normal" stroke="#2a2a2a" stroke-width="0.2" >10</text>
<line x1="46.5" y1="474.6" x2="49.5" y2="474.6" stroke="#262626" stroke-width="0.95" />
<text transform="translate(43.5,476.91) scale(0.88,1)" font-size="6.6" text-anchor="end" fill="#2a2a2a" font-weight="normal" stroke="#2a2a2a" stroke-width="0.2" >15</text>
<line x1="61.5" y1="539.6" x2="61.5" y2="542.4" stroke="#262626" stroke-width="0.95" />
<line x1="82.1" y1="539.6" x2="82.1" y2="542.4" stroke="#262626" stroke-width="0.95" />
<text transform="translate(32.0,506.2) rotate(-90)" font-size="8.1" text-anchor="middle" fill="#222" font-weight="normal" stroke="#222" stroke-width="0.2" textLength="50" lengthAdjust="spacingAndGlyphs" >PD-1 MFI (×10<tspan baseline-shift="0.8em" font-size="68%">3</tspan>)</text>
<rect x="56.3" y="501.90000000000003" width="10.400000000000006" height="37.69999999999999" fill="#f28b0c" stroke="none" stroke-width="1" />
<line x1="61.5" y1="501.90000000000003" x2="61.5" y2="496.70000000000005" stroke="#f8c070" stroke-width="0.8" />
<line x1="58.7" y1="496.70000000000005" x2="64.3" y2="496.70000000000005" stroke="#f8c070" stroke-width="0.85" />
<circle cx="57.50" cy="500.60" r="1.3" fill="#111"/>
<circle cx="61.50" cy="495.83" r="1.3" fill="#111"/>
<circle cx="65.50" cy="501.47" r="1.3" fill="#111"/>
<circle cx="60.00" cy="503.20" r="1.3" fill="#111"/>
<circle cx="61.50" cy="507.53" r="1.3" fill="#111"/>
<rect x="77.2" y="508.83333333333337" width="9.799999999999997" height="30.76666666666665" fill="#3aa83a" stroke="none" stroke-width="1" />
<line x1="82.1" y1="508.83333333333337" x2="82.1" y2="505.8" stroke="#a8dca8" stroke-width="0.8" />
<line x1="79.3" y1="505.8" x2="84.89999999999999" y2="505.8" stroke="#a8dca8" stroke-width="0.85" />
<circle cx="78.10" cy="505.80" r="1.3" fill="#111"/>
<circle cx="82.10" cy="505.37" r="1.3" fill="#111"/>
<circle cx="86.10" cy="507.10" r="1.3" fill="#111"/>
<circle cx="82.10" cy="510.13" r="1.3" fill="#111"/>
<circle cx="82.10" cy="512.30" r="1.3" fill="#111"/>
<line x1="62.1" y1="488.5" x2="81.6" y2="488.5" stroke="#1e1e1e" stroke-width="1.0" />
<text transform="translate(71.85,488.9)" font-size="8.6" text-anchor="middle" fill="#1a1a1a" font-weight="normal" stroke="#1a1a1a" stroke-width="0.08" letter-spacing="0.5">*</text>
<text transform="translate(64.1,549.3) rotate(-45)" font-size="7.2" text-anchor="end" fill="#222" font-weight="normal" stroke="#222" stroke-width="0.2" textLength="15.2" lengthAdjust="spacingAndGlyphs" ><tspan fill="#f2b27a" stroke="#f2b27a">Ly6C</tspan><tspan fill="#f2b27a" stroke="#f2b27a"><tspan baseline-shift="0.8em" font-size="68%">−</tspan></tspan></text>
<text transform="translate(84.69999999999999,549.3) rotate(-45)" font-size="7.2" text-anchor="end" fill="#222" font-weight="normal" stroke="#222" stroke-width="0.2" textLength="15.2" lengthAdjust="spacingAndGlyphs" ><tspan fill="#7fc47f" stroke="#7fc47f">Ly6C</tspan><tspan fill="#7fc47f" stroke="#7fc47f"><tspan baseline-shift="0.8em" font-size="68%">+</tspan></tspan></text>
<line x1="126.5" y1="473" x2="126.5" y2="540.05" stroke="#262626" stroke-width="1.1" />
<line x1="125.95" y1="539.5" x2="172.5" y2="539.5" stroke="#262626" stroke-width="1.1" />
<line x1="123.7" y1="539.6" x2="126.7" y2="539.6" stroke="#262626" stroke-width="0.95" />
<text transform="translate(120.7,541.91) scale(0.88,1)" font-size="6.6" text-anchor="end" fill="#2a2a2a" font-weight="normal" stroke="#2a2a2a" stroke-width="0.2" >0</text>
<line x1="123.7" y1="526.6800000000001" x2="126.7" y2="526.6800000000001" stroke="#262626" stroke-width="0.95" />
<text transform="translate(120.7,528.99) scale(0.88,1)" font-size="6.6" text-anchor="end" fill="#2a2a2a" font-weight="normal" stroke="#2a2a2a" stroke-width="0.2" >2</text>
<line x1="123.7" y1="513.76" x2="126.7" y2="513.76" stroke="#262626" stroke-width="0.95" />
<text transform="translate(120.7,516.0699999999999) scale(0.88,1)" font-size="6.6" text-anchor="end" fill="#2a2a2a" font-weight="normal" stroke="#2a2a2a" stroke-width="0.2" >4</text>
<line x1="123.7" y1="500.84000000000003" x2="126.7" y2="500.84000000000003" stroke="#262626" stroke-width="0.95" />
<text transform="translate(120.7,503.15000000000003) scale(0.88,1)" font-size="6.6" text-anchor="end" fill="#2a2a2a" font-weight="normal" stroke="#2a2a2a" stroke-width="0.2" >6</text>
<line x1="123.7" y1="487.92" x2="126.7" y2="487.92" stroke="#262626" stroke-width="0.95" />
<text transform="translate(120.7,490.23) scale(0.88,1)" font-size="6.6" text-anchor="end" fill="#2a2a2a" font-weight="normal" stroke="#2a2a2a" stroke-width="0.2" >8</text>
<line x1="123.7" y1="475.0" x2="126.7" y2="475.0" stroke="#262626" stroke-width="0.95" />
<text transform="translate(120.7,477.31) scale(0.88,1)" font-size="6.6" text-anchor="end" fill="#2a2a2a" font-weight="normal" stroke="#2a2a2a" stroke-width="0.2" >10</text>
<line x1="139.45" y1="539.6" x2="139.45" y2="542.4" stroke="#262626" stroke-width="0.95" />
<line x1="159.8" y1="539.6" x2="159.8" y2="542.4" stroke="#262626" stroke-width="0.95" />
<text transform="translate(111.0,505.9) rotate(-90)" font-size="8.1" text-anchor="middle" fill="#222" font-weight="normal" stroke="#222" stroke-width="0.2" textLength="49" lengthAdjust="spacingAndGlyphs" >TIGIT MFI (×10<tspan baseline-shift="0.8em" font-size="68%">3</tspan>)</text>
<rect x="134.2" y="495.672" width="10.5" height="43.928" fill="#f28b0c" stroke="none" stroke-width="1" />
<line x1="139.45" y1="495.672" x2="139.45" y2="488.56600000000003" stroke="#f8c070" stroke-width="0.8" />
<line x1="136.64999999999998" y1="488.56600000000003" x2="142.25" y2="488.56600000000003" stroke="#f8c070" stroke-width="0.85" />
<circle cx="139.45" cy="485.98" r="1.3" fill="#111"/>
<circle cx="137.95" cy="490.50" r="1.3" fill="#111"/>
<circle cx="139.45" cy="496.32" r="1.3" fill="#111"/>
<circle cx="142.45" cy="498.26" r="1.3" fill="#111"/>
<circle cx="139.45" cy="506.65" r="1.3" fill="#111"/>
<rect x="153.9" y="522.804" width="11.799999999999983" height="16.79600000000005" fill="#3aa83a" stroke="none" stroke-width="1" />
<line x1="159.8" y1="522.804" x2="159.8" y2="519.5740000000001" stroke="#a8dca8" stroke-width="0.8" />
<line x1="157.0" y1="519.5740000000001" x2="162.60000000000002" y2="519.5740000000001" stroke="#a8dca8" stroke-width="0.85" />
<circle cx="157.80" cy="517.64" r="1.3" fill="#111"/>
<circle cx="161.80" cy="518.28" r="1.3" fill="#111"/>
<circle cx="155.80" cy="522.80" r="1.3" fill="#111"/>
<circle cx="159.80" cy="523.45" r="1.3" fill="#111"/>
<circle cx="163.80" cy="523.45" r="1.3" fill="#111"/>
<line x1="140.04999999999998" y1="480.5" x2="159.3" y2="480.5" stroke="#1e1e1e" stroke-width="1.0" />
<text transform="translate(149.675,480.9)" font-size="8.6" text-anchor="middle" fill="#1a1a1a" font-weight="normal" stroke="#1a1a1a" stroke-width="0.08" letter-spacing="0.5">**</text>
<text transform="translate(142.04999999999998,549.3) rotate(-45)" font-size="7.2" text-anchor="end" fill="#222" font-weight="normal" stroke="#222" stroke-width="0.2" textLength="15.2" lengthAdjust="spacingAndGlyphs" ><tspan fill="#f2b27a" stroke="#f2b27a">Ly6C</tspan><tspan fill="#f2b27a" stroke="#f2b27a"><tspan baseline-shift="0.8em" font-size="68%">−</tspan></tspan></text>
<text transform="translate(162.4,549.3) rotate(-45)" font-size="7.2" text-anchor="end" fill="#222" font-weight="normal" stroke="#222" stroke-width="0.2" textLength="15.2" lengthAdjust="spacingAndGlyphs" ><tspan fill="#7fc47f" stroke="#7fc47f">Ly6C</tspan><tspan fill="#7fc47f" stroke="#7fc47f"><tspan baseline-shift="0.8em" font-size="68%">+</tspan></tspan></text>
<line x1="201.5" y1="472" x2="201.5" y2="540.05" stroke="#262626" stroke-width="1.1" />
<line x1="200.95" y1="539.5" x2="248" y2="539.5" stroke="#262626" stroke-width="1.1" />
<line x1="198.1" y1="539.6" x2="201.1" y2="539.6" stroke="#262626" stroke-width="0.95" />
<text transform="translate(195.1,541.91) scale(0.88,1)" font-size="6.6" text-anchor="end" fill="#2a2a2a" font-weight="normal" stroke="#2a2a2a" stroke-width="0.2" >0</text>
<line x1="198.1" y1="513.36" x2="201.1" y2="513.36" stroke="#262626" stroke-width="0.95" />
<text transform="translate(195.1,515.67) scale(0.88,1)" font-size="6.6" text-anchor="end" fill="#2a2a2a" font-weight="normal" stroke="#2a2a2a" stroke-width="0.2" >1</text>
<line x1="198.1" y1="487.12" x2="201.1" y2="487.12" stroke="#262626" stroke-width="0.95" />
<text transform="translate(195.1,489.43) scale(0.88,1)" font-size="6.6" text-anchor="end" fill="#2a2a2a" font-weight="normal" stroke="#2a2a2a" stroke-width="0.2" >2</text>
<line x1="198.1" y1="526.48" x2="201.1" y2="526.48" stroke="#262626" stroke-width="0.95" />
<line x1="198.1" y1="500.24" x2="201.1" y2="500.24" stroke="#262626" stroke-width="0.95" />
<line x1="198.1" y1="474.0" x2="201.1" y2="474.0" stroke="#262626" stroke-width="0.95" />
<line x1="214.60000000000002" y1="539.6" x2="214.60000000000002" y2="542.4" stroke="#262626" stroke-width="0.95" />
<line x1="235.2" y1="539.6" x2="235.2" y2="542.4" stroke="#262626" stroke-width="0.95" />
<text transform="translate(188.0,504.8) rotate(-90)" font-size="8.1" text-anchor="middle" fill="#222" font-weight="normal" stroke="#222" stroke-width="0.2" textLength="47" lengthAdjust="spacingAndGlyphs" >TOX MFI (×10<tspan baseline-shift="0.8em" font-size="68%">3</tspan>)</text>
<rect x="209.4" y="500.24" width="10.400000000000006" height="39.360000000000014" fill="#f28b0c" stroke="none" stroke-width="1" />
<line x1="214.60000000000002" y1="500.24" x2="214.60000000000002" y2="492.368" stroke="#f8c070" stroke-width="0.8" />
<line x1="211.8" y1="492.368" x2="217.40000000000003" y2="492.368" stroke="#f8c070" stroke-width="0.85" />
<circle cx="214.60" cy="487.64" r="1.3" fill="#111"/>
<circle cx="214.60" cy="494.47" r="1.3" fill="#111"/>
<circle cx="212.60" cy="499.72" r="1.3" fill="#111"/>
<circle cx="216.60" cy="501.55" r="1.3" fill="#111"/>
<circle cx="214.60" cy="506.80" r="1.3" fill="#111"/>
<rect x="230.3" y="514.672" width="9.799999999999983" height="24.927999999999997" fill="#3aa83a" stroke="none" stroke-width="1" />
<line x1="235.2" y1="514.672" x2="235.2" y2="509.9488" stroke="#a8dca8" stroke-width="0.8" />
<line x1="232.39999999999998" y1="509.9488" x2="238.0" y2="509.9488" stroke="#a8dca8" stroke-width="0.85" />
<circle cx="233.20" cy="506.80" r="1.3" fill="#111"/>
<circle cx="237.20" cy="508.11" r="1.3" fill="#111"/>
<circle cx="235.20" cy="512.05" r="1.3" fill="#111"/>
<circle cx="235.20" cy="517.30" r="1.3" fill="#111"/>
<circle cx="235.20" cy="520.71" r="1.3" fill="#111"/>
<line x1="215.20000000000002" y1="481.5" x2="234.7" y2="481.5" stroke="#1e1e1e" stroke-width="1.0" />
<text transform="translate(224.95,481.9)" font-size="8.6" text-anchor="middle" fill="#1a1a1a" font-weight="normal" stroke="#1a1a1a" stroke-width="0.08" letter-spacing="0.5">**</text>
<text transform="translate(217.20000000000002,549.3) rotate(-45)" font-size="7.2" text-anchor="end" fill="#222" font-weight="normal" stroke="#222" stroke-width="0.2" textLength="15.2" lengthAdjust="spacingAndGlyphs" ><tspan fill="#f2b27a" stroke="#f2b27a">Ly6C</tspan><tspan fill="#f2b27a" stroke="#f2b27a"><tspan baseline-shift="0.8em" font-size="68%">−</tspan></tspan></text>
<text transform="translate(237.79999999999998,549.3) rotate(-45)" font-size="7.2" text-anchor="end" fill="#222" font-weight="normal" stroke="#222" stroke-width="0.2" textLength="15.2" lengthAdjust="spacingAndGlyphs" ><tspan fill="#7fc47f" stroke="#7fc47f">Ly6C</tspan><tspan fill="#7fc47f" stroke="#7fc47f"><tspan baseline-shift="0.8em" font-size="68%">+</tspan></tspan></text>
<line x1="277.5" y1="472.6" x2="277.5" y2="540.05" stroke="#262626" stroke-width="1.1" />
<line x1="276.95" y1="539.5" x2="322.8" y2="539.5" stroke="#262626" stroke-width="1.1" />
<line x1="274.5" y1="539.6" x2="277.5" y2="539.6" stroke="#262626" stroke-width="0.95" />
<text transform="translate(271.5,541.91) scale(0.88,1)" font-size="6.6" text-anchor="end" fill="#2a2a2a" font-weight="normal" stroke="#2a2a2a" stroke-width="0.2" >0</text>
<line x1="274.5" y1="526.6" x2="277.5" y2="526.6" stroke="#262626" stroke-width="0.95" />
<text transform="translate(271.5,528.91) scale(0.88,1)" font-size="6.6" text-anchor="end" fill="#2a2a2a" font-weight="normal" stroke="#2a2a2a" stroke-width="0.2" >1</text>
<line x1="274.5" y1="513.6" x2="277.5" y2="513.6" stroke="#262626" stroke-width="0.95" />
<text transform="translate(271.5,515.91) scale(0.88,1)" font-size="6.6" text-anchor="end" fill="#2a2a2a" font-weight="normal" stroke="#2a2a2a" stroke-width="0.2" >2</text>
<line x1="274.5" y1="500.6" x2="277.5" y2="500.6" stroke="#262626" stroke-width="0.95" />
<text transform="translate(271.5,502.91) scale(0.88,1)" font-size="6.6" text-anchor="end" fill="#2a2a2a" font-weight="normal" stroke="#2a2a2a" stroke-width="0.2" >3</text>
<line x1="274.5" y1="487.6" x2="277.5" y2="487.6" stroke="#262626" stroke-width="0.95" />
<text transform="translate(271.5,489.91) scale(0.88,1)" font-size="6.6" text-anchor="end" fill="#2a2a2a" font-weight="normal" stroke="#2a2a2a" stroke-width="0.2" >4</text>
<line x1="274.5" y1="474.6" x2="277.5" y2="474.6" stroke="#262626" stroke-width="0.95" />
<text transform="translate(271.5,476.91) scale(0.88,1)" font-size="6.6" text-anchor="end" fill="#2a2a2a" font-weight="normal" stroke="#2a2a2a" stroke-width="0.2" >5</text>
<line x1="290.5" y1="539.6" x2="290.5" y2="542.4" stroke="#262626" stroke-width="0.95" />
<line x1="310.55" y1="539.6" x2="310.55" y2="542.4" stroke="#262626" stroke-width="0.95" />
<text transform="translate(263.6,509.5) rotate(-90)" font-size="8.1" text-anchor="middle" fill="#222" font-weight="normal" stroke="#222" stroke-width="0.2" textLength="56.4" lengthAdjust="spacingAndGlyphs" >TCF-1 MFI (×10<tspan baseline-shift="0.8em" font-size="68%">3</tspan>)</text>
<rect x="285.3" y="501.25" width="10.399999999999977" height="38.35000000000002" fill="#f28b0c" stroke="none" stroke-width="1" />
<line x1="290.5" y1="501.25" x2="290.5" y2="494.75" stroke="#f8c070" stroke-width="0.8" />
<line x1="287.7" y1="494.75" x2="293.3" y2="494.75" stroke="#f8c070" stroke-width="0.85" />
<circle cx="290.50" cy="493.45" r="1.3" fill="#111"/>
<circle cx="290.50" cy="496.70" r="1.3" fill="#111"/>
<circle cx="290.50" cy="500.60" r="1.3" fill="#111"/>
<circle cx="290.50" cy="506.45" r="1.3" fill="#111"/>
<circle cx="290.50" cy="511.00" r="1.3" fill="#111"/>
<rect x="305.1" y="499.3" width="10.899999999999977" height="40.30000000000001" fill="#3aa83a" stroke="none" stroke-width="1" />
<line x1="310.55" y1="499.3" x2="310.55" y2="487.6" stroke="#a8dca8" stroke-width="0.8" />
<line x1="307.75" y1="487.6" x2="313.35" y2="487.6" stroke="#a8dca8" stroke-width="0.85" />
<circle cx="310.55" cy="485.00" r="1.3" fill="#111"/>
<circle cx="310.55" cy="500.60" r="1.3" fill="#111"/>
<circle cx="307.55" cy="509.70" r="1.3" fill="#111"/>
<circle cx="313.55" cy="508.40" r="1.3" fill="#111"/>
<circle cx="310.55" cy="494.10" r="1.3" fill="#111"/>
<line x1="291.1" y1="479.5" x2="310.05" y2="479.5" stroke="#1e1e1e" stroke-width="1.0" />
<text transform="translate(300.57500000000005,477.6) scale(0.9,1)" font-size="6.4" text-anchor="middle" fill="#222" font-weight="normal" stroke="#222" stroke-width="0.2" >ns</text>
<text transform="translate(293.1,549.3) rotate(-45)" font-size="7.2" text-anchor="end" fill="#222" font-weight="normal" stroke="#222" stroke-width="0.2" textLength="15.2" lengthAdjust="spacingAndGlyphs" ><tspan fill="#f2b27a" stroke="#f2b27a">Ly6C</tspan><tspan fill="#f2b27a" stroke="#f2b27a"><tspan baseline-shift="0.8em" font-size="68%">−</tspan></tspan></text>
<text transform="translate(313.15000000000003,549.3) rotate(-45)" font-size="7.2" text-anchor="end" fill="#222" font-weight="normal" stroke="#222" stroke-width="0.2" textLength="15.2" lengthAdjust="spacingAndGlyphs" ><tspan fill="#7fc47f" stroke="#7fc47f">Ly6C</tspan><tspan fill="#7fc47f" stroke="#7fc47f"><tspan baseline-shift="0.8em" font-size="68%">+</tspan></tspan></text>
<line x1="353.5" y1="472.6" x2="353.5" y2="540.05" stroke="#262626" stroke-width="1.1" />
<line x1="352.95" y1="539.5" x2="399.6" y2="539.5" stroke="#262626" stroke-width="1.1" />
<line x1="350.0" y1="539.6" x2="353" y2="539.6" stroke="#262626" stroke-width="0.95" />
<text transform="translate(347.0,541.91) scale(0.88,1)" font-size="6.6" text-anchor="end" fill="#2a2a2a" font-weight="normal" stroke="#2a2a2a" stroke-width="0.2" >0</text>
<line x1="350.0" y1="523.35" x2="353" y2="523.35" stroke="#262626" stroke-width="0.95" />
<text transform="translate(347.0,525.66) scale(0.88,1)" font-size="6.6" text-anchor="end" fill="#2a2a2a" font-weight="normal" stroke="#2a2a2a" stroke-width="0.2" >2</text>
<line x1="350.0" y1="507.1" x2="353" y2="507.1" stroke="#262626" stroke-width="0.95" />
<text transform="translate(347.0,509.41) scale(0.88,1)" font-size="6.6" text-anchor="end" fill="#2a2a2a" font-weight="normal" stroke="#2a2a2a" stroke-width="0.2" >4</text>
<line x1="350.0" y1="490.85" x2="353" y2="490.85" stroke="#262626" stroke-width="0.95" />
<text transform="translate(347.0,493.16) scale(0.88,1)" font-size="6.6" text-anchor="end" fill="#2a2a2a" font-weight="normal" stroke="#2a2a2a" stroke-width="0.2" >6</text>
<line x1="350.0" y1="474.6" x2="353" y2="474.6" stroke="#262626" stroke-width="0.95" />
<text transform="translate(347.0,476.91) scale(0.88,1)" font-size="6.6" text-anchor="end" fill="#2a2a2a" font-weight="normal" stroke="#2a2a2a" stroke-width="0.2" >8</text>
<line x1="365.9" y1="539.6" x2="365.9" y2="542.4" stroke="#262626" stroke-width="0.95" />
<line x1="386.15" y1="539.6" x2="386.15" y2="542.4" stroke="#262626" stroke-width="0.95" />
<text transform="translate(338.2,505.3) rotate(-90)" font-size="8.1" text-anchor="middle" fill="#222" font-weight="normal" stroke="#222" stroke-width="0.2" textLength="52.2" lengthAdjust="spacingAndGlyphs" >Ki-67 MFI (×10<tspan baseline-shift="0.8em" font-size="68%">3</tspan>)</text>
<rect x="360.7" y="504.6625" width="10.400000000000034" height="34.9375" fill="#f28b0c" stroke="none" stroke-width="1" />
<line x1="365.9" y1="504.6625" x2="365.9" y2="499.7875" stroke="#f8c070" stroke-width="0.8" />
<line x1="363.09999999999997" y1="499.7875" x2="368.7" y2="499.7875" stroke="#f8c070" stroke-width="0.85" />
<circle cx="365.90" cy="497.35" r="1.3" fill="#111"/>
<circle cx="362.90" cy="503.04" r="1.3" fill="#111"/>
<circle cx="368.90" cy="503.85" r="1.3" fill="#111"/>
<circle cx="365.90" cy="507.91" r="1.3" fill="#111"/>
<circle cx="365.90" cy="511.98" r="1.3" fill="#111"/>
<rect x="381.0" y="488.4125" width="10.300000000000011" height="51.1875" fill="#3aa83a" stroke="none" stroke-width="1" />
<line x1="386.15" y1="488.4125" x2="386.15" y2="481.9125" stroke="#a8dca8" stroke-width="0.8" />
<line x1="383.34999999999997" y1="481.9125" x2="388.95" y2="481.9125" stroke="#a8dca8" stroke-width="0.85" />
<circle cx="386.15" cy="478.66" r="1.3" fill="#111"/>
<circle cx="383.15" cy="483.54" r="1.3" fill="#111"/>
<circle cx="389.15" cy="484.35" r="1.3" fill="#111"/>
<circle cx="383.15" cy="491.66" r="1.3" fill="#111"/>
<circle cx="389.15" cy="491.66" r="1.3" fill="#111"/>
<line x1="366.5" y1="474.5" x2="385.65" y2="474.5" stroke="#1e1e1e" stroke-width="1.0" />
<text transform="translate(376.075,474.9)" font-size="8.6" text-anchor="middle" fill="#1a1a1a" font-weight="normal" stroke="#1a1a1a" stroke-width="0.08" letter-spacing="0.5">**</text>
<text transform="translate(368.5,549.3) rotate(-45)" font-size="7.2" text-anchor="end" fill="#222" font-weight="normal" stroke="#222" stroke-width="0.2" textLength="15.2" lengthAdjust="spacingAndGlyphs" ><tspan fill="#f2b27a" stroke="#f2b27a">Ly6C</tspan><tspan fill="#f2b27a" stroke="#f2b27a"><tspan baseline-shift="0.8em" font-size="68%">−</tspan></tspan></text>
<text transform="translate(388.75,549.3) rotate(-45)" font-size="7.2" text-anchor="end" fill="#222" font-weight="normal" stroke="#222" stroke-width="0.2" textLength="15.2" lengthAdjust="spacingAndGlyphs" ><tspan fill="#7fc47f" stroke="#7fc47f">Ly6C</tspan><tspan fill="#7fc47f" stroke="#7fc47f"><tspan baseline-shift="0.8em" font-size="68%">+</tspan></tspan></text>
<line x1="428.5" y1="472.6" x2="428.5" y2="540.05" stroke="#262626" stroke-width="1.1" />
<line x1="427.95" y1="539.5" x2="474.7" y2="539.5" stroke="#262626" stroke-width="1.1" />
<line x1="425.2" y1="539.6" x2="428.2" y2="539.6" stroke="#262626" stroke-width="0.95" />
<text transform="translate(422.2,541.91) scale(0.88,1)" font-size="6.6" text-anchor="end" fill="#2a2a2a" font-weight="normal" stroke="#2a2a2a" stroke-width="0.2" >0</text>
<line x1="425.2" y1="523.35" x2="428.2" y2="523.35" stroke="#262626" stroke-width="0.95" />
<text transform="translate(422.2,525.66) scale(0.88,1)" font-size="6.6" text-anchor="end" fill="#2a2a2a" font-weight="normal" stroke="#2a2a2a" stroke-width="0.2" >2</text>
<line x1="425.2" y1="507.1" x2="428.2" y2="507.1" stroke="#262626" stroke-width="0.95" />
<text transform="translate(422.2,509.41) scale(0.88,1)" font-size="6.6" text-anchor="end" fill="#2a2a2a" font-weight="normal" stroke="#2a2a2a" stroke-width="0.2" >4</text>
<line x1="425.2" y1="490.85" x2="428.2" y2="490.85" stroke="#262626" stroke-width="0.95" />
<text transform="translate(422.2,493.16) scale(0.88,1)" font-size="6.6" text-anchor="end" fill="#2a2a2a" font-weight="normal" stroke="#2a2a2a" stroke-width="0.2" >6</text>
<line x1="425.2" y1="474.6" x2="428.2" y2="474.6" stroke="#262626" stroke-width="0.95" />
<text transform="translate(422.2,476.91) scale(0.88,1)" font-size="6.6" text-anchor="end" fill="#2a2a2a" font-weight="normal" stroke="#2a2a2a" stroke-width="0.2" >8</text>
<line x1="441.75" y1="539.6" x2="441.75" y2="542.4" stroke="#262626" stroke-width="0.95" />
<line x1="461.55" y1="539.6" x2="461.55" y2="542.4" stroke="#262626" stroke-width="0.95" />
<text transform="translate(415.2,505.9) rotate(-90)" font-size="8.1" text-anchor="middle" fill="#222" font-weight="normal" stroke="#222" stroke-width="0.2" textLength="53.3" lengthAdjust="spacingAndGlyphs" >GZMB MFI (×10<tspan baseline-shift="0.8em" font-size="68%">3</tspan>)</text>
<rect x="436.6" y="512.7875" width="10.299999999999955" height="26.8125" fill="#f28b0c" stroke="none" stroke-width="1" />
<line x1="441.75" y1="512.7875" x2="441.75" y2="507.9125" stroke="#f8c070" stroke-width="0.8" />
<line x1="438.95" y1="507.9125" x2="444.55" y2="507.9125" stroke="#f8c070" stroke-width="0.85" />
<circle cx="441.75" cy="507.10" r="1.3" fill="#111"/>
<circle cx="439.25" cy="509.54" r="1.3" fill="#111"/>
<circle cx="444.25" cy="510.35" r="1.3" fill="#111"/>
<circle cx="439.25" cy="513.60" r="1.3" fill="#111"/>
<circle cx="441.75" cy="517.66" r="1.3" fill="#111"/>
<rect x="456.3" y="496.5375" width="10.5" height="43.0625" fill="#3aa83a" stroke="none" stroke-width="1" />
<line x1="461.55" y1="496.5375" x2="461.55" y2="486.7875" stroke="#a8dca8" stroke-width="0.8" />
<line x1="458.75" y1="486.7875" x2="464.35" y2="486.7875" stroke="#a8dca8" stroke-width="0.85" />
<circle cx="458.55" cy="485.98" r="1.3" fill="#111"/>
<circle cx="464.55" cy="486.79" r="1.3" fill="#111"/>
<circle cx="461.55" cy="494.10" r="1.3" fill="#111"/>
<circle cx="461.55" cy="499.79" r="1.3" fill="#111"/>
<circle cx="461.55" cy="510.35" r="1.3" fill="#111"/>
<line x1="442.35" y1="480.5" x2="461.05" y2="480.5" stroke="#1e1e1e" stroke-width="1.0" />
<text transform="translate(451.70000000000005,480.9)" font-size="8.6" text-anchor="middle" fill="#1a1a1a" font-weight="normal" stroke="#1a1a1a" stroke-width="0.08" letter-spacing="0.5">*</text>
<text transform="translate(444.35,549.3) rotate(-45)" font-size="7.2" text-anchor="end" fill="#222" font-weight="normal" stroke="#222" stroke-width="0.2" textLength="15.2" lengthAdjust="spacingAndGlyphs" ><tspan fill="#f2b27a" stroke="#f2b27a">Ly6C</tspan><tspan fill="#f2b27a" stroke="#f2b27a"><tspan baseline-shift="0.8em" font-size="68%">−</tspan></tspan></text>
<text transform="translate(464.15000000000003,549.3) rotate(-45)" font-size="7.2" text-anchor="end" fill="#222" font-weight="normal" stroke="#222" stroke-width="0.2" textLength="15.2" lengthAdjust="spacingAndGlyphs" ><tspan fill="#7fc47f" stroke="#7fc47f">Ly6C</tspan><tspan fill="#7fc47f" stroke="#7fc47f"><tspan baseline-shift="0.8em" font-size="68%">+</tspan></tspan></text>
<rect x="0.5" y="0.5" width="519" height="568" fill="none" stroke="#555" stroke-width="1"/>
</svg>
</body></html>
